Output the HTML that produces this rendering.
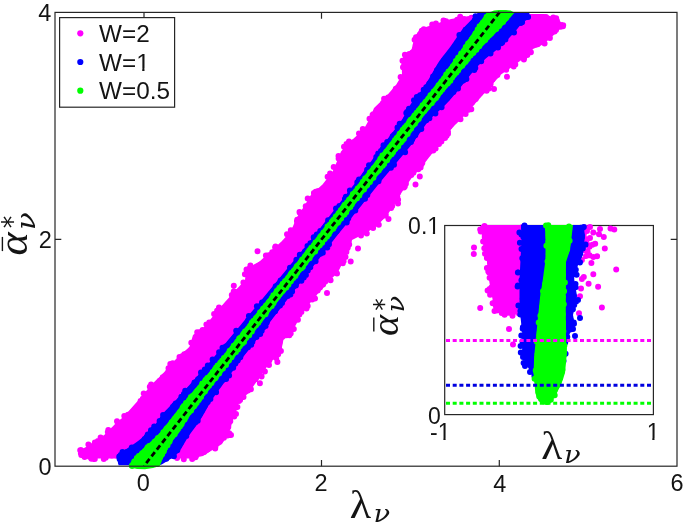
<!DOCTYPE html>
<html><head><meta charset="utf-8"><title>plot</title>
<style>html,body{margin:0;padding:0;background:#fff;width:685px;height:525px;overflow:hidden}svg{display:block}</style>
</head><body>
<svg width="685" height="525" viewBox="0 0 685 525">
<rect width="685" height="525" fill="#fff"/>
<path d="M144 466.2v-6.3M144 12.4v6.3M321.5 466.2v-6.3M321.5 12.4v6.3M499.3 466.2v-6.3M499.3 12.4v6.3M55 239.3h6.3M677 239.3h-6.3" stroke="#262626" stroke-width="1.2" fill="none"/>
<path fill="#ff00ff" d="M420 29 L435 24 L451 19 L470 16 L490 14 L520 14 L544 14 L556 18 L564 25 L559 30 L550 38.6 L543 44.4 L533 49 L527 56 L520 61 L511.5 67.3 L501 74.6 L488 89.2 L475 103.8 L469 111 L462 118 L455 125 L447 134 L439.4 144.2 L428 158.8 L420 169 L413 176 L402 192 L395 203.6 L388 214 L378 225 L364 234 L352 240 L350 249 L343.4 261.5 L337.5 273 L330 280 L324 287 L318.4 293 L311 302 L302.3 312 L296.5 323.8 L290.7 334 L283.4 340 L281 352 L268.6 364.2 L262.8 373 L255.5 383.2 L248.2 393.4 L240 400 L238 405 L234.5 414.6 L230 430 L222 444 L203 456 L191 458.5 L176 458.5 L84 458.5 L80 456 L80 450 L86 447 L97 440.5 L106 433.5 L115.5 423.6 L124.2 416.3 L134.5 404.6 L144 394 L150 386 L162 374.4 L176.5 358.4 L189.6 346.7 L193 335 L204.6 326.7 L216.3 312 L225 302 L239.6 286 L245 280 L246 269 L259.5 261.5 L271 251 L282 241 L288.5 233.8 L292 228.4 L296.5 218 L304 206.5 L311 194.8 L322.5 184.6 L333 171 L341 151.5 L347.5 144 L363.6 129.6 L370 118 L374 108 L386 96.5 L396 85 L402 75 L401.5 59 L411.7 49 L414.6 37Z"/><path fill="#ff00ff" d="M418.8 31.8a3 3 0 1 0 6 0a3 3 0 1 0 -6 0M422.1 30.6a3 3 0 1 0 6 0a3 3 0 1 0 -6 0M424.5 30.3a3 3 0 1 0 6 0a3 3 0 1 0 -6 0M425.9 30.1a3 3 0 1 0 6 0a3 3 0 1 0 -6 0M428.3 29.1a3 3 0 1 0 6 0a3 3 0 1 0 -6 0M430.7 27.8a3 3 0 1 0 6 0a3 3 0 1 0 -6 0M429.2 24.4a3 3 0 1 0 6 0a3 3 0 1 0 -6 0M420.8 29.2a3 3 0 1 0 6 0a3 3 0 1 0 -6 0M431.6 25.4a3 3 0 1 0 6 0a3 3 0 1 0 -6 0M434.4 28a3 3 0 1 0 6 0a3 3 0 1 0 -6 0M436.1 27.3a3 3 0 1 0 6 0a3 3 0 1 0 -6 0M439.1 25.2a3 3 0 1 0 6 0a3 3 0 1 0 -6 0M441.4 24.7a3 3 0 1 0 6 0a3 3 0 1 0 -6 0M445.8 23.1a3 3 0 1 0 6 0a3 3 0 1 0 -6 0M448.1 23.2a3 3 0 1 0 6 0a3 3 0 1 0 -6 0M440.5 20.5a3 3 0 1 0 6 0a3 3 0 1 0 -6 0M432.9 23.5a3 3 0 1 0 6 0a3 3 0 1 0 -6 0M443.1 21.2a3 3 0 1 0 6 0a3 3 0 1 0 -6 0M449.4 22.8a3 3 0 1 0 6 0a3 3 0 1 0 -6 0M452 21.9a3 3 0 1 0 6 0a3 3 0 1 0 -6 0M455.3 22a3 3 0 1 0 6 0a3 3 0 1 0 -6 0M456.3 21.7a3 3 0 1 0 6 0a3 3 0 1 0 -6 0M459.4 21.6a3 3 0 1 0 6 0a3 3 0 1 0 -6 0M462.1 20.3a3 3 0 1 0 6 0a3 3 0 1 0 -6 0M465.1 19.5a3 3 0 1 0 6 0a3 3 0 1 0 -6 0M466.3 20.4a3 3 0 1 0 6 0a3 3 0 1 0 -6 0M457.2 16.7a3 3 0 1 0 6 0a3 3 0 1 0 -6 0M461 18.9a3 3 0 1 0 6 0a3 3 0 1 0 -6 0M459.3 19.6a3 3 0 1 0 6 0a3 3 0 1 0 -6 0M454.2 19.7a3 3 0 1 0 6 0a3 3 0 1 0 -6 0M468.9 19.8a3 3 0 1 0 6 0a3 3 0 1 0 -6 0M471.1 20a3 3 0 1 0 6 0a3 3 0 1 0 -6 0M474.7 19a3 3 0 1 0 6 0a3 3 0 1 0 -6 0M476.5 18.2a3 3 0 1 0 6 0a3 3 0 1 0 -6 0M479.2 18.8a3 3 0 1 0 6 0a3 3 0 1 0 -6 0M482.4 18.8a3 3 0 1 0 6 0a3 3 0 1 0 -6 0M483.1 18a3 3 0 1 0 6 0a3 3 0 1 0 -6 0M486.5 17.1a3 3 0 1 0 6 0a3 3 0 1 0 -6 0M468.4 17.8a3 3 0 1 0 6 0a3 3 0 1 0 -6 0M475 17.5a3 3 0 1 0 6 0a3 3 0 1 0 -6 0M487.2 17.7a3 3 0 1 0 6 0a3 3 0 1 0 -6 0M490.9 18.4a3 3 0 1 0 6 0a3 3 0 1 0 -6 0M494 18.4a3 3 0 1 0 6 0a3 3 0 1 0 -6 0M495.2 17.7a3 3 0 1 0 6 0a3 3 0 1 0 -6 0M497.9 18.4a3 3 0 1 0 6 0a3 3 0 1 0 -6 0M501.9 17.2a3 3 0 1 0 6 0a3 3 0 1 0 -6 0M502.4 17.4a3 3 0 1 0 6 0a3 3 0 1 0 -6 0M505.1 17.8a3 3 0 1 0 6 0a3 3 0 1 0 -6 0M508.5 17.4a3 3 0 1 0 6 0a3 3 0 1 0 -6 0M509.5 17.7a3 3 0 1 0 6 0a3 3 0 1 0 -6 0M512.9 17.9a3 3 0 1 0 6 0a3 3 0 1 0 -6 0M516.9 18.1a3 3 0 1 0 6 0a3 3 0 1 0 -6 0M517.2 17.3a3 3 0 1 0 6 0a3 3 0 1 0 -6 0M519.8 17.5a3 3 0 1 0 6 0a3 3 0 1 0 -6 0M521.9 17a3 3 0 1 0 6 0a3 3 0 1 0 -6 0M524.6 17.2a3 3 0 1 0 6 0a3 3 0 1 0 -6 0M527.5 17a3 3 0 1 0 6 0a3 3 0 1 0 -6 0M531.1 18a3 3 0 1 0 6 0a3 3 0 1 0 -6 0M531.8 17.4a3 3 0 1 0 6 0a3 3 0 1 0 -6 0M534.6 17.6a3 3 0 1 0 6 0a3 3 0 1 0 -6 0M536.5 18.4a3 3 0 1 0 6 0a3 3 0 1 0 -6 0M541 17.7a3 3 0 1 0 6 0a3 3 0 1 0 -6 0M517.6 16.6a3 3 0 1 0 6 0a3 3 0 1 0 -6 0M541.3 17.3a3 3 0 1 0 6 0a3 3 0 1 0 -6 0M543.2 19.6a3 3 0 1 0 6 0a3 3 0 1 0 -6 0M546.6 20.2a3 3 0 1 0 6 0a3 3 0 1 0 -6 0M547.7 20a3 3 0 1 0 6 0a3 3 0 1 0 -6 0M549.7 21.4a3 3 0 1 0 6 0a3 3 0 1 0 -6 0M550.3 17.4a3 3 0 1 0 6 0a3 3 0 1 0 -6 0M543 16.9a3 3 0 1 0 6 0a3 3 0 1 0 -6 0M552.1 23a3 3 0 1 0 6 0a3 3 0 1 0 -6 0M553.8 24.4a3 3 0 1 0 6 0a3 3 0 1 0 -6 0M556.3 25.3a3 3 0 1 0 6 0a3 3 0 1 0 -6 0M557.7 26.8a3 3 0 1 0 6 0a3 3 0 1 0 -6 0M553.2 18.2a3 3 0 1 0 6 0a3 3 0 1 0 -6 0M554 21a3 3 0 1 0 6 0a3 3 0 1 0 -6 0M560.2 25.2a3 3 0 1 0 6 0a3 3 0 1 0 -6 0M555.4 24.1a3 3 0 1 0 6 0a3 3 0 1 0 -6 0M553.6 27.4a3 3 0 1 0 6 0a3 3 0 1 0 -6 0M560 26.3a3 3 0 1 0 6 0a3 3 0 1 0 -6 0M559 25.1a3 3 0 1 0 6 0a3 3 0 1 0 -6 0M551.4 28.4a3 3 0 1 0 6 0a3 3 0 1 0 -6 0M550.5 29.6a3 3 0 1 0 6 0a3 3 0 1 0 -6 0M548.8 32.5a3 3 0 1 0 6 0a3 3 0 1 0 -6 0M546.3 33.1a3 3 0 1 0 6 0a3 3 0 1 0 -6 0M544.5 35.2a3 3 0 1 0 6 0a3 3 0 1 0 -6 0M553 30.1a3 3 0 1 0 6 0a3 3 0 1 0 -6 0M551.6 31.4a3 3 0 1 0 6 0a3 3 0 1 0 -6 0M546.9 38a3 3 0 1 0 6 0a3 3 0 1 0 -6 0M543.2 35.9a3 3 0 1 0 6 0a3 3 0 1 0 -6 0M540.9 39.4a3 3 0 1 0 6 0a3 3 0 1 0 -6 0M540 40.2a3 3 0 1 0 6 0a3 3 0 1 0 -6 0M541.6 43.6a3 3 0 1 0 6 0a3 3 0 1 0 -6 0M536 41.2a3 3 0 1 0 6 0a3 3 0 1 0 -6 0M534.4 43.1a3 3 0 1 0 6 0a3 3 0 1 0 -6 0M532.3 44.4a3 3 0 1 0 6 0a3 3 0 1 0 -6 0M530.6 43.7a3 3 0 1 0 6 0a3 3 0 1 0 -6 0M533.7 44.5a3 3 0 1 0 6 0a3 3 0 1 0 -6 0M534.7 44.3a3 3 0 1 0 6 0a3 3 0 1 0 -6 0M525.8 48.8a3 3 0 1 0 6 0a3 3 0 1 0 -6 0M524.9 49.7a3 3 0 1 0 6 0a3 3 0 1 0 -6 0M522.5 51.7a3 3 0 1 0 6 0a3 3 0 1 0 -6 0M527.9 52.3a3 3 0 1 0 6 0a3 3 0 1 0 -6 0M524.3 55.1a3 3 0 1 0 6 0a3 3 0 1 0 -6 0M520.6 53.6a3 3 0 1 0 6 0a3 3 0 1 0 -6 0M517.4 56.2a3 3 0 1 0 6 0a3 3 0 1 0 -6 0M515 57.8a3 3 0 1 0 6 0a3 3 0 1 0 -6 0M520.9 59.4a3 3 0 1 0 6 0a3 3 0 1 0 -6 0M521.1 58.4a3 3 0 1 0 6 0a3 3 0 1 0 -6 0M514.4 57.6a3 3 0 1 0 6 0a3 3 0 1 0 -6 0M512.3 59.8a3 3 0 1 0 6 0a3 3 0 1 0 -6 0M508.9 62.2a3 3 0 1 0 6 0a3 3 0 1 0 -6 0M507.7 63.2a3 3 0 1 0 6 0a3 3 0 1 0 -6 0M510.7 66.4a3 3 0 1 0 6 0a3 3 0 1 0 -6 0M512.3 64.6a3 3 0 1 0 6 0a3 3 0 1 0 -6 0M505.5 64.2a3 3 0 1 0 6 0a3 3 0 1 0 -6 0M503.1 66.3a3 3 0 1 0 6 0a3 3 0 1 0 -6 0M500.2 67.7a3 3 0 1 0 6 0a3 3 0 1 0 -6 0M499 69.1a3 3 0 1 0 6 0a3 3 0 1 0 -6 0M496.9 70.7a3 3 0 1 0 6 0a3 3 0 1 0 -6 0M503.2 69.8a3 3 0 1 0 6 0a3 3 0 1 0 -6 0M502 68.7a3 3 0 1 0 6 0a3 3 0 1 0 -6 0M493.6 72.9a3 3 0 1 0 6 0a3 3 0 1 0 -6 0M492.3 75.9a3 3 0 1 0 6 0a3 3 0 1 0 -6 0M490.5 76.3a3 3 0 1 0 6 0a3 3 0 1 0 -6 0M489.4 79.5a3 3 0 1 0 6 0a3 3 0 1 0 -6 0M488.5 79.7a3 3 0 1 0 6 0a3 3 0 1 0 -6 0M487.2 81.6a3 3 0 1 0 6 0a3 3 0 1 0 -6 0M485.1 83a3 3 0 1 0 6 0a3 3 0 1 0 -6 0M482 85.9a3 3 0 1 0 6 0a3 3 0 1 0 -6 0M487.6 84.1a3 3 0 1 0 6 0a3 3 0 1 0 -6 0M494.4 75.1a3 3 0 1 0 6 0a3 3 0 1 0 -6 0M485.5 88.8a3 3 0 1 0 6 0a3 3 0 1 0 -6 0M485.2 88.2a3 3 0 1 0 6 0a3 3 0 1 0 -6 0M480.8 87a3 3 0 1 0 6 0a3 3 0 1 0 -6 0M479.6 90.4a3 3 0 1 0 6 0a3 3 0 1 0 -6 0M478.2 91.1a3 3 0 1 0 6 0a3 3 0 1 0 -6 0M477.1 93.1a3 3 0 1 0 6 0a3 3 0 1 0 -6 0M474.9 94.3a3 3 0 1 0 6 0a3 3 0 1 0 -6 0M473.9 95.8a3 3 0 1 0 6 0a3 3 0 1 0 -6 0M472.3 98.9a3 3 0 1 0 6 0a3 3 0 1 0 -6 0M470.1 99.9a3 3 0 1 0 6 0a3 3 0 1 0 -6 0M482.1 88.3a3 3 0 1 0 6 0a3 3 0 1 0 -6 0M472.7 98.9a3 3 0 1 0 6 0a3 3 0 1 0 -6 0M483.6 90.7a3 3 0 1 0 6 0a3 3 0 1 0 -6 0M483 88.5a3 3 0 1 0 6 0a3 3 0 1 0 -6 0M469 102.4a3 3 0 1 0 6 0a3 3 0 1 0 -6 0M465.7 104.4a3 3 0 1 0 6 0a3 3 0 1 0 -6 0M463.7 108.4a3 3 0 1 0 6 0a3 3 0 1 0 -6 0M465.6 109.7a3 3 0 1 0 6 0a3 3 0 1 0 -6 0M468.3 109.3a3 3 0 1 0 6 0a3 3 0 1 0 -6 0M463 108.2a3 3 0 1 0 6 0a3 3 0 1 0 -6 0M461.3 111.3a3 3 0 1 0 6 0a3 3 0 1 0 -6 0M458 113.3a3 3 0 1 0 6 0a3 3 0 1 0 -6 0M457.1 115.4a3 3 0 1 0 6 0a3 3 0 1 0 -6 0M463.9 109.9a3 3 0 1 0 6 0a3 3 0 1 0 -6 0M462.6 114a3 3 0 1 0 6 0a3 3 0 1 0 -6 0M454.9 115.8a3 3 0 1 0 6 0a3 3 0 1 0 -6 0M454.5 118a3 3 0 1 0 6 0a3 3 0 1 0 -6 0M452.2 120a3 3 0 1 0 6 0a3 3 0 1 0 -6 0M451.3 121.1a3 3 0 1 0 6 0a3 3 0 1 0 -6 0M457.5 119.3a3 3 0 1 0 6 0a3 3 0 1 0 -6 0M455.5 118.8a3 3 0 1 0 6 0a3 3 0 1 0 -6 0M448.7 123a3 3 0 1 0 6 0a3 3 0 1 0 -6 0M447.5 124.8a3 3 0 1 0 6 0a3 3 0 1 0 -6 0M446.2 126.4a3 3 0 1 0 6 0a3 3 0 1 0 -6 0M444.1 127.7a3 3 0 1 0 6 0a3 3 0 1 0 -6 0M442.2 131a3 3 0 1 0 6 0a3 3 0 1 0 -6 0M445 133.8a3 3 0 1 0 6 0a3 3 0 1 0 -6 0M445 131.9a3 3 0 1 0 6 0a3 3 0 1 0 -6 0M439.8 132.4a3 3 0 1 0 6 0a3 3 0 1 0 -6 0M438.8 134.6a3 3 0 1 0 6 0a3 3 0 1 0 -6 0M436.2 136.8a3 3 0 1 0 6 0a3 3 0 1 0 -6 0M435.4 138.2a3 3 0 1 0 6 0a3 3 0 1 0 -6 0M433.6 141.2a3 3 0 1 0 6 0a3 3 0 1 0 -6 0M442 138a3 3 0 1 0 6 0a3 3 0 1 0 -6 0M443.6 135.8a3 3 0 1 0 6 0a3 3 0 1 0 -6 0M438.4 141.6a3 3 0 1 0 6 0a3 3 0 1 0 -6 0M433.7 142.6a3 3 0 1 0 6 0a3 3 0 1 0 -6 0M429.9 145.3a3 3 0 1 0 6 0a3 3 0 1 0 -6 0M429.3 147.6a3 3 0 1 0 6 0a3 3 0 1 0 -6 0M428.4 148.8a3 3 0 1 0 6 0a3 3 0 1 0 -6 0M426.6 151.5a3 3 0 1 0 6 0a3 3 0 1 0 -6 0M424.8 153.5a3 3 0 1 0 6 0a3 3 0 1 0 -6 0M421.5 155.9a3 3 0 1 0 6 0a3 3 0 1 0 -6 0M431.5 146.1a3 3 0 1 0 6 0a3 3 0 1 0 -6 0M432.6 148.5a3 3 0 1 0 6 0a3 3 0 1 0 -6 0M436 143.9a3 3 0 1 0 6 0a3 3 0 1 0 -6 0M430.3 150.6a3 3 0 1 0 6 0a3 3 0 1 0 -6 0M421.7 156.9a3 3 0 1 0 6 0a3 3 0 1 0 -6 0M420.7 158.7a3 3 0 1 0 6 0a3 3 0 1 0 -6 0M418.8 160.8a3 3 0 1 0 6 0a3 3 0 1 0 -6 0M417.7 163.1a3 3 0 1 0 6 0a3 3 0 1 0 -6 0M415.5 165.5a3 3 0 1 0 6 0a3 3 0 1 0 -6 0M419.3 163.1a3 3 0 1 0 6 0a3 3 0 1 0 -6 0M418.4 164.4a3 3 0 1 0 6 0a3 3 0 1 0 -6 0M417.6 167.5a3 3 0 1 0 6 0a3 3 0 1 0 -6 0M413.2 166.3a3 3 0 1 0 6 0a3 3 0 1 0 -6 0M412 168.1a3 3 0 1 0 6 0a3 3 0 1 0 -6 0M410.2 171.5a3 3 0 1 0 6 0a3 3 0 1 0 -6 0M407.2 172.6a3 3 0 1 0 6 0a3 3 0 1 0 -6 0M410.4 172.7a3 3 0 1 0 6 0a3 3 0 1 0 -6 0M415.3 169.3a3 3 0 1 0 6 0a3 3 0 1 0 -6 0M405.7 174.6a3 3 0 1 0 6 0a3 3 0 1 0 -6 0M404 177.2a3 3 0 1 0 6 0a3 3 0 1 0 -6 0M402.8 178.7a3 3 0 1 0 6 0a3 3 0 1 0 -6 0M401.5 181a3 3 0 1 0 6 0a3 3 0 1 0 -6 0M401.7 182.7a3 3 0 1 0 6 0a3 3 0 1 0 -6 0M400 184.2a3 3 0 1 0 6 0a3 3 0 1 0 -6 0M398 185.8a3 3 0 1 0 6 0a3 3 0 1 0 -6 0M396.3 188.8a3 3 0 1 0 6 0a3 3 0 1 0 -6 0M401.8 186.4a3 3 0 1 0 6 0a3 3 0 1 0 -6 0M408.3 174.9a3 3 0 1 0 6 0a3 3 0 1 0 -6 0M401 187.5a3 3 0 1 0 6 0a3 3 0 1 0 -6 0M402.9 183.7a3 3 0 1 0 6 0a3 3 0 1 0 -6 0M395.3 190a3 3 0 1 0 6 0a3 3 0 1 0 -6 0M394.6 193.3a3 3 0 1 0 6 0a3 3 0 1 0 -6 0M392.3 195.1a3 3 0 1 0 6 0a3 3 0 1 0 -6 0M390.9 197.3a3 3 0 1 0 6 0a3 3 0 1 0 -6 0M388.8 201.6a3 3 0 1 0 6 0a3 3 0 1 0 -6 0M394.3 196.7a3 3 0 1 0 6 0a3 3 0 1 0 -6 0M392.5 200.2a3 3 0 1 0 6 0a3 3 0 1 0 -6 0M395.1 199.8a3 3 0 1 0 6 0a3 3 0 1 0 -6 0M389 202a3 3 0 1 0 6 0a3 3 0 1 0 -6 0M386.7 205.3a3 3 0 1 0 6 0a3 3 0 1 0 -6 0M385.9 207.3a3 3 0 1 0 6 0a3 3 0 1 0 -6 0M384.9 208.1a3 3 0 1 0 6 0a3 3 0 1 0 -6 0M382.1 211a3 3 0 1 0 6 0a3 3 0 1 0 -6 0M389.2 206.1a3 3 0 1 0 6 0a3 3 0 1 0 -6 0M388.1 208a3 3 0 1 0 6 0a3 3 0 1 0 -6 0M381.5 211.2a3 3 0 1 0 6 0a3 3 0 1 0 -6 0M379.6 213.1a3 3 0 1 0 6 0a3 3 0 1 0 -6 0M377.9 217.3a3 3 0 1 0 6 0a3 3 0 1 0 -6 0M376 217.4a3 3 0 1 0 6 0a3 3 0 1 0 -6 0M374 220.6a3 3 0 1 0 6 0a3 3 0 1 0 -6 0M373.8 221.4a3 3 0 1 0 6 0a3 3 0 1 0 -6 0M382 215.5a3 3 0 1 0 6 0a3 3 0 1 0 -6 0M382.8 214.9a3 3 0 1 0 6 0a3 3 0 1 0 -6 0M375.8 224.8a3 3 0 1 0 6 0a3 3 0 1 0 -6 0M371 223a3 3 0 1 0 6 0a3 3 0 1 0 -6 0M368.4 224.4a3 3 0 1 0 6 0a3 3 0 1 0 -6 0M367.4 224.6a3 3 0 1 0 6 0a3 3 0 1 0 -6 0M365.2 227.7a3 3 0 1 0 6 0a3 3 0 1 0 -6 0M363.6 227.8a3 3 0 1 0 6 0a3 3 0 1 0 -6 0M360.4 230.2a3 3 0 1 0 6 0a3 3 0 1 0 -6 0M370.1 227.9a3 3 0 1 0 6 0a3 3 0 1 0 -6 0M363.8 233.4a3 3 0 1 0 6 0a3 3 0 1 0 -6 0M363.3 229.9a3 3 0 1 0 6 0a3 3 0 1 0 -6 0M372 224a3 3 0 1 0 6 0a3 3 0 1 0 -6 0M357.3 230.9a3 3 0 1 0 6 0a3 3 0 1 0 -6 0M356.3 232.3a3 3 0 1 0 6 0a3 3 0 1 0 -6 0M353.2 232.8a3 3 0 1 0 6 0a3 3 0 1 0 -6 0M350.8 235.1a3 3 0 1 0 6 0a3 3 0 1 0 -6 0M348.8 236.2a3 3 0 1 0 6 0a3 3 0 1 0 -6 0M358.8 232.7a3 3 0 1 0 6 0a3 3 0 1 0 -6 0M356.4 233.4a3 3 0 1 0 6 0a3 3 0 1 0 -6 0M358 235.5a3 3 0 1 0 6 0a3 3 0 1 0 -6 0M345.4 240.8a3 3 0 1 0 6 0a3 3 0 1 0 -6 0M343.7 243.1a3 3 0 1 0 6 0a3 3 0 1 0 -6 0M342.9 247.7a3 3 0 1 0 6 0a3 3 0 1 0 -6 0M344.7 247.7a3 3 0 1 0 6 0a3 3 0 1 0 -6 0M346.2 244.6a3 3 0 1 0 6 0a3 3 0 1 0 -6 0M343.2 247.2a3 3 0 1 0 6 0a3 3 0 1 0 -6 0M341.4 250.7a3 3 0 1 0 6 0a3 3 0 1 0 -6 0M340.5 254a3 3 0 1 0 6 0a3 3 0 1 0 -6 0M339 254.5a3 3 0 1 0 6 0a3 3 0 1 0 -6 0M338.2 257.6a3 3 0 1 0 6 0a3 3 0 1 0 -6 0M343.4 251.9a3 3 0 1 0 6 0a3 3 0 1 0 -6 0M340.6 261.2a3 3 0 1 0 6 0a3 3 0 1 0 -6 0M342.5 257.1a3 3 0 1 0 6 0a3 3 0 1 0 -6 0M336.5 261.1a3 3 0 1 0 6 0a3 3 0 1 0 -6 0M336.1 262.7a3 3 0 1 0 6 0a3 3 0 1 0 -6 0M333.8 264.5a3 3 0 1 0 6 0a3 3 0 1 0 -6 0M333.3 268a3 3 0 1 0 6 0a3 3 0 1 0 -6 0M330.5 270.7a3 3 0 1 0 6 0a3 3 0 1 0 -6 0M339.8 263.2a3 3 0 1 0 6 0a3 3 0 1 0 -6 0M339.6 262.4a3 3 0 1 0 6 0a3 3 0 1 0 -6 0M339.9 262.6a3 3 0 1 0 6 0a3 3 0 1 0 -6 0M331.3 270.6a3 3 0 1 0 6 0a3 3 0 1 0 -6 0M328.1 273.2a3 3 0 1 0 6 0a3 3 0 1 0 -6 0M327.5 274.5a3 3 0 1 0 6 0a3 3 0 1 0 -6 0M325.4 276.5a3 3 0 1 0 6 0a3 3 0 1 0 -6 0M334 273.4a3 3 0 1 0 6 0a3 3 0 1 0 -6 0M327.6 280.2a3 3 0 1 0 6 0a3 3 0 1 0 -6 0M323 278.6a3 3 0 1 0 6 0a3 3 0 1 0 -6 0M320.7 282.2a3 3 0 1 0 6 0a3 3 0 1 0 -6 0M319.9 283.1a3 3 0 1 0 6 0a3 3 0 1 0 -6 0M322.3 281.4a3 3 0 1 0 6 0a3 3 0 1 0 -6 0M320.1 284.4a3 3 0 1 0 6 0a3 3 0 1 0 -6 0M318.7 285a3 3 0 1 0 6 0a3 3 0 1 0 -6 0M314.6 287.4a3 3 0 1 0 6 0a3 3 0 1 0 -6 0M313.5 289.3a3 3 0 1 0 6 0a3 3 0 1 0 -6 0M317 287.6a3 3 0 1 0 6 0a3 3 0 1 0 -6 0M314.7 290.4a3 3 0 1 0 6 0a3 3 0 1 0 -6 0M311 293a3 3 0 1 0 6 0a3 3 0 1 0 -6 0M310.8 293.4a3 3 0 1 0 6 0a3 3 0 1 0 -6 0M307.6 296.1a3 3 0 1 0 6 0a3 3 0 1 0 -6 0M304.9 299.2a3 3 0 1 0 6 0a3 3 0 1 0 -6 0M309.2 299.4a3 3 0 1 0 6 0a3 3 0 1 0 -6 0M312 298.5a3 3 0 1 0 6 0a3 3 0 1 0 -6 0M304.1 301.4a3 3 0 1 0 6 0a3 3 0 1 0 -6 0M301.6 303.2a3 3 0 1 0 6 0a3 3 0 1 0 -6 0M301.6 304.5a3 3 0 1 0 6 0a3 3 0 1 0 -6 0M299.3 305.9a3 3 0 1 0 6 0a3 3 0 1 0 -6 0M297.4 309.3a3 3 0 1 0 6 0a3 3 0 1 0 -6 0M302.5 306.4a3 3 0 1 0 6 0a3 3 0 1 0 -6 0M304.7 306a3 3 0 1 0 6 0a3 3 0 1 0 -6 0M303.5 308.6a3 3 0 1 0 6 0a3 3 0 1 0 -6 0M295.6 311.1a3 3 0 1 0 6 0a3 3 0 1 0 -6 0M293.4 314.8a3 3 0 1 0 6 0a3 3 0 1 0 -6 0M292.6 317.1a3 3 0 1 0 6 0a3 3 0 1 0 -6 0M292.5 318.1a3 3 0 1 0 6 0a3 3 0 1 0 -6 0M289.8 321.9a3 3 0 1 0 6 0a3 3 0 1 0 -6 0M298.4 311.9a3 3 0 1 0 6 0a3 3 0 1 0 -6 0M294.9 319.7a3 3 0 1 0 6 0a3 3 0 1 0 -6 0M296.4 314.4a3 3 0 1 0 6 0a3 3 0 1 0 -6 0M289.2 324.5a3 3 0 1 0 6 0a3 3 0 1 0 -6 0M288.9 324.7a3 3 0 1 0 6 0a3 3 0 1 0 -6 0M286.4 327.9a3 3 0 1 0 6 0a3 3 0 1 0 -6 0M285.1 329.8a3 3 0 1 0 6 0a3 3 0 1 0 -6 0M290.8 329.1a3 3 0 1 0 6 0a3 3 0 1 0 -6 0M287.7 333.6a3 3 0 1 0 6 0a3 3 0 1 0 -6 0M283.6 333a3 3 0 1 0 6 0a3 3 0 1 0 -6 0M282.1 333.2a3 3 0 1 0 6 0a3 3 0 1 0 -6 0M279.2 335.1a3 3 0 1 0 6 0a3 3 0 1 0 -6 0M286.4 335.2a3 3 0 1 0 6 0a3 3 0 1 0 -6 0M283.7 335.3a3 3 0 1 0 6 0a3 3 0 1 0 -6 0M276.8 341.6a3 3 0 1 0 6 0a3 3 0 1 0 -6 0M276.5 342.7a3 3 0 1 0 6 0a3 3 0 1 0 -6 0M275.8 346.5a3 3 0 1 0 6 0a3 3 0 1 0 -6 0M275.9 346.7a3 3 0 1 0 6 0a3 3 0 1 0 -6 0M273.9 349.7a3 3 0 1 0 6 0a3 3 0 1 0 -6 0M275.9 348.2a3 3 0 1 0 6 0a3 3 0 1 0 -6 0M277.9 351.1a3 3 0 1 0 6 0a3 3 0 1 0 -6 0M274.5 349.1a3 3 0 1 0 6 0a3 3 0 1 0 -6 0M272.8 352.9a3 3 0 1 0 6 0a3 3 0 1 0 -6 0M270.8 354.1a3 3 0 1 0 6 0a3 3 0 1 0 -6 0M269.5 355.4a3 3 0 1 0 6 0a3 3 0 1 0 -6 0M268.5 357.1a3 3 0 1 0 6 0a3 3 0 1 0 -6 0M266.1 358.7a3 3 0 1 0 6 0a3 3 0 1 0 -6 0M263.4 361.8a3 3 0 1 0 6 0a3 3 0 1 0 -6 0M275.2 354.3a3 3 0 1 0 6 0a3 3 0 1 0 -6 0M266.3 360.5a3 3 0 1 0 6 0a3 3 0 1 0 -6 0M273.2 357.9a3 3 0 1 0 6 0a3 3 0 1 0 -6 0M261.9 363.3a3 3 0 1 0 6 0a3 3 0 1 0 -6 0M260.1 366.6a3 3 0 1 0 6 0a3 3 0 1 0 -6 0M258.5 367a3 3 0 1 0 6 0a3 3 0 1 0 -6 0M258.2 368.9a3 3 0 1 0 6 0a3 3 0 1 0 -6 0M261.9 371.4a3 3 0 1 0 6 0a3 3 0 1 0 -6 0M266 364.9a3 3 0 1 0 6 0a3 3 0 1 0 -6 0M255.7 372.9a3 3 0 1 0 6 0a3 3 0 1 0 -6 0M253.6 374a3 3 0 1 0 6 0a3 3 0 1 0 -6 0M253.6 375.8a3 3 0 1 0 6 0a3 3 0 1 0 -6 0M250.8 378.8a3 3 0 1 0 6 0a3 3 0 1 0 -6 0M250.2 379.3a3 3 0 1 0 6 0a3 3 0 1 0 -6 0M258.6 376.4a3 3 0 1 0 6 0a3 3 0 1 0 -6 0M252.3 379.3a3 3 0 1 0 6 0a3 3 0 1 0 -6 0M253.1 378a3 3 0 1 0 6 0a3 3 0 1 0 -6 0M249.7 381.3a3 3 0 1 0 6 0a3 3 0 1 0 -6 0M246.7 383.6a3 3 0 1 0 6 0a3 3 0 1 0 -6 0M245.2 387.1a3 3 0 1 0 6 0a3 3 0 1 0 -6 0M244.8 387.7a3 3 0 1 0 6 0a3 3 0 1 0 -6 0M242.3 389.8a3 3 0 1 0 6 0a3 3 0 1 0 -6 0M245.2 390.3a3 3 0 1 0 6 0a3 3 0 1 0 -6 0M244.9 390.5a3 3 0 1 0 6 0a3 3 0 1 0 -6 0M247.9 389.3a3 3 0 1 0 6 0a3 3 0 1 0 -6 0M242.3 391.1a3 3 0 1 0 6 0a3 3 0 1 0 -6 0M239.6 393.9a3 3 0 1 0 6 0a3 3 0 1 0 -6 0M238.1 393.8a3 3 0 1 0 6 0a3 3 0 1 0 -6 0M236.6 396.3a3 3 0 1 0 6 0a3 3 0 1 0 -6 0M240.5 396.9a3 3 0 1 0 6 0a3 3 0 1 0 -6 0M235.7 398a3 3 0 1 0 6 0a3 3 0 1 0 -6 0M237.1 399.9a3 3 0 1 0 6 0a3 3 0 1 0 -6 0M234 399a3 3 0 1 0 6 0a3 3 0 1 0 -6 0M231.7 402.2a3 3 0 1 0 6 0a3 3 0 1 0 -6 0M236 401a3 3 0 1 0 6 0a3 3 0 1 0 -6 0M230.6 405.1a3 3 0 1 0 6 0a3 3 0 1 0 -6 0M229.4 407.7a3 3 0 1 0 6 0a3 3 0 1 0 -6 0M229.7 410.3a3 3 0 1 0 6 0a3 3 0 1 0 -6 0M228.4 413a3 3 0 1 0 6 0a3 3 0 1 0 -6 0M232 408a3 3 0 1 0 6 0a3 3 0 1 0 -6 0M234.4 406.9a3 3 0 1 0 6 0a3 3 0 1 0 -6 0M228.2 414.3a3 3 0 1 0 6 0a3 3 0 1 0 -6 0M226.3 418.3a3 3 0 1 0 6 0a3 3 0 1 0 -6 0M226.3 419.6a3 3 0 1 0 6 0a3 3 0 1 0 -6 0M224.8 423.8a3 3 0 1 0 6 0a3 3 0 1 0 -6 0M224.2 424.3a3 3 0 1 0 6 0a3 3 0 1 0 -6 0M222.9 427.8a3 3 0 1 0 6 0a3 3 0 1 0 -6 0M227.3 421.3a3 3 0 1 0 6 0a3 3 0 1 0 -6 0M225.3 426.9a3 3 0 1 0 6 0a3 3 0 1 0 -6 0M231.2 415.2a3 3 0 1 0 6 0a3 3 0 1 0 -6 0M231.2 416.5a3 3 0 1 0 6 0a3 3 0 1 0 -6 0M222.3 430.3a3 3 0 1 0 6 0a3 3 0 1 0 -6 0M221.3 432.7a3 3 0 1 0 6 0a3 3 0 1 0 -6 0M219.9 434.8a3 3 0 1 0 6 0a3 3 0 1 0 -6 0M219 435.5a3 3 0 1 0 6 0a3 3 0 1 0 -6 0M217.7 440a3 3 0 1 0 6 0a3 3 0 1 0 -6 0M216.1 441.1a3 3 0 1 0 6 0a3 3 0 1 0 -6 0M224.5 435.4a3 3 0 1 0 6 0a3 3 0 1 0 -6 0M225.4 432.9a3 3 0 1 0 6 0a3 3 0 1 0 -6 0M220.9 437.7a3 3 0 1 0 6 0a3 3 0 1 0 -6 0M226.2 433.3a3 3 0 1 0 6 0a3 3 0 1 0 -6 0M216.1 441a3 3 0 1 0 6 0a3 3 0 1 0 -6 0M214.6 442.6a3 3 0 1 0 6 0a3 3 0 1 0 -6 0M212.1 443.3a3 3 0 1 0 6 0a3 3 0 1 0 -6 0M209.9 446.1a3 3 0 1 0 6 0a3 3 0 1 0 -6 0M208.4 446.4a3 3 0 1 0 6 0a3 3 0 1 0 -6 0M205.1 448a3 3 0 1 0 6 0a3 3 0 1 0 -6 0M204.4 449.4a3 3 0 1 0 6 0a3 3 0 1 0 -6 0M200.8 451.2a3 3 0 1 0 6 0a3 3 0 1 0 -6 0M199.6 452.1a3 3 0 1 0 6 0a3 3 0 1 0 -6 0M212.4 446.8a3 3 0 1 0 6 0a3 3 0 1 0 -6 0M211.9 447.8a3 3 0 1 0 6 0a3 3 0 1 0 -6 0M201.1 452a3 3 0 1 0 6 0a3 3 0 1 0 -6 0M212.2 448.6a3 3 0 1 0 6 0a3 3 0 1 0 -6 0M197.6 453.1a3 3 0 1 0 6 0a3 3 0 1 0 -6 0M196.7 452.2a3 3 0 1 0 6 0a3 3 0 1 0 -6 0M193.3 453a3 3 0 1 0 6 0a3 3 0 1 0 -6 0M190.9 453.4a3 3 0 1 0 6 0a3 3 0 1 0 -6 0M188.6 455a3 3 0 1 0 6 0a3 3 0 1 0 -6 0M193.1 456a3 3 0 1 0 6 0a3 3 0 1 0 -6 0M189.2 458.9a3 3 0 1 0 6 0a3 3 0 1 0 -6 0M192.5 457.2a3 3 0 1 0 6 0a3 3 0 1 0 -6 0M186.7 455.3a3 3 0 1 0 6 0a3 3 0 1 0 -6 0M184.8 454.7a3 3 0 1 0 6 0a3 3 0 1 0 -6 0M180.7 455.3a3 3 0 1 0 6 0a3 3 0 1 0 -6 0M179.3 454.2a3 3 0 1 0 6 0a3 3 0 1 0 -6 0M175.6 455.2a3 3 0 1 0 6 0a3 3 0 1 0 -6 0M175.2 454a3 3 0 1 0 6 0a3 3 0 1 0 -6 0M180.8 459.3a3 3 0 1 0 6 0a3 3 0 1 0 -6 0M174.1 458a3 3 0 1 0 6 0a3 3 0 1 0 -6 0M174.4 457.1a3 3 0 1 0 6 0a3 3 0 1 0 -6 0M171 455.2a3 3 0 1 0 6 0a3 3 0 1 0 -6 0M168.7 455.1a3 3 0 1 0 6 0a3 3 0 1 0 -6 0M167.2 454.1a3 3 0 1 0 6 0a3 3 0 1 0 -6 0M163.7 455.2a3 3 0 1 0 6 0a3 3 0 1 0 -6 0M162.8 454.9a3 3 0 1 0 6 0a3 3 0 1 0 -6 0M159.6 454.9a3 3 0 1 0 6 0a3 3 0 1 0 -6 0M158.2 455.1a3 3 0 1 0 6 0a3 3 0 1 0 -6 0M154.3 454.1a3 3 0 1 0 6 0a3 3 0 1 0 -6 0M153.5 454.6a3 3 0 1 0 6 0a3 3 0 1 0 -6 0M149.4 455.4a3 3 0 1 0 6 0a3 3 0 1 0 -6 0M146.8 455.3a3 3 0 1 0 6 0a3 3 0 1 0 -6 0M144.9 454.6a3 3 0 1 0 6 0a3 3 0 1 0 -6 0M142.4 455a3 3 0 1 0 6 0a3 3 0 1 0 -6 0M140.5 454.6a3 3 0 1 0 6 0a3 3 0 1 0 -6 0M138.1 454.4a3 3 0 1 0 6 0a3 3 0 1 0 -6 0M135.6 454.8a3 3 0 1 0 6 0a3 3 0 1 0 -6 0M134.2 454.5a3 3 0 1 0 6 0a3 3 0 1 0 -6 0M130.7 455.1a3 3 0 1 0 6 0a3 3 0 1 0 -6 0M127.6 454.3a3 3 0 1 0 6 0a3 3 0 1 0 -6 0M125.9 455.2a3 3 0 1 0 6 0a3 3 0 1 0 -6 0M123.4 455.3a3 3 0 1 0 6 0a3 3 0 1 0 -6 0M121.8 454.8a3 3 0 1 0 6 0a3 3 0 1 0 -6 0M119.5 454.8a3 3 0 1 0 6 0a3 3 0 1 0 -6 0M116.1 455.4a3 3 0 1 0 6 0a3 3 0 1 0 -6 0M113.4 455.4a3 3 0 1 0 6 0a3 3 0 1 0 -6 0M110.7 454.3a3 3 0 1 0 6 0a3 3 0 1 0 -6 0M108.8 455.4a3 3 0 1 0 6 0a3 3 0 1 0 -6 0M106.4 454.9a3 3 0 1 0 6 0a3 3 0 1 0 -6 0M102.9 455.3a3 3 0 1 0 6 0a3 3 0 1 0 -6 0M100.7 453.9a3 3 0 1 0 6 0a3 3 0 1 0 -6 0M98.6 454.2a3 3 0 1 0 6 0a3 3 0 1 0 -6 0M97.5 453.9a3 3 0 1 0 6 0a3 3 0 1 0 -6 0M94.3 454a3 3 0 1 0 6 0a3 3 0 1 0 -6 0M90.9 455.2a3 3 0 1 0 6 0a3 3 0 1 0 -6 0M88.8 454a3 3 0 1 0 6 0a3 3 0 1 0 -6 0M88.1 454.9a3 3 0 1 0 6 0a3 3 0 1 0 -6 0M84 455.2a3 3 0 1 0 6 0a3 3 0 1 0 -6 0M81.3 455.1a3 3 0 1 0 6 0a3 3 0 1 0 -6 0M159.8 457.6a3 3 0 1 0 6 0a3 3 0 1 0 -6 0M88.4 458.7a3 3 0 1 0 6 0a3 3 0 1 0 -6 0M148.8 457.6a3 3 0 1 0 6 0a3 3 0 1 0 -6 0M143.6 459.4a3 3 0 1 0 6 0a3 3 0 1 0 -6 0M156.2 458.9a3 3 0 1 0 6 0a3 3 0 1 0 -6 0M86.9 456.9a3 3 0 1 0 6 0a3 3 0 1 0 -6 0M90.6 458.9a3 3 0 1 0 6 0a3 3 0 1 0 -6 0M100.8 459.1a3 3 0 1 0 6 0a3 3 0 1 0 -6 0M124.2 457.1a3 3 0 1 0 6 0a3 3 0 1 0 -6 0M139.9 456.2a3 3 0 1 0 6 0a3 3 0 1 0 -6 0M121.9 457.3a3 3 0 1 0 6 0a3 3 0 1 0 -6 0M91.8 459.1a3 3 0 1 0 6 0a3 3 0 1 0 -6 0M81.6 457.1a3 3 0 1 0 6 0a3 3 0 1 0 -6 0M136.7 456.5a3 3 0 1 0 6 0a3 3 0 1 0 -6 0M148.6 455.7a3 3 0 1 0 6 0a3 3 0 1 0 -6 0M119.9 458.1a3 3 0 1 0 6 0a3 3 0 1 0 -6 0M102.7 457.8a3 3 0 1 0 6 0a3 3 0 1 0 -6 0M156.7 456.7a3 3 0 1 0 6 0a3 3 0 1 0 -6 0M83.1 454.7a3 3 0 1 0 6 0a3 3 0 1 0 -6 0M79.9 454.6a3 3 0 1 0 6 0a3 3 0 1 0 -6 0M81.1 454.2a3 3 0 1 0 6 0a3 3 0 1 0 -6 0M80 452.1a3 3 0 1 0 6 0a3 3 0 1 0 -6 0M78.3 455.1a3 3 0 1 0 6 0a3 3 0 1 0 -6 0M77.9 453.4a3 3 0 1 0 6 0a3 3 0 1 0 -6 0M81.1 451.5a3 3 0 1 0 6 0a3 3 0 1 0 -6 0M82.5 451.8a3 3 0 1 0 6 0a3 3 0 1 0 -6 0M77.2 450.3a3 3 0 1 0 6 0a3 3 0 1 0 -6 0M77.8 450a3 3 0 1 0 6 0a3 3 0 1 0 -6 0M85.5 450.1a3 3 0 1 0 6 0a3 3 0 1 0 -6 0M88.2 447.8a3 3 0 1 0 6 0a3 3 0 1 0 -6 0M90.7 446.8a3 3 0 1 0 6 0a3 3 0 1 0 -6 0M92.2 446.8a3 3 0 1 0 6 0a3 3 0 1 0 -6 0M94 444.3a3 3 0 1 0 6 0a3 3 0 1 0 -6 0M91.2 444.8a3 3 0 1 0 6 0a3 3 0 1 0 -6 0M91.9 442.4a3 3 0 1 0 6 0a3 3 0 1 0 -6 0M85.4 444.5a3 3 0 1 0 6 0a3 3 0 1 0 -6 0M97.8 442.4a3 3 0 1 0 6 0a3 3 0 1 0 -6 0M99.5 441.3a3 3 0 1 0 6 0a3 3 0 1 0 -6 0M102.3 439.8a3 3 0 1 0 6 0a3 3 0 1 0 -6 0M104.5 436.6a3 3 0 1 0 6 0a3 3 0 1 0 -6 0M95 441a3 3 0 1 0 6 0a3 3 0 1 0 -6 0M97.6 437.6a3 3 0 1 0 6 0a3 3 0 1 0 -6 0M106.2 436.3a3 3 0 1 0 6 0a3 3 0 1 0 -6 0M107.7 434.2a3 3 0 1 0 6 0a3 3 0 1 0 -6 0M110.9 429.9a3 3 0 1 0 6 0a3 3 0 1 0 -6 0M111.9 429.9a3 3 0 1 0 6 0a3 3 0 1 0 -6 0M114.5 427.4a3 3 0 1 0 6 0a3 3 0 1 0 -6 0M104.8 431.9a3 3 0 1 0 6 0a3 3 0 1 0 -6 0M105.3 430a3 3 0 1 0 6 0a3 3 0 1 0 -6 0M117.2 425.2a3 3 0 1 0 6 0a3 3 0 1 0 -6 0M118.2 422.8a3 3 0 1 0 6 0a3 3 0 1 0 -6 0M121.4 421.6a3 3 0 1 0 6 0a3 3 0 1 0 -6 0M122.7 420.5a3 3 0 1 0 6 0a3 3 0 1 0 -6 0M114.1 421.5a3 3 0 1 0 6 0a3 3 0 1 0 -6 0M114 421.3a3 3 0 1 0 6 0a3 3 0 1 0 -6 0M124.9 418.4a3 3 0 1 0 6 0a3 3 0 1 0 -6 0M127.4 415.9a3 3 0 1 0 6 0a3 3 0 1 0 -6 0M128.4 413.3a3 3 0 1 0 6 0a3 3 0 1 0 -6 0M130.1 411.8a3 3 0 1 0 6 0a3 3 0 1 0 -6 0M132.3 409.5a3 3 0 1 0 6 0a3 3 0 1 0 -6 0M133.3 408.7a3 3 0 1 0 6 0a3 3 0 1 0 -6 0M125.2 415.3a3 3 0 1 0 6 0a3 3 0 1 0 -6 0M121.3 416.1a3 3 0 1 0 6 0a3 3 0 1 0 -6 0M125 414.7a3 3 0 1 0 6 0a3 3 0 1 0 -6 0M136.4 405.4a3 3 0 1 0 6 0a3 3 0 1 0 -6 0M137.3 404.7a3 3 0 1 0 6 0a3 3 0 1 0 -6 0M138.4 401.9a3 3 0 1 0 6 0a3 3 0 1 0 -6 0M141.9 399a3 3 0 1 0 6 0a3 3 0 1 0 -6 0M143.4 397.4a3 3 0 1 0 6 0a3 3 0 1 0 -6 0M137.6 401.1a3 3 0 1 0 6 0a3 3 0 1 0 -6 0M139.8 398.7a3 3 0 1 0 6 0a3 3 0 1 0 -6 0M145 395.6a3 3 0 1 0 6 0a3 3 0 1 0 -6 0M146.1 393a3 3 0 1 0 6 0a3 3 0 1 0 -6 0M147.5 392a3 3 0 1 0 6 0a3 3 0 1 0 -6 0M149.2 390.5a3 3 0 1 0 6 0a3 3 0 1 0 -6 0M140.7 393.4a3 3 0 1 0 6 0a3 3 0 1 0 -6 0M146.8 386.8a3 3 0 1 0 6 0a3 3 0 1 0 -6 0M149.4 387.9a3 3 0 1 0 6 0a3 3 0 1 0 -6 0M151.9 386.9a3 3 0 1 0 6 0a3 3 0 1 0 -6 0M155.1 383.9a3 3 0 1 0 6 0a3 3 0 1 0 -6 0M156.6 381a3 3 0 1 0 6 0a3 3 0 1 0 -6 0M158.7 379.7a3 3 0 1 0 6 0a3 3 0 1 0 -6 0M161.6 377.9a3 3 0 1 0 6 0a3 3 0 1 0 -6 0M149.4 386.9a3 3 0 1 0 6 0a3 3 0 1 0 -6 0M159.8 377.3a3 3 0 1 0 6 0a3 3 0 1 0 -6 0M148.1 384.6a3 3 0 1 0 6 0a3 3 0 1 0 -6 0M161.5 376.2a3 3 0 1 0 6 0a3 3 0 1 0 -6 0M165.5 373.6a3 3 0 1 0 6 0a3 3 0 1 0 -6 0M167 372a3 3 0 1 0 6 0a3 3 0 1 0 -6 0M168.1 369.5a3 3 0 1 0 6 0a3 3 0 1 0 -6 0M168.8 368.3a3 3 0 1 0 6 0a3 3 0 1 0 -6 0M171.9 365.1a3 3 0 1 0 6 0a3 3 0 1 0 -6 0M173.2 364.2a3 3 0 1 0 6 0a3 3 0 1 0 -6 0M174.3 362.6a3 3 0 1 0 6 0a3 3 0 1 0 -6 0M169.7 363.2a3 3 0 1 0 6 0a3 3 0 1 0 -6 0M165.6 371.1a3 3 0 1 0 6 0a3 3 0 1 0 -6 0M168 367.8a3 3 0 1 0 6 0a3 3 0 1 0 -6 0M167.3 363.9a3 3 0 1 0 6 0a3 3 0 1 0 -6 0M165.5 368.2a3 3 0 1 0 6 0a3 3 0 1 0 -6 0M177.3 359.8a3 3 0 1 0 6 0a3 3 0 1 0 -6 0M179.3 358.4a3 3 0 1 0 6 0a3 3 0 1 0 -6 0M180.6 358a3 3 0 1 0 6 0a3 3 0 1 0 -6 0M182.2 356.4a3 3 0 1 0 6 0a3 3 0 1 0 -6 0M183.3 353.7a3 3 0 1 0 6 0a3 3 0 1 0 -6 0M186 352.9a3 3 0 1 0 6 0a3 3 0 1 0 -6 0M188.6 349a3 3 0 1 0 6 0a3 3 0 1 0 -6 0M181.3 354.2a3 3 0 1 0 6 0a3 3 0 1 0 -6 0M176.5 356.9a3 3 0 1 0 6 0a3 3 0 1 0 -6 0M179.5 355.9a3 3 0 1 0 6 0a3 3 0 1 0 -6 0M178.6 357.3a3 3 0 1 0 6 0a3 3 0 1 0 -6 0M190 347a3 3 0 1 0 6 0a3 3 0 1 0 -6 0M191.4 343.8a3 3 0 1 0 6 0a3 3 0 1 0 -6 0M191.9 342.9a3 3 0 1 0 6 0a3 3 0 1 0 -6 0M192.8 340.7a3 3 0 1 0 6 0a3 3 0 1 0 -6 0M193.9 336.9a3 3 0 1 0 6 0a3 3 0 1 0 -6 0M188.3 342.7a3 3 0 1 0 6 0a3 3 0 1 0 -6 0M190.2 342.7a3 3 0 1 0 6 0a3 3 0 1 0 -6 0M192.8 338.5a3 3 0 1 0 6 0a3 3 0 1 0 -6 0M194.3 336a3 3 0 1 0 6 0a3 3 0 1 0 -6 0M197.8 334.9a3 3 0 1 0 6 0a3 3 0 1 0 -6 0M200.2 332.1a3 3 0 1 0 6 0a3 3 0 1 0 -6 0M203.3 329.6a3 3 0 1 0 6 0a3 3 0 1 0 -6 0M197.3 332.1a3 3 0 1 0 6 0a3 3 0 1 0 -6 0M199.6 329.9a3 3 0 1 0 6 0a3 3 0 1 0 -6 0M194.2 332.3a3 3 0 1 0 6 0a3 3 0 1 0 -6 0M205.3 329.1a3 3 0 1 0 6 0a3 3 0 1 0 -6 0M207.7 325.8a3 3 0 1 0 6 0a3 3 0 1 0 -6 0M208.1 324.4a3 3 0 1 0 6 0a3 3 0 1 0 -6 0M211 321.2a3 3 0 1 0 6 0a3 3 0 1 0 -6 0M211.4 320.4a3 3 0 1 0 6 0a3 3 0 1 0 -6 0M214.1 316.4a3 3 0 1 0 6 0a3 3 0 1 0 -6 0M214.7 315.9a3 3 0 1 0 6 0a3 3 0 1 0 -6 0M211.1 314a3 3 0 1 0 6 0a3 3 0 1 0 -6 0M203.4 324.4a3 3 0 1 0 6 0a3 3 0 1 0 -6 0M206.2 322.5a3 3 0 1 0 6 0a3 3 0 1 0 -6 0M203.7 324.5a3 3 0 1 0 6 0a3 3 0 1 0 -6 0M217.1 314.6a3 3 0 1 0 6 0a3 3 0 1 0 -6 0M218.7 310.6a3 3 0 1 0 6 0a3 3 0 1 0 -6 0M220.8 308.2a3 3 0 1 0 6 0a3 3 0 1 0 -6 0M222.6 308.2a3 3 0 1 0 6 0a3 3 0 1 0 -6 0M224.8 305.1a3 3 0 1 0 6 0a3 3 0 1 0 -6 0M216.1 311a3 3 0 1 0 6 0a3 3 0 1 0 -6 0M214.1 310.8a3 3 0 1 0 6 0a3 3 0 1 0 -6 0M216 307.5a3 3 0 1 0 6 0a3 3 0 1 0 -6 0M225.8 304.2a3 3 0 1 0 6 0a3 3 0 1 0 -6 0M227.6 301.6a3 3 0 1 0 6 0a3 3 0 1 0 -6 0M229 299.8a3 3 0 1 0 6 0a3 3 0 1 0 -6 0M230 299.1a3 3 0 1 0 6 0a3 3 0 1 0 -6 0M232.2 297a3 3 0 1 0 6 0a3 3 0 1 0 -6 0M234.3 294a3 3 0 1 0 6 0a3 3 0 1 0 -6 0M235.8 293.1a3 3 0 1 0 6 0a3 3 0 1 0 -6 0M236.5 291.1a3 3 0 1 0 6 0a3 3 0 1 0 -6 0M239.4 289.5a3 3 0 1 0 6 0a3 3 0 1 0 -6 0M233.9 292.3a3 3 0 1 0 6 0a3 3 0 1 0 -6 0M233 292.1a3 3 0 1 0 6 0a3 3 0 1 0 -6 0M228.8 294.9a3 3 0 1 0 6 0a3 3 0 1 0 -6 0M230.7 291.5a3 3 0 1 0 6 0a3 3 0 1 0 -6 0M240.5 288a3 3 0 1 0 6 0a3 3 0 1 0 -6 0M242.7 285.3a3 3 0 1 0 6 0a3 3 0 1 0 -6 0M243.4 284a3 3 0 1 0 6 0a3 3 0 1 0 -6 0M240.4 282.6a3 3 0 1 0 6 0a3 3 0 1 0 -6 0M242.1 283.6a3 3 0 1 0 6 0a3 3 0 1 0 -6 0M246.1 279.9a3 3 0 1 0 6 0a3 3 0 1 0 -6 0M246.1 275.4a3 3 0 1 0 6 0a3 3 0 1 0 -6 0M247.2 273.6a3 3 0 1 0 6 0a3 3 0 1 0 -6 0M246.6 272a3 3 0 1 0 6 0a3 3 0 1 0 -6 0M245.3 271.6a3 3 0 1 0 6 0a3 3 0 1 0 -6 0M241.9 274.2a3 3 0 1 0 6 0a3 3 0 1 0 -6 0M243.6 273.8a3 3 0 1 0 6 0a3 3 0 1 0 -6 0M246.5 271.4a3 3 0 1 0 6 0a3 3 0 1 0 -6 0M248.8 270.7a3 3 0 1 0 6 0a3 3 0 1 0 -6 0M250.4 269a3 3 0 1 0 6 0a3 3 0 1 0 -6 0M253.5 267a3 3 0 1 0 6 0a3 3 0 1 0 -6 0M255.3 266.3a3 3 0 1 0 6 0a3 3 0 1 0 -6 0M257.5 264.6a3 3 0 1 0 6 0a3 3 0 1 0 -6 0M247.4 265.6a3 3 0 1 0 6 0a3 3 0 1 0 -6 0M247 267.4a3 3 0 1 0 6 0a3 3 0 1 0 -6 0M243.5 269.4a3 3 0 1 0 6 0a3 3 0 1 0 -6 0M260.1 263.8a3 3 0 1 0 6 0a3 3 0 1 0 -6 0M261.4 261.7a3 3 0 1 0 6 0a3 3 0 1 0 -6 0M263.6 260.7a3 3 0 1 0 6 0a3 3 0 1 0 -6 0M266.6 257.4a3 3 0 1 0 6 0a3 3 0 1 0 -6 0M267.5 257.3a3 3 0 1 0 6 0a3 3 0 1 0 -6 0M269.1 254.5a3 3 0 1 0 6 0a3 3 0 1 0 -6 0M266.8 254.9a3 3 0 1 0 6 0a3 3 0 1 0 -6 0M264.3 255.4a3 3 0 1 0 6 0a3 3 0 1 0 -6 0M262.9 255.5a3 3 0 1 0 6 0a3 3 0 1 0 -6 0M272.2 252a3 3 0 1 0 6 0a3 3 0 1 0 -6 0M273.9 251.5a3 3 0 1 0 6 0a3 3 0 1 0 -6 0M275.7 249.1a3 3 0 1 0 6 0a3 3 0 1 0 -6 0M276.6 248.4a3 3 0 1 0 6 0a3 3 0 1 0 -6 0M278.5 247.3a3 3 0 1 0 6 0a3 3 0 1 0 -6 0M280.8 245.3a3 3 0 1 0 6 0a3 3 0 1 0 -6 0M272.1 247.2a3 3 0 1 0 6 0a3 3 0 1 0 -6 0M272.5 246.5a3 3 0 1 0 6 0a3 3 0 1 0 -6 0M269.2 252.3a3 3 0 1 0 6 0a3 3 0 1 0 -6 0M282 242.8a3 3 0 1 0 6 0a3 3 0 1 0 -6 0M283.9 241.2a3 3 0 1 0 6 0a3 3 0 1 0 -6 0M285.9 239.3a3 3 0 1 0 6 0a3 3 0 1 0 -6 0M287.6 236.8a3 3 0 1 0 6 0a3 3 0 1 0 -6 0M284 234.3a3 3 0 1 0 6 0a3 3 0 1 0 -6 0M286.2 236.7a3 3 0 1 0 6 0a3 3 0 1 0 -6 0M289.6 233.4a3 3 0 1 0 6 0a3 3 0 1 0 -6 0M292.1 231a3 3 0 1 0 6 0a3 3 0 1 0 -6 0M287.7 235.2a3 3 0 1 0 6 0a3 3 0 1 0 -6 0M287.8 230.2a3 3 0 1 0 6 0a3 3 0 1 0 -6 0M292.1 229.4a3 3 0 1 0 6 0a3 3 0 1 0 -6 0M294.3 226.9a3 3 0 1 0 6 0a3 3 0 1 0 -6 0M294.6 223.6a3 3 0 1 0 6 0a3 3 0 1 0 -6 0M297.3 219.9a3 3 0 1 0 6 0a3 3 0 1 0 -6 0M294.2 219.7a3 3 0 1 0 6 0a3 3 0 1 0 -6 0M293.9 220.9a3 3 0 1 0 6 0a3 3 0 1 0 -6 0M294.9 219.9a3 3 0 1 0 6 0a3 3 0 1 0 -6 0M297.5 217.9a3 3 0 1 0 6 0a3 3 0 1 0 -6 0M299.3 216.2a3 3 0 1 0 6 0a3 3 0 1 0 -6 0M300.7 213.7a3 3 0 1 0 6 0a3 3 0 1 0 -6 0M302.6 211.2a3 3 0 1 0 6 0a3 3 0 1 0 -6 0M302.7 210a3 3 0 1 0 6 0a3 3 0 1 0 -6 0M296.5 211.9a3 3 0 1 0 6 0a3 3 0 1 0 -6 0M296.6 212.4a3 3 0 1 0 6 0a3 3 0 1 0 -6 0M297.9 212.8a3 3 0 1 0 6 0a3 3 0 1 0 -6 0M305.5 207.5a3 3 0 1 0 6 0a3 3 0 1 0 -6 0M306.1 206.4a3 3 0 1 0 6 0a3 3 0 1 0 -6 0M307.8 202.7a3 3 0 1 0 6 0a3 3 0 1 0 -6 0M309.9 200.2a3 3 0 1 0 6 0a3 3 0 1 0 -6 0M310.3 198.1a3 3 0 1 0 6 0a3 3 0 1 0 -6 0M302.7 206.3a3 3 0 1 0 6 0a3 3 0 1 0 -6 0M304.7 198.6a3 3 0 1 0 6 0a3 3 0 1 0 -6 0M311.9 196.8a3 3 0 1 0 6 0a3 3 0 1 0 -6 0M314 194.2a3 3 0 1 0 6 0a3 3 0 1 0 -6 0M316.2 192.6a3 3 0 1 0 6 0a3 3 0 1 0 -6 0M317.6 192.2a3 3 0 1 0 6 0a3 3 0 1 0 -6 0M318.5 191a3 3 0 1 0 6 0a3 3 0 1 0 -6 0M321.1 187.9a3 3 0 1 0 6 0a3 3 0 1 0 -6 0M312.7 191.7a3 3 0 1 0 6 0a3 3 0 1 0 -6 0M315.3 190.9a3 3 0 1 0 6 0a3 3 0 1 0 -6 0M310.9 193.1a3 3 0 1 0 6 0a3 3 0 1 0 -6 0M323.2 186.2a3 3 0 1 0 6 0a3 3 0 1 0 -6 0M325 183.2a3 3 0 1 0 6 0a3 3 0 1 0 -6 0M326.6 181.3a3 3 0 1 0 6 0a3 3 0 1 0 -6 0M327.5 179.9a3 3 0 1 0 6 0a3 3 0 1 0 -6 0M329.9 178.6a3 3 0 1 0 6 0a3 3 0 1 0 -6 0M331.4 176.2a3 3 0 1 0 6 0a3 3 0 1 0 -6 0M331.8 174.4a3 3 0 1 0 6 0a3 3 0 1 0 -6 0M326.8 177.5a3 3 0 1 0 6 0a3 3 0 1 0 -6 0M327.1 173.4a3 3 0 1 0 6 0a3 3 0 1 0 -6 0M329 176.2a3 3 0 1 0 6 0a3 3 0 1 0 -6 0M324.6 176.7a3 3 0 1 0 6 0a3 3 0 1 0 -6 0M333.1 171.4a3 3 0 1 0 6 0a3 3 0 1 0 -6 0M335.3 169.8a3 3 0 1 0 6 0a3 3 0 1 0 -6 0M336.4 166.2a3 3 0 1 0 6 0a3 3 0 1 0 -6 0M337.9 163.5a3 3 0 1 0 6 0a3 3 0 1 0 -6 0M338.3 161.3a3 3 0 1 0 6 0a3 3 0 1 0 -6 0M339.4 158.8a3 3 0 1 0 6 0a3 3 0 1 0 -6 0M340.4 156.5a3 3 0 1 0 6 0a3 3 0 1 0 -6 0M341 155a3 3 0 1 0 6 0a3 3 0 1 0 -6 0M335.5 155.9a3 3 0 1 0 6 0a3 3 0 1 0 -6 0M330.7 167.1a3 3 0 1 0 6 0a3 3 0 1 0 -6 0M338.5 156.8a3 3 0 1 0 6 0a3 3 0 1 0 -6 0M335.6 158.4a3 3 0 1 0 6 0a3 3 0 1 0 -6 0M342.6 152.7a3 3 0 1 0 6 0a3 3 0 1 0 -6 0M343.1 150.8a3 3 0 1 0 6 0a3 3 0 1 0 -6 0M344.5 149.6a3 3 0 1 0 6 0a3 3 0 1 0 -6 0M346.2 147.7a3 3 0 1 0 6 0a3 3 0 1 0 -6 0M343.5 144a3 3 0 1 0 6 0a3 3 0 1 0 -6 0M341 146.7a3 3 0 1 0 6 0a3 3 0 1 0 -6 0M347.6 147a3 3 0 1 0 6 0a3 3 0 1 0 -6 0M350.3 144.8a3 3 0 1 0 6 0a3 3 0 1 0 -6 0M350.9 142.3a3 3 0 1 0 6 0a3 3 0 1 0 -6 0M353.2 141.5a3 3 0 1 0 6 0a3 3 0 1 0 -6 0M356.4 139.5a3 3 0 1 0 6 0a3 3 0 1 0 -6 0M356.7 138a3 3 0 1 0 6 0a3 3 0 1 0 -6 0M358.1 137.2a3 3 0 1 0 6 0a3 3 0 1 0 -6 0M359.6 134.9a3 3 0 1 0 6 0a3 3 0 1 0 -6 0M360.8 133.4a3 3 0 1 0 6 0a3 3 0 1 0 -6 0M348.2 144.2a3 3 0 1 0 6 0a3 3 0 1 0 -6 0M347.5 144.4a3 3 0 1 0 6 0a3 3 0 1 0 -6 0M346 141.4a3 3 0 1 0 6 0a3 3 0 1 0 -6 0M356 133.6a3 3 0 1 0 6 0a3 3 0 1 0 -6 0M364.4 129.5a3 3 0 1 0 6 0a3 3 0 1 0 -6 0M365.7 129.2a3 3 0 1 0 6 0a3 3 0 1 0 -6 0M367.9 125.4a3 3 0 1 0 6 0a3 3 0 1 0 -6 0M368.1 122.5a3 3 0 1 0 6 0a3 3 0 1 0 -6 0M370.1 120.9a3 3 0 1 0 6 0a3 3 0 1 0 -6 0M366.5 118.8a3 3 0 1 0 6 0a3 3 0 1 0 -6 0M368.3 119.2a3 3 0 1 0 6 0a3 3 0 1 0 -6 0M359.8 129a3 3 0 1 0 6 0a3 3 0 1 0 -6 0M371.7 118a3 3 0 1 0 6 0a3 3 0 1 0 -6 0M371.3 116.6a3 3 0 1 0 6 0a3 3 0 1 0 -6 0M372.8 112.4a3 3 0 1 0 6 0a3 3 0 1 0 -6 0M374.4 109.8a3 3 0 1 0 6 0a3 3 0 1 0 -6 0M369.6 114.8a3 3 0 1 0 6 0a3 3 0 1 0 -6 0M370.2 114.2a3 3 0 1 0 6 0a3 3 0 1 0 -6 0M369.5 117.3a3 3 0 1 0 6 0a3 3 0 1 0 -6 0M374.5 110.2a3 3 0 1 0 6 0a3 3 0 1 0 -6 0M376.8 107.5a3 3 0 1 0 6 0a3 3 0 1 0 -6 0M378.7 106.5a3 3 0 1 0 6 0a3 3 0 1 0 -6 0M381.8 103.5a3 3 0 1 0 6 0a3 3 0 1 0 -6 0M382.5 101.8a3 3 0 1 0 6 0a3 3 0 1 0 -6 0M384.3 101.6a3 3 0 1 0 6 0a3 3 0 1 0 -6 0M381.1 98.7a3 3 0 1 0 6 0a3 3 0 1 0 -6 0M380.1 103a3 3 0 1 0 6 0a3 3 0 1 0 -6 0M381.9 99.4a3 3 0 1 0 6 0a3 3 0 1 0 -6 0M386.3 98.3a3 3 0 1 0 6 0a3 3 0 1 0 -6 0M388.9 95.2a3 3 0 1 0 6 0a3 3 0 1 0 -6 0M390.5 94a3 3 0 1 0 6 0a3 3 0 1 0 -6 0M392.7 91.8a3 3 0 1 0 6 0a3 3 0 1 0 -6 0M392.4 90.3a3 3 0 1 0 6 0a3 3 0 1 0 -6 0M394.5 88.8a3 3 0 1 0 6 0a3 3 0 1 0 -6 0M392.9 88.7a3 3 0 1 0 6 0a3 3 0 1 0 -6 0M385.1 97.4a3 3 0 1 0 6 0a3 3 0 1 0 -6 0M392.8 88.7a3 3 0 1 0 6 0a3 3 0 1 0 -6 0M396.8 85.3a3 3 0 1 0 6 0a3 3 0 1 0 -6 0M399.5 82.6a3 3 0 1 0 6 0a3 3 0 1 0 -6 0M400.9 80.6a3 3 0 1 0 6 0a3 3 0 1 0 -6 0M400.7 78.2a3 3 0 1 0 6 0a3 3 0 1 0 -6 0M397.6 76.9a3 3 0 1 0 6 0a3 3 0 1 0 -6 0M399.7 78.8a3 3 0 1 0 6 0a3 3 0 1 0 -6 0M402.9 74.3a3 3 0 1 0 6 0a3 3 0 1 0 -6 0M402.6 70.4a3 3 0 1 0 6 0a3 3 0 1 0 -6 0M402.2 69a3 3 0 1 0 6 0a3 3 0 1 0 -6 0M403 64.9a3 3 0 1 0 6 0a3 3 0 1 0 -6 0M401.8 63a3 3 0 1 0 6 0a3 3 0 1 0 -6 0M402.7 59.4a3 3 0 1 0 6 0a3 3 0 1 0 -6 0M401.1 65.7a3 3 0 1 0 6 0a3 3 0 1 0 -6 0M399.5 60.8a3 3 0 1 0 6 0a3 3 0 1 0 -6 0M400 67.3a3 3 0 1 0 6 0a3 3 0 1 0 -6 0M401.2 61a3 3 0 1 0 6 0a3 3 0 1 0 -6 0M403.8 59.6a3 3 0 1 0 6 0a3 3 0 1 0 -6 0M406.1 57.1a3 3 0 1 0 6 0a3 3 0 1 0 -6 0M408.1 54.9a3 3 0 1 0 6 0a3 3 0 1 0 -6 0M409.1 52.9a3 3 0 1 0 6 0a3 3 0 1 0 -6 0M401.9 54.8a3 3 0 1 0 6 0a3 3 0 1 0 -6 0M406.3 54.1a3 3 0 1 0 6 0a3 3 0 1 0 -6 0M412.6 49.6a3 3 0 1 0 6 0a3 3 0 1 0 -6 0M413.2 46.7a3 3 0 1 0 6 0a3 3 0 1 0 -6 0M412.8 44.9a3 3 0 1 0 6 0a3 3 0 1 0 -6 0M415.3 40.5a3 3 0 1 0 6 0a3 3 0 1 0 -6 0M415.1 39.2a3 3 0 1 0 6 0a3 3 0 1 0 -6 0M411.6 39.8a3 3 0 1 0 6 0a3 3 0 1 0 -6 0M413.3 38.1a3 3 0 1 0 6 0a3 3 0 1 0 -6 0M413.7 39.8a3 3 0 1 0 6 0a3 3 0 1 0 -6 0M414.5 38.2a3 3 0 1 0 6 0a3 3 0 1 0 -6 0M415.9 36.4a3 3 0 1 0 6 0a3 3 0 1 0 -6 0M417 34.6a3 3 0 1 0 6 0a3 3 0 1 0 -6 0M420 32.3a3 3 0 1 0 6 0a3 3 0 1 0 -6 0M418.8 30.8a3 3 0 1 0 6 0a3 3 0 1 0 -6 0M413 37.2a3 3 0 1 0 6 0a3 3 0 1 0 -6 0M230.8 285.8a3 3 0 1 0 6 0a3 3 0 1 0 -6 0M324 293a3 3 0 1 0 6 0a3 3 0 1 0 -6 0M274.4 362a3 3 0 1 0 6 0a3 3 0 1 0 -6 0M256.9 383.2a3 3 0 1 0 6 0a3 3 0 1 0 -6 0M233 414a3 3 0 1 0 6 0a3 3 0 1 0 -6 0M228 435a3 3 0 1 0 6 0a3 3 0 1 0 -6 0M416.8 176.6a3 3 0 1 0 6 0a3 3 0 1 0 -6 0M412.5 184.6a3 3 0 1 0 6 0a3 3 0 1 0 -6 0M395 203.6a3 3 0 1 0 6 0a3 3 0 1 0 -6 0M385.5 219a3 3 0 1 0 6 0a3 3 0 1 0 -6 0M355 248.4a3 3 0 1 0 6 0a3 3 0 1 0 -6 0M347.7 261.5a3 3 0 1 0 6 0a3 3 0 1 0 -6 0M254.5 251.3a3 3 0 1 0 6 0a3 3 0 1 0 -6 0M504 76.8a3 3 0 1 0 6 0a3 3 0 1 0 -6 0M491 89a3 3 0 1 0 6 0a3 3 0 1 0 -6 0"/>
<path fill="#0000ff" d="M478.2 12.6 L530.2 12.6 L528.6 14.6 L527.1 16.6 L525.5 18.6 L523.9 20.6 L522.4 22.6 L520.8 24.6 L519.2 26.6 L517.6 28.6 L515.9 30.6 L514.1 32.6 L512.3 34.6 L510.5 36.6 L508.7 38.6 L506.8 40.6 L504.9 42.6 L502.8 44.6 L500.6 46.6 L498.3 48.6 L495.8 50.6 L493.3 52.6 L490.8 54.6 L488.3 56.6 L485.8 58.6 L483.5 60.6 L481.4 62.6 L479.4 64.6 L477.5 66.6 L475.8 68.6 L474.1 70.6 L472.4 72.6 L470.7 74.6 L469.1 76.6 L467.5 78.6 L465.9 80.6 L464.4 82.6 L462.8 84.6 L461.2 86.6 L459.6 88.6 L458 90.6 L456.3 92.6 L454.6 94.6 L452.9 96.6 L451.2 98.6 L449.5 100.6 L447.6 102.6 L445.7 104.6 L443.7 106.6 L441.5 108.6 L439.4 110.6 L437.2 112.6 L435 114.6 L432.8 116.6 L430.8 118.6 L429 120.6 L427.3 122.6 L425.8 124.6 L424.4 126.6 L423 128.6 L421.6 130.6 L420.2 132.6 L418.8 134.6 L417.4 136.6 L416 138.6 L414.6 140.6 L413.1 142.6 L411.6 144.6 L410 146.6 L408.4 148.6 L406.7 150.6 L405 152.6 L403.4 154.6 L401.7 156.6 L400 158.6 L398.3 160.6 L396.6 162.6 L395 164.6 L393.3 166.6 L391.6 168.6 L389.9 170.6 L388.2 172.6 L386.6 174.6 L384.9 176.6 L383.2 178.6 L381.6 180.6 L380 182.6 L378.3 184.6 L376.7 186.6 L375.1 188.6 L373.5 190.6 L371.9 192.6 L370.3 194.6 L368.7 196.6 L367 198.6 L365.4 200.6 L363.8 202.6 L362.2 204.6 L360.6 206.6 L359 208.6 L357.4 210.6 L355.8 212.6 L354.1 214.6 L352.5 216.6 L350.9 218.6 L349.3 220.6 L347.7 222.6 L346.1 224.6 L344.5 226.6 L342.9 228.6 L341.2 230.6 L339.6 232.6 L338 234.6 L336.4 236.6 L334.8 238.6 L333.3 240.6 L331.7 242.6 L330.2 244.6 L328.6 246.6 L327 248.6 L325.5 250.6 L323.9 252.6 L322.4 254.6 L320.8 256.6 L319.3 258.6 L317.7 260.6 L316.1 262.6 L314.6 264.6 L313 266.6 L311.5 268.6 L309.9 270.6 L308.4 272.6 L306.8 274.6 L305.2 276.6 L303.7 278.6 L302.1 280.6 L300.6 282.6 L299 284.6 L297.5 286.6 L295.9 288.6 L294.3 290.6 L292.8 292.6 L291.2 294.6 L289.7 296.6 L288.1 298.6 L286.6 300.6 L285 302.6 L283.5 304.6 L282 306.6 L280.4 308.6 L278.9 310.6 L277.4 312.6 L275.8 314.6 L274.3 316.6 L272.7 318.6 L271.2 320.6 L269.7 322.6 L268.1 324.6 L266.6 326.6 L265.1 328.6 L263.5 330.6 L262 332.6 L260.5 334.6 L258.9 336.6 L257.4 338.6 L255.9 340.6 L254.3 342.6 L252.8 344.6 L251.3 346.6 L249.7 348.6 L248.2 350.6 L246.7 352.6 L245.1 354.6 L243.6 356.6 L242.1 358.6 L240.5 360.6 L239 362.6 L237.6 364.6 L236.1 366.6 L234.6 368.6 L233.2 370.6 L231.7 372.6 L230.2 374.6 L228.8 376.6 L227.3 378.6 L225.8 380.6 L224.4 382.6 L222.9 384.6 L221.5 386.6 L220 388.6 L218.5 390.6 L217.1 392.6 L215.6 394.6 L214.2 396.6 L212.8 398.6 L211.5 400.6 L210.3 402.6 L209.1 404.6 L208 406.6 L206.9 408.6 L205.8 410.6 L204.7 412.6 L203.5 414.6 L202.3 416.6 L201.1 418.6 L199.8 420.6 L198.5 422.6 L197.1 424.6 L195.7 426.6 L194.2 428.6 L192.7 430.6 L191.2 432.6 L189.7 434.6 L188.4 436.6 L187.1 438.6 L186 440.6 L184.8 442.6 L183.7 444.6 L182.5 446.6 L181.3 448.6 L180 450.6 L178.4 452.6 L176.5 454.6 L174.2 456.6 L171.4 458.6 L168.1 460.6 L165 462.6 L161.7 464.6 L159.5 465.3 L118.5 465.3 L118.5 464.6 L117.9 462.6 L117.7 460.6 L117.6 458.6 L118.2 456.6 L119.5 454.6 L121.5 452.6 L124 450.6 L127.1 448.6 L130.1 446.6 L133.1 444.6 L136 442.6 L138.7 440.6 L141.2 438.6 L143.5 436.6 L145.8 434.6 L147.9 432.6 L149.9 430.6 L151.8 428.6 L153.6 426.6 L155.2 424.6 L156.7 422.6 L157.9 420.6 L159.2 418.6 L160.6 416.6 L162.1 414.6 L163.8 412.6 L165.7 410.6 L167.7 408.6 L169.6 406.6 L171.6 404.6 L173.6 402.6 L175.5 400.6 L177.3 398.6 L179.2 396.6 L181 394.6 L182.7 392.6 L184.5 390.6 L186.3 388.6 L188.1 386.6 L189.9 384.6 L191.6 382.6 L193.4 380.6 L195.2 378.6 L197 376.6 L198.7 374.6 L200.5 372.6 L202.3 370.6 L204.1 368.6 L205.9 366.6 L207.6 364.6 L209.4 362.6 L211.1 360.6 L212.8 358.6 L214.4 356.6 L216.1 354.6 L217.8 352.6 L219.4 350.6 L221.1 348.6 L222.8 346.6 L224.4 344.6 L226.1 342.6 L227.7 340.6 L229.4 338.6 L231.1 336.6 L232.7 334.6 L234.4 332.6 L236.1 330.6 L237.7 328.6 L239.4 326.6 L241.1 324.6 L242.7 322.6 L244.4 320.6 L246 318.6 L247.7 316.6 L249.4 314.6 L251 312.6 L252.7 310.6 L254.4 308.6 L256 306.6 L257.7 304.6 L259.4 302.6 L261 300.6 L262.7 298.6 L264.3 296.6 L266 294.6 L267.6 292.6 L269.3 290.6 L270.9 288.6 L272.6 286.6 L274.2 284.6 L275.8 282.6 L277.5 280.6 L279.1 278.6 L280.8 276.6 L282.4 274.6 L284.1 272.6 L285.7 270.6 L287.4 268.6 L289 266.6 L290.7 264.6 L292.3 262.6 L294 260.6 L295.6 258.6 L297.2 256.6 L298.9 254.6 L300.5 252.6 L302.2 250.6 L303.8 248.6 L305.5 246.6 L307.1 244.6 L308.8 242.6 L310.4 240.6 L312 238.6 L313.6 236.6 L315.2 234.6 L316.8 232.6 L318.3 230.6 L319.9 228.6 L321.4 226.6 L323 224.6 L324.5 222.6 L326.1 220.6 L327.6 218.6 L329.2 216.6 L330.7 214.6 L332.3 212.6 L333.8 210.6 L335.4 208.6 L336.9 206.6 L338.5 204.6 L340 202.6 L341.6 200.6 L343.1 198.6 L344.7 196.6 L346.2 194.6 L347.8 192.6 L349.3 190.6 L350.9 188.6 L352.4 186.6 L354 184.6 L355.5 182.6 L357 180.6 L358.5 178.6 L360 176.6 L361.5 174.6 L362.9 172.6 L364.4 170.6 L365.8 168.6 L367.3 166.6 L368.8 164.6 L370.2 162.6 L371.7 160.6 L373.1 158.6 L374.6 156.6 L376 154.6 L377.5 152.6 L378.9 150.6 L380.4 148.6 L381.9 146.6 L383.3 144.6 L384.8 142.6 L386.3 140.6 L387.9 138.6 L389.4 136.6 L390.9 134.6 L392.4 132.6 L394 130.6 L395.5 128.6 L397 126.6 L398.5 124.6 L400 122.6 L401.4 120.6 L402.7 118.6 L403.8 116.6 L404.9 114.6 L406 112.6 L407.1 110.6 L408.1 108.6 L409.3 106.6 L410.5 104.6 L411.9 102.6 L413.4 100.6 L415 98.6 L416.6 96.6 L418.3 94.6 L419.9 92.6 L421.4 90.6 L422.8 88.6 L424.1 86.6 L425.4 84.6 L426.6 82.6 L427.9 80.6 L429.1 78.6 L430.3 76.6 L431.5 74.6 L432.6 72.6 L433.7 70.6 L434.8 68.6 L436 66.6 L437.1 64.6 L438.4 62.6 L439.7 60.6 L441.2 58.6 L442.7 56.6 L444.3 54.6 L445.9 52.6 L447.4 50.6 L449 48.6 L450.5 46.6 L451.9 44.6 L453.3 42.6 L454.7 40.6 L456 38.6 L457.3 36.6 L458.6 34.6 L460 32.6 L461.5 30.6 L463.1 28.6 L464.9 26.6 L466.8 24.6 L468.8 22.6 L470.7 20.6 L472.6 18.6 L474.5 16.6 L476.4 14.6Z"/><path fill="#0000ff" d="M476.2 16a3 3 0 1 0 6 0a3 3 0 1 0 -6 0M480 16.2a3 3 0 1 0 6 0a3 3 0 1 0 -6 0M481.5 16.8a3 3 0 1 0 6 0a3 3 0 1 0 -6 0M485 16.9a3 3 0 1 0 6 0a3 3 0 1 0 -6 0M486.1 16.5a3 3 0 1 0 6 0a3 3 0 1 0 -6 0M488 17.3a3 3 0 1 0 6 0a3 3 0 1 0 -6 0M492.5 16.2a3 3 0 1 0 6 0a3 3 0 1 0 -6 0M492.6 16.2a3 3 0 1 0 6 0a3 3 0 1 0 -6 0M495.9 17.2a3 3 0 1 0 6 0a3 3 0 1 0 -6 0M499.7 17.1a3 3 0 1 0 6 0a3 3 0 1 0 -6 0M500.1 17.1a3 3 0 1 0 6 0a3 3 0 1 0 -6 0M504.2 16.8a3 3 0 1 0 6 0a3 3 0 1 0 -6 0M507.4 15.9a3 3 0 1 0 6 0a3 3 0 1 0 -6 0M507.7 17a3 3 0 1 0 6 0a3 3 0 1 0 -6 0M512.2 16.9a3 3 0 1 0 6 0a3 3 0 1 0 -6 0M513.1 16.7a3 3 0 1 0 6 0a3 3 0 1 0 -6 0M516.7 16a3 3 0 1 0 6 0a3 3 0 1 0 -6 0M518.1 16.2a3 3 0 1 0 6 0a3 3 0 1 0 -6 0M520.1 16.6a3 3 0 1 0 6 0a3 3 0 1 0 -6 0M522.7 16.2a3 3 0 1 0 6 0a3 3 0 1 0 -6 0M525.1 16.9a3 3 0 1 0 6 0a3 3 0 1 0 -6 0M522.9 17.1a3 3 0 1 0 6 0a3 3 0 1 0 -6 0M518.5 16.3a3 3 0 1 0 6 0a3 3 0 1 0 -6 0M521.1 18a3 3 0 1 0 6 0a3 3 0 1 0 -6 0M516.8 18.4a3 3 0 1 0 6 0a3 3 0 1 0 -6 0M519.1 22.3a3 3 0 1 0 6 0a3 3 0 1 0 -6 0M514.6 21.8a3 3 0 1 0 6 0a3 3 0 1 0 -6 0M517.9 23a3 3 0 1 0 6 0a3 3 0 1 0 -6 0M514.6 22.9a3 3 0 1 0 6 0a3 3 0 1 0 -6 0M510.9 25.5a3 3 0 1 0 6 0a3 3 0 1 0 -6 0M511.6 26.4a3 3 0 1 0 6 0a3 3 0 1 0 -6 0M509.5 27.8a3 3 0 1 0 6 0a3 3 0 1 0 -6 0M511 32.4a3 3 0 1 0 6 0a3 3 0 1 0 -6 0M506.9 31.7a3 3 0 1 0 6 0a3 3 0 1 0 -6 0M509.4 31a3 3 0 1 0 6 0a3 3 0 1 0 -6 0M505.8 33.3a3 3 0 1 0 6 0a3 3 0 1 0 -6 0M503.2 36a3 3 0 1 0 6 0a3 3 0 1 0 -6 0M502.9 36.5a3 3 0 1 0 6 0a3 3 0 1 0 -6 0M499.9 39.6a3 3 0 1 0 6 0a3 3 0 1 0 -6 0M502.4 39.5a3 3 0 1 0 6 0a3 3 0 1 0 -6 0M498.4 41a3 3 0 1 0 6 0a3 3 0 1 0 -6 0M499.2 42.4a3 3 0 1 0 6 0a3 3 0 1 0 -6 0M495.3 43.2a3 3 0 1 0 6 0a3 3 0 1 0 -6 0M498.3 43.2a3 3 0 1 0 6 0a3 3 0 1 0 -6 0M493.8 44.1a3 3 0 1 0 6 0a3 3 0 1 0 -6 0M495 47.4a3 3 0 1 0 6 0a3 3 0 1 0 -6 0M490.3 46.7a3 3 0 1 0 6 0a3 3 0 1 0 -6 0M489.8 47a3 3 0 1 0 6 0a3 3 0 1 0 -6 0M485.8 51.5a3 3 0 1 0 6 0a3 3 0 1 0 -6 0M487.5 53.4a3 3 0 1 0 6 0a3 3 0 1 0 -6 0M485 52a3 3 0 1 0 6 0a3 3 0 1 0 -6 0M482.7 53.5a3 3 0 1 0 6 0a3 3 0 1 0 -6 0M479.4 57.1a3 3 0 1 0 6 0a3 3 0 1 0 -6 0M475.6 58.9a3 3 0 1 0 6 0a3 3 0 1 0 -6 0M478.2 61.2a3 3 0 1 0 6 0a3 3 0 1 0 -6 0M474.5 61.8a3 3 0 1 0 6 0a3 3 0 1 0 -6 0M471.7 63.8a3 3 0 1 0 6 0a3 3 0 1 0 -6 0M470.5 65a3 3 0 1 0 6 0a3 3 0 1 0 -6 0M472.3 68a3 3 0 1 0 6 0a3 3 0 1 0 -6 0M470 66.8a3 3 0 1 0 6 0a3 3 0 1 0 -6 0M471.2 70.1a3 3 0 1 0 6 0a3 3 0 1 0 -6 0M467.6 68a3 3 0 1 0 6 0a3 3 0 1 0 -6 0M469.7 69.5a3 3 0 1 0 6 0a3 3 0 1 0 -6 0M465.3 71.2a3 3 0 1 0 6 0a3 3 0 1 0 -6 0M464 71.9a3 3 0 1 0 6 0a3 3 0 1 0 -6 0M463.4 74.6a3 3 0 1 0 6 0a3 3 0 1 0 -6 0M460.8 77.3a3 3 0 1 0 6 0a3 3 0 1 0 -6 0M463.4 79.1a3 3 0 1 0 6 0a3 3 0 1 0 -6 0M458.4 79a3 3 0 1 0 6 0a3 3 0 1 0 -6 0M460.3 80.4a3 3 0 1 0 6 0a3 3 0 1 0 -6 0M457.5 80.1a3 3 0 1 0 6 0a3 3 0 1 0 -6 0M456.1 83a3 3 0 1 0 6 0a3 3 0 1 0 -6 0M454.4 85.3a3 3 0 1 0 6 0a3 3 0 1 0 -6 0M452.4 87.8a3 3 0 1 0 6 0a3 3 0 1 0 -6 0M455 88.4a3 3 0 1 0 6 0a3 3 0 1 0 -6 0M449.9 89.7a3 3 0 1 0 6 0a3 3 0 1 0 -6 0M448.5 91.3a3 3 0 1 0 6 0a3 3 0 1 0 -6 0M450.4 91.9a3 3 0 1 0 6 0a3 3 0 1 0 -6 0M447.3 94.1a3 3 0 1 0 6 0a3 3 0 1 0 -6 0M446 95.4a3 3 0 1 0 6 0a3 3 0 1 0 -6 0M445.1 96.2a3 3 0 1 0 6 0a3 3 0 1 0 -6 0M443.9 98.3a3 3 0 1 0 6 0a3 3 0 1 0 -6 0M439.7 100.9a3 3 0 1 0 6 0a3 3 0 1 0 -6 0M437.8 102.9a3 3 0 1 0 6 0a3 3 0 1 0 -6 0M437.7 103.6a3 3 0 1 0 6 0a3 3 0 1 0 -6 0M438.6 107.3a3 3 0 1 0 6 0a3 3 0 1 0 -6 0M434.2 106.2a3 3 0 1 0 6 0a3 3 0 1 0 -6 0M433.1 108.1a3 3 0 1 0 6 0a3 3 0 1 0 -6 0M429.6 111.8a3 3 0 1 0 6 0a3 3 0 1 0 -6 0M432.4 113.5a3 3 0 1 0 6 0a3 3 0 1 0 -6 0M427.5 112.3a3 3 0 1 0 6 0a3 3 0 1 0 -6 0M426.5 114.4a3 3 0 1 0 6 0a3 3 0 1 0 -6 0M425.1 116.6a3 3 0 1 0 6 0a3 3 0 1 0 -6 0M426.4 118.3a3 3 0 1 0 6 0a3 3 0 1 0 -6 0M422.8 118.9a3 3 0 1 0 6 0a3 3 0 1 0 -6 0M423.3 120.2a3 3 0 1 0 6 0a3 3 0 1 0 -6 0M420.1 121.3a3 3 0 1 0 6 0a3 3 0 1 0 -6 0M419 122.5a3 3 0 1 0 6 0a3 3 0 1 0 -6 0M417.2 125.3a3 3 0 1 0 6 0a3 3 0 1 0 -6 0M416.7 127.2a3 3 0 1 0 6 0a3 3 0 1 0 -6 0M418.3 128.9a3 3 0 1 0 6 0a3 3 0 1 0 -6 0M415.2 129.9a3 3 0 1 0 6 0a3 3 0 1 0 -6 0M413.1 132.3a3 3 0 1 0 6 0a3 3 0 1 0 -6 0M412.1 133.5a3 3 0 1 0 6 0a3 3 0 1 0 -6 0M410.4 134.6a3 3 0 1 0 6 0a3 3 0 1 0 -6 0M412.3 135.3a3 3 0 1 0 6 0a3 3 0 1 0 -6 0M409.7 137.6a3 3 0 1 0 6 0a3 3 0 1 0 -6 0M407.4 138.9a3 3 0 1 0 6 0a3 3 0 1 0 -6 0M409.1 139.5a3 3 0 1 0 6 0a3 3 0 1 0 -6 0M406.3 142a3 3 0 1 0 6 0a3 3 0 1 0 -6 0M408 142.1a3 3 0 1 0 6 0a3 3 0 1 0 -6 0M404.1 143a3 3 0 1 0 6 0a3 3 0 1 0 -6 0M402.8 144.9a3 3 0 1 0 6 0a3 3 0 1 0 -6 0M401.1 147.6a3 3 0 1 0 6 0a3 3 0 1 0 -6 0M398.9 149a3 3 0 1 0 6 0a3 3 0 1 0 -6 0M402.1 152.2a3 3 0 1 0 6 0a3 3 0 1 0 -6 0M397.6 151.5a3 3 0 1 0 6 0a3 3 0 1 0 -6 0M395.6 153.9a3 3 0 1 0 6 0a3 3 0 1 0 -6 0M393.8 155.2a3 3 0 1 0 6 0a3 3 0 1 0 -6 0M393.4 156.8a3 3 0 1 0 6 0a3 3 0 1 0 -6 0M391.3 159.7a3 3 0 1 0 6 0a3 3 0 1 0 -6 0M389.8 161.3a3 3 0 1 0 6 0a3 3 0 1 0 -6 0M390.5 162.6a3 3 0 1 0 6 0a3 3 0 1 0 -6 0M388.1 163.1a3 3 0 1 0 6 0a3 3 0 1 0 -6 0M391 164.8a3 3 0 1 0 6 0a3 3 0 1 0 -6 0M386.2 165.1a3 3 0 1 0 6 0a3 3 0 1 0 -6 0M387.9 167.8a3 3 0 1 0 6 0a3 3 0 1 0 -6 0M383.7 167.4a3 3 0 1 0 6 0a3 3 0 1 0 -6 0M383.6 168.5a3 3 0 1 0 6 0a3 3 0 1 0 -6 0M382.7 170.5a3 3 0 1 0 6 0a3 3 0 1 0 -6 0M379.2 172.6a3 3 0 1 0 6 0a3 3 0 1 0 -6 0M377.3 174.6a3 3 0 1 0 6 0a3 3 0 1 0 -6 0M376.1 176.9a3 3 0 1 0 6 0a3 3 0 1 0 -6 0M374.8 178.7a3 3 0 1 0 6 0a3 3 0 1 0 -6 0M375.5 181.3a3 3 0 1 0 6 0a3 3 0 1 0 -6 0M373.5 181.5a3 3 0 1 0 6 0a3 3 0 1 0 -6 0M371.5 182.8a3 3 0 1 0 6 0a3 3 0 1 0 -6 0M368.6 185.4a3 3 0 1 0 6 0a3 3 0 1 0 -6 0M368.1 186.8a3 3 0 1 0 6 0a3 3 0 1 0 -6 0M366.8 188.7a3 3 0 1 0 6 0a3 3 0 1 0 -6 0M365.7 190.6a3 3 0 1 0 6 0a3 3 0 1 0 -6 0M362.8 193.7a3 3 0 1 0 6 0a3 3 0 1 0 -6 0M364.3 195.1a3 3 0 1 0 6 0a3 3 0 1 0 -6 0M360.6 195.2a3 3 0 1 0 6 0a3 3 0 1 0 -6 0M360.7 197.3a3 3 0 1 0 6 0a3 3 0 1 0 -6 0M362 198.7a3 3 0 1 0 6 0a3 3 0 1 0 -6 0M359.4 198.8a3 3 0 1 0 6 0a3 3 0 1 0 -6 0M356.9 201.4a3 3 0 1 0 6 0a3 3 0 1 0 -6 0M355.6 203.8a3 3 0 1 0 6 0a3 3 0 1 0 -6 0M353.4 205.9a3 3 0 1 0 6 0a3 3 0 1 0 -6 0M353.1 206.3a3 3 0 1 0 6 0a3 3 0 1 0 -6 0M350.1 209.1a3 3 0 1 0 6 0a3 3 0 1 0 -6 0M352.3 210.6a3 3 0 1 0 6 0a3 3 0 1 0 -6 0M349 210.5a3 3 0 1 0 6 0a3 3 0 1 0 -6 0M346.3 214a3 3 0 1 0 6 0a3 3 0 1 0 -6 0M346.6 214.7a3 3 0 1 0 6 0a3 3 0 1 0 -6 0M345.1 216.7a3 3 0 1 0 6 0a3 3 0 1 0 -6 0M345.3 218.2a3 3 0 1 0 6 0a3 3 0 1 0 -6 0M341.8 219a3 3 0 1 0 6 0a3 3 0 1 0 -6 0M344.6 219.2a3 3 0 1 0 6 0a3 3 0 1 0 -6 0M340.8 220.5a3 3 0 1 0 6 0a3 3 0 1 0 -6 0M343.7 222.4a3 3 0 1 0 6 0a3 3 0 1 0 -6 0M339.3 221.9a3 3 0 1 0 6 0a3 3 0 1 0 -6 0M337.9 224.8a3 3 0 1 0 6 0a3 3 0 1 0 -6 0M336.2 225.8a3 3 0 1 0 6 0a3 3 0 1 0 -6 0M333.7 230.1a3 3 0 1 0 6 0a3 3 0 1 0 -6 0M333.7 231.1a3 3 0 1 0 6 0a3 3 0 1 0 -6 0M330.8 234a3 3 0 1 0 6 0a3 3 0 1 0 -6 0M329.3 235.9a3 3 0 1 0 6 0a3 3 0 1 0 -6 0M327.2 238.1a3 3 0 1 0 6 0a3 3 0 1 0 -6 0M326.9 238.7a3 3 0 1 0 6 0a3 3 0 1 0 -6 0M325.5 240.8a3 3 0 1 0 6 0a3 3 0 1 0 -6 0M322.9 242.8a3 3 0 1 0 6 0a3 3 0 1 0 -6 0M326 244.3a3 3 0 1 0 6 0a3 3 0 1 0 -6 0M321.6 244.1a3 3 0 1 0 6 0a3 3 0 1 0 -6 0M324.3 247.4a3 3 0 1 0 6 0a3 3 0 1 0 -6 0M320.2 247.3a3 3 0 1 0 6 0a3 3 0 1 0 -6 0M319.7 248.6a3 3 0 1 0 6 0a3 3 0 1 0 -6 0M317.6 251.1a3 3 0 1 0 6 0a3 3 0 1 0 -6 0M319.8 252.7a3 3 0 1 0 6 0a3 3 0 1 0 -6 0M316 252.1a3 3 0 1 0 6 0a3 3 0 1 0 -6 0M317.5 253.7a3 3 0 1 0 6 0a3 3 0 1 0 -6 0M314.8 254.6a3 3 0 1 0 6 0a3 3 0 1 0 -6 0M313 256.5a3 3 0 1 0 6 0a3 3 0 1 0 -6 0M310.7 260.1a3 3 0 1 0 6 0a3 3 0 1 0 -6 0M312.6 261.3a3 3 0 1 0 6 0a3 3 0 1 0 -6 0M308.9 262.3a3 3 0 1 0 6 0a3 3 0 1 0 -6 0M308 263.4a3 3 0 1 0 6 0a3 3 0 1 0 -6 0M306.4 264.2a3 3 0 1 0 6 0a3 3 0 1 0 -6 0M307.3 267.3a3 3 0 1 0 6 0a3 3 0 1 0 -6 0M305.1 267.1a3 3 0 1 0 6 0a3 3 0 1 0 -6 0M303 268.2a3 3 0 1 0 6 0a3 3 0 1 0 -6 0M304.8 270.6a3 3 0 1 0 6 0a3 3 0 1 0 -6 0M301.4 270.4a3 3 0 1 0 6 0a3 3 0 1 0 -6 0M299.5 273.4a3 3 0 1 0 6 0a3 3 0 1 0 -6 0M302.9 275.1a3 3 0 1 0 6 0a3 3 0 1 0 -6 0M298.4 274.2a3 3 0 1 0 6 0a3 3 0 1 0 -6 0M300.8 277.6a3 3 0 1 0 6 0a3 3 0 1 0 -6 0M296.8 277.4a3 3 0 1 0 6 0a3 3 0 1 0 -6 0M296.1 279.2a3 3 0 1 0 6 0a3 3 0 1 0 -6 0M298.4 280.7a3 3 0 1 0 6 0a3 3 0 1 0 -6 0M293.6 281.8a3 3 0 1 0 6 0a3 3 0 1 0 -6 0M291.1 283.7a3 3 0 1 0 6 0a3 3 0 1 0 -6 0M290.4 286.2a3 3 0 1 0 6 0a3 3 0 1 0 -6 0M292.9 285.5a3 3 0 1 0 6 0a3 3 0 1 0 -6 0M288.9 287.6a3 3 0 1 0 6 0a3 3 0 1 0 -6 0M286.9 289.3a3 3 0 1 0 6 0a3 3 0 1 0 -6 0M289.1 291.6a3 3 0 1 0 6 0a3 3 0 1 0 -6 0M286 291.7a3 3 0 1 0 6 0a3 3 0 1 0 -6 0M286.7 293.1a3 3 0 1 0 6 0a3 3 0 1 0 -6 0M284.5 294a3 3 0 1 0 6 0a3 3 0 1 0 -6 0M287.4 294.5a3 3 0 1 0 6 0a3 3 0 1 0 -6 0M283.2 294.9a3 3 0 1 0 6 0a3 3 0 1 0 -6 0M284.7 296.1a3 3 0 1 0 6 0a3 3 0 1 0 -6 0M281.2 296.2a3 3 0 1 0 6 0a3 3 0 1 0 -6 0M279.6 299.8a3 3 0 1 0 6 0a3 3 0 1 0 -6 0M278 301.7a3 3 0 1 0 6 0a3 3 0 1 0 -6 0M279 302.9a3 3 0 1 0 6 0a3 3 0 1 0 -6 0M277.5 303.2a3 3 0 1 0 6 0a3 3 0 1 0 -6 0M275.4 305.8a3 3 0 1 0 6 0a3 3 0 1 0 -6 0M277 305.4a3 3 0 1 0 6 0a3 3 0 1 0 -6 0M273.4 306.2a3 3 0 1 0 6 0a3 3 0 1 0 -6 0M272.3 308.1a3 3 0 1 0 6 0a3 3 0 1 0 -6 0M269.6 311.3a3 3 0 1 0 6 0a3 3 0 1 0 -6 0M272.1 311.2a3 3 0 1 0 6 0a3 3 0 1 0 -6 0M268.4 312.6a3 3 0 1 0 6 0a3 3 0 1 0 -6 0M266.6 315.3a3 3 0 1 0 6 0a3 3 0 1 0 -6 0M266.4 317.5a3 3 0 1 0 6 0a3 3 0 1 0 -6 0M264.4 319a3 3 0 1 0 6 0a3 3 0 1 0 -6 0M263 320.2a3 3 0 1 0 6 0a3 3 0 1 0 -6 0M263.8 322.6a3 3 0 1 0 6 0a3 3 0 1 0 -6 0M261.5 322.6a3 3 0 1 0 6 0a3 3 0 1 0 -6 0M259.4 325.4a3 3 0 1 0 6 0a3 3 0 1 0 -6 0M262.6 326a3 3 0 1 0 6 0a3 3 0 1 0 -6 0M258.6 327.3a3 3 0 1 0 6 0a3 3 0 1 0 -6 0M260.2 327.6a3 3 0 1 0 6 0a3 3 0 1 0 -6 0M256.7 329.8a3 3 0 1 0 6 0a3 3 0 1 0 -6 0M258.7 330.8a3 3 0 1 0 6 0a3 3 0 1 0 -6 0M254.6 332.2a3 3 0 1 0 6 0a3 3 0 1 0 -6 0M257.2 334a3 3 0 1 0 6 0a3 3 0 1 0 -6 0M253.6 333.5a3 3 0 1 0 6 0a3 3 0 1 0 -6 0M251.6 335a3 3 0 1 0 6 0a3 3 0 1 0 -6 0M253.5 336.9a3 3 0 1 0 6 0a3 3 0 1 0 -6 0M250.2 336.8a3 3 0 1 0 6 0a3 3 0 1 0 -6 0M249.8 338.6a3 3 0 1 0 6 0a3 3 0 1 0 -6 0M248.4 341a3 3 0 1 0 6 0a3 3 0 1 0 -6 0M249.4 341.8a3 3 0 1 0 6 0a3 3 0 1 0 -6 0M246.4 343.4a3 3 0 1 0 6 0a3 3 0 1 0 -6 0M248.2 344.8a3 3 0 1 0 6 0a3 3 0 1 0 -6 0M245.4 344.9a3 3 0 1 0 6 0a3 3 0 1 0 -6 0M245 347.3a3 3 0 1 0 6 0a3 3 0 1 0 -6 0M243.1 346.1a3 3 0 1 0 6 0a3 3 0 1 0 -6 0M241.6 349.7a3 3 0 1 0 6 0a3 3 0 1 0 -6 0M240.2 351.3a3 3 0 1 0 6 0a3 3 0 1 0 -6 0M238.4 351.8a3 3 0 1 0 6 0a3 3 0 1 0 -6 0M235.9 355a3 3 0 1 0 6 0a3 3 0 1 0 -6 0M235.8 356.9a3 3 0 1 0 6 0a3 3 0 1 0 -6 0M237.3 357.3a3 3 0 1 0 6 0a3 3 0 1 0 -6 0M233.3 360.1a3 3 0 1 0 6 0a3 3 0 1 0 -6 0M234.7 360.4a3 3 0 1 0 6 0a3 3 0 1 0 -6 0M231.9 362.4a3 3 0 1 0 6 0a3 3 0 1 0 -6 0M229.8 363.7a3 3 0 1 0 6 0a3 3 0 1 0 -6 0M232.4 363.6a3 3 0 1 0 6 0a3 3 0 1 0 -6 0M229.6 365a3 3 0 1 0 6 0a3 3 0 1 0 -6 0M227.4 366.7a3 3 0 1 0 6 0a3 3 0 1 0 -6 0M230.2 367.7a3 3 0 1 0 6 0a3 3 0 1 0 -6 0M225.6 369.2a3 3 0 1 0 6 0a3 3 0 1 0 -6 0M223.6 371.6a3 3 0 1 0 6 0a3 3 0 1 0 -6 0M223.7 373.6a3 3 0 1 0 6 0a3 3 0 1 0 -6 0M226.1 375.5a3 3 0 1 0 6 0a3 3 0 1 0 -6 0M222 375.9a3 3 0 1 0 6 0a3 3 0 1 0 -6 0M220.2 378.6a3 3 0 1 0 6 0a3 3 0 1 0 -6 0M223.1 379.1a3 3 0 1 0 6 0a3 3 0 1 0 -6 0M219.2 380.2a3 3 0 1 0 6 0a3 3 0 1 0 -6 0M216.5 381.7a3 3 0 1 0 6 0a3 3 0 1 0 -6 0M216.1 382.7a3 3 0 1 0 6 0a3 3 0 1 0 -6 0M214.8 385.2a3 3 0 1 0 6 0a3 3 0 1 0 -6 0M212.4 387.3a3 3 0 1 0 6 0a3 3 0 1 0 -6 0M212.3 388.8a3 3 0 1 0 6 0a3 3 0 1 0 -6 0M210.2 391.5a3 3 0 1 0 6 0a3 3 0 1 0 -6 0M213.1 392.2a3 3 0 1 0 6 0a3 3 0 1 0 -6 0M208.1 392.7a3 3 0 1 0 6 0a3 3 0 1 0 -6 0M206.1 395.6a3 3 0 1 0 6 0a3 3 0 1 0 -6 0M205.2 397.4a3 3 0 1 0 6 0a3 3 0 1 0 -6 0M207.4 399a3 3 0 1 0 6 0a3 3 0 1 0 -6 0M204.6 399a3 3 0 1 0 6 0a3 3 0 1 0 -6 0M203.1 401.4a3 3 0 1 0 6 0a3 3 0 1 0 -6 0M204.7 402a3 3 0 1 0 6 0a3 3 0 1 0 -6 0M203 403a3 3 0 1 0 6 0a3 3 0 1 0 -6 0M201.6 405.9a3 3 0 1 0 6 0a3 3 0 1 0 -6 0M199.9 407.4a3 3 0 1 0 6 0a3 3 0 1 0 -6 0M198.7 409.6a3 3 0 1 0 6 0a3 3 0 1 0 -6 0M198.6 411.1a3 3 0 1 0 6 0a3 3 0 1 0 -6 0M197 414a3 3 0 1 0 6 0a3 3 0 1 0 -6 0M196.2 415.3a3 3 0 1 0 6 0a3 3 0 1 0 -6 0M194.4 417a3 3 0 1 0 6 0a3 3 0 1 0 -6 0M193.1 418.8a3 3 0 1 0 6 0a3 3 0 1 0 -6 0M194.7 420.7a3 3 0 1 0 6 0a3 3 0 1 0 -6 0M192.2 420.6a3 3 0 1 0 6 0a3 3 0 1 0 -6 0M192.9 422.1a3 3 0 1 0 6 0a3 3 0 1 0 -6 0M189.8 423.2a3 3 0 1 0 6 0a3 3 0 1 0 -6 0M188.7 424a3 3 0 1 0 6 0a3 3 0 1 0 -6 0M187.5 426a3 3 0 1 0 6 0a3 3 0 1 0 -6 0M185.7 428.1a3 3 0 1 0 6 0a3 3 0 1 0 -6 0M184.3 432.2a3 3 0 1 0 6 0a3 3 0 1 0 -6 0M183.7 432.7a3 3 0 1 0 6 0a3 3 0 1 0 -6 0M181.8 434.4a3 3 0 1 0 6 0a3 3 0 1 0 -6 0M183.3 436.1a3 3 0 1 0 6 0a3 3 0 1 0 -6 0M179.6 437.1a3 3 0 1 0 6 0a3 3 0 1 0 -6 0M178.4 440.3a3 3 0 1 0 6 0a3 3 0 1 0 -6 0M177.8 442.6a3 3 0 1 0 6 0a3 3 0 1 0 -6 0M176.5 443a3 3 0 1 0 6 0a3 3 0 1 0 -6 0M175.6 446.5a3 3 0 1 0 6 0a3 3 0 1 0 -6 0M173.3 447.5a3 3 0 1 0 6 0a3 3 0 1 0 -6 0M173.6 448.1a3 3 0 1 0 6 0a3 3 0 1 0 -6 0M174.3 450.3a3 3 0 1 0 6 0a3 3 0 1 0 -6 0M171.9 449.6a3 3 0 1 0 6 0a3 3 0 1 0 -6 0M170.6 452.5a3 3 0 1 0 6 0a3 3 0 1 0 -6 0M166.4 454.9a3 3 0 1 0 6 0a3 3 0 1 0 -6 0M170.9 456.2a3 3 0 1 0 6 0a3 3 0 1 0 -6 0M163.9 457.2a3 3 0 1 0 6 0a3 3 0 1 0 -6 0M161.8 457.6a3 3 0 1 0 6 0a3 3 0 1 0 -6 0M163.3 458.8a3 3 0 1 0 6 0a3 3 0 1 0 -6 0M158 460a3 3 0 1 0 6 0a3 3 0 1 0 -6 0M118 461.9a3 3 0 1 0 6 0a3 3 0 1 0 -6 0M118.9 461.9a3 3 0 1 0 6 0a3 3 0 1 0 -6 0M117.9 458.9a3 3 0 1 0 6 0a3 3 0 1 0 -6 0M116.6 458.9a3 3 0 1 0 6 0a3 3 0 1 0 -6 0M118.7 458.9a3 3 0 1 0 6 0a3 3 0 1 0 -6 0M116.3 457.2a3 3 0 1 0 6 0a3 3 0 1 0 -6 0M119.8 457.2a3 3 0 1 0 6 0a3 3 0 1 0 -6 0M116.3 456.4a3 3 0 1 0 6 0a3 3 0 1 0 -6 0M121.2 455.7a3 3 0 1 0 6 0a3 3 0 1 0 -6 0M117.7 455.1a3 3 0 1 0 6 0a3 3 0 1 0 -6 0M122.2 454.9a3 3 0 1 0 6 0a3 3 0 1 0 -6 0M119.5 452.1a3 3 0 1 0 6 0a3 3 0 1 0 -6 0M124.8 452.6a3 3 0 1 0 6 0a3 3 0 1 0 -6 0M123.9 452a3 3 0 1 0 6 0a3 3 0 1 0 -6 0M126.1 451.4a3 3 0 1 0 6 0a3 3 0 1 0 -6 0M129.9 449.1a3 3 0 1 0 6 0a3 3 0 1 0 -6 0M128.8 447.5a3 3 0 1 0 6 0a3 3 0 1 0 -6 0M134.4 447.4a3 3 0 1 0 6 0a3 3 0 1 0 -6 0M135.5 445.8a3 3 0 1 0 6 0a3 3 0 1 0 -6 0M140.7 442.3a3 3 0 1 0 6 0a3 3 0 1 0 -6 0M142.1 440.2a3 3 0 1 0 6 0a3 3 0 1 0 -6 0M141.7 438.9a3 3 0 1 0 6 0a3 3 0 1 0 -6 0M145.5 437.9a3 3 0 1 0 6 0a3 3 0 1 0 -6 0M143.7 436.7a3 3 0 1 0 6 0a3 3 0 1 0 -6 0M146.8 436.7a3 3 0 1 0 6 0a3 3 0 1 0 -6 0M144.8 434.4a3 3 0 1 0 6 0a3 3 0 1 0 -6 0M147.7 435.1a3 3 0 1 0 6 0a3 3 0 1 0 -6 0M147.9 431.7a3 3 0 1 0 6 0a3 3 0 1 0 -6 0M150.2 432.3a3 3 0 1 0 6 0a3 3 0 1 0 -6 0M148 430.3a3 3 0 1 0 6 0a3 3 0 1 0 -6 0M152.3 431.6a3 3 0 1 0 6 0a3 3 0 1 0 -6 0M154.5 428.3a3 3 0 1 0 6 0a3 3 0 1 0 -6 0M151.2 426.5a3 3 0 1 0 6 0a3 3 0 1 0 -6 0M155.6 426.2a3 3 0 1 0 6 0a3 3 0 1 0 -6 0M158.3 424a3 3 0 1 0 6 0a3 3 0 1 0 -6 0M159.6 420.9a3 3 0 1 0 6 0a3 3 0 1 0 -6 0M156.6 421.1a3 3 0 1 0 6 0a3 3 0 1 0 -6 0M160.6 418.8a3 3 0 1 0 6 0a3 3 0 1 0 -6 0M161.9 418.6a3 3 0 1 0 6 0a3 3 0 1 0 -6 0M160.3 417.2a3 3 0 1 0 6 0a3 3 0 1 0 -6 0M162.3 416.4a3 3 0 1 0 6 0a3 3 0 1 0 -6 0M160.1 414.9a3 3 0 1 0 6 0a3 3 0 1 0 -6 0M164.7 413.6a3 3 0 1 0 6 0a3 3 0 1 0 -6 0M166 413.1a3 3 0 1 0 6 0a3 3 0 1 0 -6 0M168.4 409.8a3 3 0 1 0 6 0a3 3 0 1 0 -6 0M171.5 407.6a3 3 0 1 0 6 0a3 3 0 1 0 -6 0M170 406.7a3 3 0 1 0 6 0a3 3 0 1 0 -6 0M171.7 406.3a3 3 0 1 0 6 0a3 3 0 1 0 -6 0M171.4 405.3a3 3 0 1 0 6 0a3 3 0 1 0 -6 0M175.2 404.6a3 3 0 1 0 6 0a3 3 0 1 0 -6 0M172.7 403.4a3 3 0 1 0 6 0a3 3 0 1 0 -6 0M176.5 401.9a3 3 0 1 0 6 0a3 3 0 1 0 -6 0M177.4 400.1a3 3 0 1 0 6 0a3 3 0 1 0 -6 0M179.4 399.3a3 3 0 1 0 6 0a3 3 0 1 0 -6 0M178.4 396.8a3 3 0 1 0 6 0a3 3 0 1 0 -6 0M181.4 396.7a3 3 0 1 0 6 0a3 3 0 1 0 -6 0M180.9 393.9a3 3 0 1 0 6 0a3 3 0 1 0 -6 0M184 392.8a3 3 0 1 0 6 0a3 3 0 1 0 -6 0M185.6 391.6a3 3 0 1 0 6 0a3 3 0 1 0 -6 0M182.2 390.7a3 3 0 1 0 6 0a3 3 0 1 0 -6 0M187.2 389.3a3 3 0 1 0 6 0a3 3 0 1 0 -6 0M188.9 388.5a3 3 0 1 0 6 0a3 3 0 1 0 -6 0M191 386.3a3 3 0 1 0 6 0a3 3 0 1 0 -6 0M192.5 384.9a3 3 0 1 0 6 0a3 3 0 1 0 -6 0M191.5 382.6a3 3 0 1 0 6 0a3 3 0 1 0 -6 0M194.6 381.5a3 3 0 1 0 6 0a3 3 0 1 0 -6 0M196.9 379.3a3 3 0 1 0 6 0a3 3 0 1 0 -6 0M195.1 379.3a3 3 0 1 0 6 0a3 3 0 1 0 -6 0M196.6 378.5a3 3 0 1 0 6 0a3 3 0 1 0 -6 0M200.2 376.2a3 3 0 1 0 6 0a3 3 0 1 0 -6 0M198.1 373.1a3 3 0 1 0 6 0a3 3 0 1 0 -6 0M201.4 373.3a3 3 0 1 0 6 0a3 3 0 1 0 -6 0M198 372.6a3 3 0 1 0 6 0a3 3 0 1 0 -6 0M203.2 372.3a3 3 0 1 0 6 0a3 3 0 1 0 -6 0M201.8 369.5a3 3 0 1 0 6 0a3 3 0 1 0 -6 0M203.9 370.6a3 3 0 1 0 6 0a3 3 0 1 0 -6 0M207.1 367a3 3 0 1 0 6 0a3 3 0 1 0 -6 0M204.8 365.6a3 3 0 1 0 6 0a3 3 0 1 0 -6 0M209.3 365.3a3 3 0 1 0 6 0a3 3 0 1 0 -6 0M210.3 364.8a3 3 0 1 0 6 0a3 3 0 1 0 -6 0M212.2 363a3 3 0 1 0 6 0a3 3 0 1 0 -6 0M209.6 359.4a3 3 0 1 0 6 0a3 3 0 1 0 -6 0M213.8 359.8a3 3 0 1 0 6 0a3 3 0 1 0 -6 0M214.7 359.1a3 3 0 1 0 6 0a3 3 0 1 0 -6 0M218.3 355.8a3 3 0 1 0 6 0a3 3 0 1 0 -6 0M217.9 354.5a3 3 0 1 0 6 0a3 3 0 1 0 -6 0M216.1 352.2a3 3 0 1 0 6 0a3 3 0 1 0 -6 0M220.2 353a3 3 0 1 0 6 0a3 3 0 1 0 -6 0M222.3 351.1a3 3 0 1 0 6 0a3 3 0 1 0 -6 0M219.5 347.8a3 3 0 1 0 6 0a3 3 0 1 0 -6 0M224.7 347.8a3 3 0 1 0 6 0a3 3 0 1 0 -6 0M222.8 346.6a3 3 0 1 0 6 0a3 3 0 1 0 -6 0M224.8 346.4a3 3 0 1 0 6 0a3 3 0 1 0 -6 0M227.2 343a3 3 0 1 0 6 0a3 3 0 1 0 -6 0M228.8 341.9a3 3 0 1 0 6 0a3 3 0 1 0 -6 0M230.6 339.1a3 3 0 1 0 6 0a3 3 0 1 0 -6 0M232.1 338.7a3 3 0 1 0 6 0a3 3 0 1 0 -6 0M233.6 337.2a3 3 0 1 0 6 0a3 3 0 1 0 -6 0M234.4 334.1a3 3 0 1 0 6 0a3 3 0 1 0 -6 0M233.2 330.8a3 3 0 1 0 6 0a3 3 0 1 0 -6 0M237.2 331a3 3 0 1 0 6 0a3 3 0 1 0 -6 0M237.6 330.6a3 3 0 1 0 6 0a3 3 0 1 0 -6 0M239.4 328.8a3 3 0 1 0 6 0a3 3 0 1 0 -6 0M242.8 326.1a3 3 0 1 0 6 0a3 3 0 1 0 -6 0M242.5 324.8a3 3 0 1 0 6 0a3 3 0 1 0 -6 0M245 321.3a3 3 0 1 0 6 0a3 3 0 1 0 -6 0M246.4 320.6a3 3 0 1 0 6 0a3 3 0 1 0 -6 0M245.2 320.3a3 3 0 1 0 6 0a3 3 0 1 0 -6 0M248.8 318.9a3 3 0 1 0 6 0a3 3 0 1 0 -6 0M245.9 316a3 3 0 1 0 6 0a3 3 0 1 0 -6 0M249.8 316a3 3 0 1 0 6 0a3 3 0 1 0 -6 0M251.7 315.1a3 3 0 1 0 6 0a3 3 0 1 0 -6 0M252.8 312.8a3 3 0 1 0 6 0a3 3 0 1 0 -6 0M255.8 309.2a3 3 0 1 0 6 0a3 3 0 1 0 -6 0M254.9 308.3a3 3 0 1 0 6 0a3 3 0 1 0 -6 0M257 307.5a3 3 0 1 0 6 0a3 3 0 1 0 -6 0M253.8 306.3a3 3 0 1 0 6 0a3 3 0 1 0 -6 0M257.9 307.1a3 3 0 1 0 6 0a3 3 0 1 0 -6 0M260.2 303.9a3 3 0 1 0 6 0a3 3 0 1 0 -6 0M259 302.4a3 3 0 1 0 6 0a3 3 0 1 0 -6 0M262.1 302.1a3 3 0 1 0 6 0a3 3 0 1 0 -6 0M264.8 299.6a3 3 0 1 0 6 0a3 3 0 1 0 -6 0M264.8 298.2a3 3 0 1 0 6 0a3 3 0 1 0 -6 0M267.5 295.1a3 3 0 1 0 6 0a3 3 0 1 0 -6 0M267.9 294a3 3 0 1 0 6 0a3 3 0 1 0 -6 0M269.5 293.2a3 3 0 1 0 6 0a3 3 0 1 0 -6 0M271.5 290.7a3 3 0 1 0 6 0a3 3 0 1 0 -6 0M272.7 288.4a3 3 0 1 0 6 0a3 3 0 1 0 -6 0M272.7 286.3a3 3 0 1 0 6 0a3 3 0 1 0 -6 0M275.2 284.9a3 3 0 1 0 6 0a3 3 0 1 0 -6 0M276.6 284.6a3 3 0 1 0 6 0a3 3 0 1 0 -6 0M278.7 283a3 3 0 1 0 6 0a3 3 0 1 0 -6 0M277.6 280.6a3 3 0 1 0 6 0a3 3 0 1 0 -6 0M280.2 280.2a3 3 0 1 0 6 0a3 3 0 1 0 -6 0M281.4 278.8a3 3 0 1 0 6 0a3 3 0 1 0 -6 0M283.4 276.6a3 3 0 1 0 6 0a3 3 0 1 0 -6 0M285.2 274.2a3 3 0 1 0 6 0a3 3 0 1 0 -6 0M286.5 272.6a3 3 0 1 0 6 0a3 3 0 1 0 -6 0M288 270.8a3 3 0 1 0 6 0a3 3 0 1 0 -6 0M287 267.7a3 3 0 1 0 6 0a3 3 0 1 0 -6 0M290.3 267.7a3 3 0 1 0 6 0a3 3 0 1 0 -6 0M290.7 266.3a3 3 0 1 0 6 0a3 3 0 1 0 -6 0M293.3 264.1a3 3 0 1 0 6 0a3 3 0 1 0 -6 0M295.1 261.2a3 3 0 1 0 6 0a3 3 0 1 0 -6 0M293.4 259.8a3 3 0 1 0 6 0a3 3 0 1 0 -6 0M297.1 260.2a3 3 0 1 0 6 0a3 3 0 1 0 -6 0M298.2 256.9a3 3 0 1 0 6 0a3 3 0 1 0 -6 0M300.7 255.8a3 3 0 1 0 6 0a3 3 0 1 0 -6 0M296.8 254.8a3 3 0 1 0 6 0a3 3 0 1 0 -6 0M300.6 254.8a3 3 0 1 0 6 0a3 3 0 1 0 -6 0M303.1 252.1a3 3 0 1 0 6 0a3 3 0 1 0 -6 0M302 251.6a3 3 0 1 0 6 0a3 3 0 1 0 -6 0M305 249.7a3 3 0 1 0 6 0a3 3 0 1 0 -6 0M307.2 247.8a3 3 0 1 0 6 0a3 3 0 1 0 -6 0M304.5 246a3 3 0 1 0 6 0a3 3 0 1 0 -6 0M307.7 245.8a3 3 0 1 0 6 0a3 3 0 1 0 -6 0M309.3 244.3a3 3 0 1 0 6 0a3 3 0 1 0 -6 0M307.4 243.3a3 3 0 1 0 6 0a3 3 0 1 0 -6 0M310.2 242.7a3 3 0 1 0 6 0a3 3 0 1 0 -6 0M312.4 240.4a3 3 0 1 0 6 0a3 3 0 1 0 -6 0M310.7 237.2a3 3 0 1 0 6 0a3 3 0 1 0 -6 0M315.2 238.2a3 3 0 1 0 6 0a3 3 0 1 0 -6 0M313.1 237.2a3 3 0 1 0 6 0a3 3 0 1 0 -6 0M316.2 235.7a3 3 0 1 0 6 0a3 3 0 1 0 -6 0M313.8 234.4a3 3 0 1 0 6 0a3 3 0 1 0 -6 0M317.8 233.4a3 3 0 1 0 6 0a3 3 0 1 0 -6 0M319.9 232.1a3 3 0 1 0 6 0a3 3 0 1 0 -6 0M317.3 230.9a3 3 0 1 0 6 0a3 3 0 1 0 -6 0M321.1 228.9a3 3 0 1 0 6 0a3 3 0 1 0 -6 0M322.5 227.5a3 3 0 1 0 6 0a3 3 0 1 0 -6 0M323.1 226a3 3 0 1 0 6 0a3 3 0 1 0 -6 0M325.3 224.3a3 3 0 1 0 6 0a3 3 0 1 0 -6 0M328 221.5a3 3 0 1 0 6 0a3 3 0 1 0 -6 0M325.1 220.3a3 3 0 1 0 6 0a3 3 0 1 0 -6 0M328.9 220.5a3 3 0 1 0 6 0a3 3 0 1 0 -6 0M330.6 218.5a3 3 0 1 0 6 0a3 3 0 1 0 -6 0M331.7 216.1a3 3 0 1 0 6 0a3 3 0 1 0 -6 0M333.8 213.9a3 3 0 1 0 6 0a3 3 0 1 0 -6 0M334.3 213.1a3 3 0 1 0 6 0a3 3 0 1 0 -6 0M337.1 209.8a3 3 0 1 0 6 0a3 3 0 1 0 -6 0M333 208.4a3 3 0 1 0 6 0a3 3 0 1 0 -6 0M337.9 207a3 3 0 1 0 6 0a3 3 0 1 0 -6 0M336.4 206.1a3 3 0 1 0 6 0a3 3 0 1 0 -6 0M339 207.1a3 3 0 1 0 6 0a3 3 0 1 0 -6 0M340.4 203.6a3 3 0 1 0 6 0a3 3 0 1 0 -6 0M342.5 202.3a3 3 0 1 0 6 0a3 3 0 1 0 -6 0M345 199.8a3 3 0 1 0 6 0a3 3 0 1 0 -6 0M341.9 198.9a3 3 0 1 0 6 0a3 3 0 1 0 -6 0M345.5 199.5a3 3 0 1 0 6 0a3 3 0 1 0 -6 0M342.9 196.7a3 3 0 1 0 6 0a3 3 0 1 0 -6 0M347.2 196.9a3 3 0 1 0 6 0a3 3 0 1 0 -6 0M348.6 193.9a3 3 0 1 0 6 0a3 3 0 1 0 -6 0M347.2 193.5a3 3 0 1 0 6 0a3 3 0 1 0 -6 0M351.2 191.8a3 3 0 1 0 6 0a3 3 0 1 0 -6 0M346.9 190.4a3 3 0 1 0 6 0a3 3 0 1 0 -6 0M351.7 189.9a3 3 0 1 0 6 0a3 3 0 1 0 -6 0M353.5 188.2a3 3 0 1 0 6 0a3 3 0 1 0 -6 0M355 185.1a3 3 0 1 0 6 0a3 3 0 1 0 -6 0M356 183.5a3 3 0 1 0 6 0a3 3 0 1 0 -6 0M354.3 182.3a3 3 0 1 0 6 0a3 3 0 1 0 -6 0M357.9 181.7a3 3 0 1 0 6 0a3 3 0 1 0 -6 0M356 179.6a3 3 0 1 0 6 0a3 3 0 1 0 -6 0M360.2 179.8a3 3 0 1 0 6 0a3 3 0 1 0 -6 0M361.5 178.5a3 3 0 1 0 6 0a3 3 0 1 0 -6 0M362.4 174.8a3 3 0 1 0 6 0a3 3 0 1 0 -6 0M363.5 173.3a3 3 0 1 0 6 0a3 3 0 1 0 -6 0M364.8 172.9a3 3 0 1 0 6 0a3 3 0 1 0 -6 0M364.1 169.7a3 3 0 1 0 6 0a3 3 0 1 0 -6 0M367.2 169.4a3 3 0 1 0 6 0a3 3 0 1 0 -6 0M368.2 167.4a3 3 0 1 0 6 0a3 3 0 1 0 -6 0M366 165.3a3 3 0 1 0 6 0a3 3 0 1 0 -6 0M369.9 164.8a3 3 0 1 0 6 0a3 3 0 1 0 -6 0M367.7 165.7a3 3 0 1 0 6 0a3 3 0 1 0 -6 0M371.7 163a3 3 0 1 0 6 0a3 3 0 1 0 -6 0M372.8 162.8a3 3 0 1 0 6 0a3 3 0 1 0 -6 0M373 160.2a3 3 0 1 0 6 0a3 3 0 1 0 -6 0M375.3 159.2a3 3 0 1 0 6 0a3 3 0 1 0 -6 0M373.3 157.1a3 3 0 1 0 6 0a3 3 0 1 0 -6 0M376.8 156.4a3 3 0 1 0 6 0a3 3 0 1 0 -6 0M375.2 153.4a3 3 0 1 0 6 0a3 3 0 1 0 -6 0M378.5 152.9a3 3 0 1 0 6 0a3 3 0 1 0 -6 0M380.5 150.9a3 3 0 1 0 6 0a3 3 0 1 0 -6 0M378 150.9a3 3 0 1 0 6 0a3 3 0 1 0 -6 0M381 150.6a3 3 0 1 0 6 0a3 3 0 1 0 -6 0M379.8 148.9a3 3 0 1 0 6 0a3 3 0 1 0 -6 0M382.9 148.3a3 3 0 1 0 6 0a3 3 0 1 0 -6 0M380.5 145.3a3 3 0 1 0 6 0a3 3 0 1 0 -6 0M385.6 145.6a3 3 0 1 0 6 0a3 3 0 1 0 -6 0M385.6 143.8a3 3 0 1 0 6 0a3 3 0 1 0 -6 0M384.2 142a3 3 0 1 0 6 0a3 3 0 1 0 -6 0M387.4 140.8a3 3 0 1 0 6 0a3 3 0 1 0 -6 0M389.5 139.4a3 3 0 1 0 6 0a3 3 0 1 0 -6 0M389.2 138.5a3 3 0 1 0 6 0a3 3 0 1 0 -6 0M389.7 136.3a3 3 0 1 0 6 0a3 3 0 1 0 -6 0M392 137a3 3 0 1 0 6 0a3 3 0 1 0 -6 0M391 135a3 3 0 1 0 6 0a3 3 0 1 0 -6 0M393.7 134.8a3 3 0 1 0 6 0a3 3 0 1 0 -6 0M394 132.8a3 3 0 1 0 6 0a3 3 0 1 0 -6 0M396.4 130.8a3 3 0 1 0 6 0a3 3 0 1 0 -6 0M394.5 127.6a3 3 0 1 0 6 0a3 3 0 1 0 -6 0M397.4 128.9a3 3 0 1 0 6 0a3 3 0 1 0 -6 0M396.6 126.9a3 3 0 1 0 6 0a3 3 0 1 0 -6 0M399.6 125.7a3 3 0 1 0 6 0a3 3 0 1 0 -6 0M396.7 123.8a3 3 0 1 0 6 0a3 3 0 1 0 -6 0M400.7 123.2a3 3 0 1 0 6 0a3 3 0 1 0 -6 0M402 121.9a3 3 0 1 0 6 0a3 3 0 1 0 -6 0M402.8 120a3 3 0 1 0 6 0a3 3 0 1 0 -6 0M405.2 118.1a3 3 0 1 0 6 0a3 3 0 1 0 -6 0M405.5 115.3a3 3 0 1 0 6 0a3 3 0 1 0 -6 0M403.3 113.1a3 3 0 1 0 6 0a3 3 0 1 0 -6 0M407.1 113.5a3 3 0 1 0 6 0a3 3 0 1 0 -6 0M404 112a3 3 0 1 0 6 0a3 3 0 1 0 -6 0M408.2 111.4a3 3 0 1 0 6 0a3 3 0 1 0 -6 0M408.7 110.1a3 3 0 1 0 6 0a3 3 0 1 0 -6 0M406 108.8a3 3 0 1 0 6 0a3 3 0 1 0 -6 0M410.8 107a3 3 0 1 0 6 0a3 3 0 1 0 -6 0M411.4 107.2a3 3 0 1 0 6 0a3 3 0 1 0 -6 0M413.4 103.5a3 3 0 1 0 6 0a3 3 0 1 0 -6 0M414.2 102.9a3 3 0 1 0 6 0a3 3 0 1 0 -6 0M411 100.2a3 3 0 1 0 6 0a3 3 0 1 0 -6 0M415.8 100.4a3 3 0 1 0 6 0a3 3 0 1 0 -6 0M413.8 97.1a3 3 0 1 0 6 0a3 3 0 1 0 -6 0M417.4 97.7a3 3 0 1 0 6 0a3 3 0 1 0 -6 0M419.9 95.7a3 3 0 1 0 6 0a3 3 0 1 0 -6 0M417.1 95.2a3 3 0 1 0 6 0a3 3 0 1 0 -6 0M421 92.6a3 3 0 1 0 6 0a3 3 0 1 0 -6 0M423 91.8a3 3 0 1 0 6 0a3 3 0 1 0 -6 0M420.7 89.8a3 3 0 1 0 6 0a3 3 0 1 0 -6 0M423.7 88.5a3 3 0 1 0 6 0a3 3 0 1 0 -6 0M424.9 87.8a3 3 0 1 0 6 0a3 3 0 1 0 -6 0M423.2 87.2a3 3 0 1 0 6 0a3 3 0 1 0 -6 0M426.2 85a3 3 0 1 0 6 0a3 3 0 1 0 -6 0M426.8 84.2a3 3 0 1 0 6 0a3 3 0 1 0 -6 0M426.4 83.4a3 3 0 1 0 6 0a3 3 0 1 0 -6 0M429.9 80.9a3 3 0 1 0 6 0a3 3 0 1 0 -6 0M430.5 79.9a3 3 0 1 0 6 0a3 3 0 1 0 -6 0M431.8 77.2a3 3 0 1 0 6 0a3 3 0 1 0 -6 0M430.1 76.6a3 3 0 1 0 6 0a3 3 0 1 0 -6 0M432.3 74.7a3 3 0 1 0 6 0a3 3 0 1 0 -6 0M433 73.6a3 3 0 1 0 6 0a3 3 0 1 0 -6 0M435.3 71.4a3 3 0 1 0 6 0a3 3 0 1 0 -6 0M434 70.2a3 3 0 1 0 6 0a3 3 0 1 0 -6 0M436.7 68.9a3 3 0 1 0 6 0a3 3 0 1 0 -6 0M437.5 67.1a3 3 0 1 0 6 0a3 3 0 1 0 -6 0M438.9 65.3a3 3 0 1 0 6 0a3 3 0 1 0 -6 0M439.7 64.7a3 3 0 1 0 6 0a3 3 0 1 0 -6 0M440.8 60.7a3 3 0 1 0 6 0a3 3 0 1 0 -6 0M442.3 59.2a3 3 0 1 0 6 0a3 3 0 1 0 -6 0M442.9 58.3a3 3 0 1 0 6 0a3 3 0 1 0 -6 0M444.8 56.6a3 3 0 1 0 6 0a3 3 0 1 0 -6 0M447.3 53.9a3 3 0 1 0 6 0a3 3 0 1 0 -6 0M449.2 51.8a3 3 0 1 0 6 0a3 3 0 1 0 -6 0M451 49.4a3 3 0 1 0 6 0a3 3 0 1 0 -6 0M451 48.9a3 3 0 1 0 6 0a3 3 0 1 0 -6 0M452.8 46.3a3 3 0 1 0 6 0a3 3 0 1 0 -6 0M454.1 42.8a3 3 0 1 0 6 0a3 3 0 1 0 -6 0M454.5 42.4a3 3 0 1 0 6 0a3 3 0 1 0 -6 0M457 40a3 3 0 1 0 6 0a3 3 0 1 0 -6 0M457.7 37.9a3 3 0 1 0 6 0a3 3 0 1 0 -6 0M460.2 35.3a3 3 0 1 0 6 0a3 3 0 1 0 -6 0M456.4 34.9a3 3 0 1 0 6 0a3 3 0 1 0 -6 0M461.1 33.6a3 3 0 1 0 6 0a3 3 0 1 0 -6 0M462.4 31.1a3 3 0 1 0 6 0a3 3 0 1 0 -6 0M463.6 31.5a3 3 0 1 0 6 0a3 3 0 1 0 -6 0M462.6 29.8a3 3 0 1 0 6 0a3 3 0 1 0 -6 0M465.2 28.3a3 3 0 1 0 6 0a3 3 0 1 0 -6 0M468.3 26.6a3 3 0 1 0 6 0a3 3 0 1 0 -6 0M470.1 24.9a3 3 0 1 0 6 0a3 3 0 1 0 -6 0M472.1 21.1a3 3 0 1 0 6 0a3 3 0 1 0 -6 0M472.9 21.1a3 3 0 1 0 6 0a3 3 0 1 0 -6 0M471.9 20.1a3 3 0 1 0 6 0a3 3 0 1 0 -6 0M475.6 18.8a3 3 0 1 0 6 0a3 3 0 1 0 -6 0M472.5 16.2a3 3 0 1 0 6 0a3 3 0 1 0 -6 0M477.8 16.5a3 3 0 1 0 6 0a3 3 0 1 0 -6 0"/>
<path fill="#00ff00" d="M486.7 12.6 L491 11.8 L494 10.6 L499 10 L506 10 L510.5 10.6 L513 11.8 L514.7 12.6 L512.9 14.6 L511.2 16.6 L509.4 18.6 L507.6 20.6 L505.7 22.6 L503.9 24.6 L502 26.6 L500 28.6 L498.1 30.6 L496.1 32.6 L494.1 34.6 L492.1 36.6 L490.1 38.6 L488.1 40.6 L486.2 42.6 L484.3 44.6 L482.4 46.6 L480.5 48.6 L478.6 50.6 L476.6 52.6 L474.8 54.6 L472.9 56.6 L471.1 58.6 L469.3 60.6 L467.6 62.6 L466 64.6 L464.4 66.6 L462.8 68.6 L461.2 70.6 L459.7 72.6 L458.1 74.6 L456.4 76.6 L454.8 78.6 L453.2 80.6 L451.5 82.6 L449.9 84.6 L448.3 86.6 L446.6 88.6 L445 90.6 L443.3 92.6 L441.7 94.6 L440 96.6 L438.3 98.6 L436.7 100.6 L435 102.6 L433.4 104.6 L431.7 106.6 L430 108.6 L428.4 110.6 L426.7 112.6 L425 114.6 L423.4 116.6 L421.8 118.6 L420.2 120.6 L418.7 122.6 L417.2 124.6 L415.7 126.6 L414.2 128.6 L412.7 130.6 L411.2 132.6 L409.7 134.6 L408.2 136.6 L406.7 138.6 L405.2 140.6 L403.7 142.6 L402.2 144.6 L400.7 146.6 L399.1 148.6 L397.5 150.6 L395.9 152.6 L394.4 154.6 L392.8 156.6 L391.2 158.6 L389.6 160.6 L388 162.6 L386.4 164.6 L384.9 166.6 L383.3 168.6 L381.7 170.6 L380.1 172.6 L378.5 174.6 L376.9 176.6 L375.4 178.6 L373.8 180.6 L372.2 182.6 L370.6 184.6 L369 186.6 L367.5 188.6 L365.9 190.6 L364.3 192.6 L362.7 194.6 L361.2 196.6 L359.6 198.6 L358 200.6 L356.5 202.6 L354.9 204.6 L353.3 206.6 L351.7 208.6 L350.2 210.6 L348.6 212.6 L347 214.6 L345.4 216.6 L343.9 218.6 L342.3 220.6 L340.7 222.6 L339.1 224.6 L337.6 226.6 L336 228.6 L334.4 230.6 L332.8 232.6 L331.3 234.6 L329.7 236.6 L328.1 238.6 L326.5 240.6 L324.9 242.6 L323.3 244.6 L321.7 246.6 L320.1 248.6 L318.5 250.6 L316.9 252.6 L315.3 254.6 L313.7 256.6 L312.1 258.6 L310.5 260.6 L308.9 262.6 L307.3 264.6 L305.7 266.6 L304.1 268.6 L302.5 270.6 L300.9 272.6 L299.3 274.6 L297.7 276.6 L296.1 278.6 L294.5 280.6 L292.9 282.6 L291.3 284.6 L289.7 286.6 L288.1 288.6 L286.5 290.6 L284.9 292.6 L283.3 294.6 L281.7 296.6 L280.2 298.6 L278.6 300.6 L277 302.6 L275.5 304.6 L273.9 306.6 L272.4 308.6 L270.8 310.6 L269.2 312.6 L267.7 314.6 L266.1 316.6 L264.6 318.6 L263 320.6 L261.5 322.6 L259.9 324.6 L258.4 326.6 L256.8 328.6 L255.3 330.6 L253.7 332.6 L252.2 334.6 L250.6 336.6 L249.1 338.6 L247.5 340.6 L246 342.6 L244.4 344.6 L242.9 346.6 L241.3 348.6 L239.8 350.6 L238.2 352.6 L236.7 354.6 L235.1 356.6 L233.6 358.6 L232 360.6 L230.5 362.6 L228.9 364.6 L227.3 366.6 L225.8 368.6 L224.2 370.6 L222.7 372.6 L221.1 374.6 L219.5 376.6 L218 378.6 L216.4 380.6 L214.9 382.6 L213.3 384.6 L211.7 386.6 L210.2 388.6 L208.6 390.6 L207 392.6 L205.5 394.6 L204 396.6 L202.4 398.6 L200.9 400.6 L199.4 402.6 L198 404.6 L196.5 406.6 L195 408.6 L193.6 410.6 L192.2 412.6 L190.7 414.6 L189.3 416.6 L188 418.6 L186.7 420.6 L185.4 422.6 L184.2 424.6 L182.9 426.6 L181.6 428.6 L180.2 430.6 L178.8 432.6 L177.4 434.6 L175.9 436.6 L174.4 438.6 L173 440.6 L171.6 442.6 L170.4 444.6 L169.2 446.6 L168.1 448.6 L167 450.6 L166 452.6 L165 454.6 L163.9 456.6 L162.9 458.6 L161.9 460.6 L160.8 462.6 L159.7 464.6 L159 466.2 L153 468 L145 469.2 L137 469 L131 467.5 L129.5 466.2 L129.6 464.6 L130.7 462.6 L132.2 460.6 L133.6 458.6 L135.2 456.6 L137.2 454.6 L139.2 452.6 L141.2 450.6 L143.3 448.6 L145.4 446.6 L147.6 444.6 L149.8 442.6 L151.9 440.6 L154 438.6 L156.1 436.6 L158.1 434.6 L160 432.6 L161.8 430.6 L163.5 428.6 L165.1 426.6 L166.6 424.6 L168.1 422.6 L169.6 420.6 L171.2 418.6 L172.7 416.6 L174.2 414.6 L175.8 412.6 L177.4 410.6 L178.9 408.6 L180.5 406.6 L182.1 404.6 L183.7 402.6 L185.3 400.6 L186.9 398.6 L188.6 396.6 L190.3 394.6 L192 392.6 L193.7 390.6 L195.4 388.6 L197.1 386.6 L198.7 384.6 L200.4 382.6 L202.1 380.6 L203.8 378.6 L205.5 376.6 L207.2 374.6 L208.9 372.6 L210.6 370.6 L212.3 368.6 L214 366.6 L215.7 364.6 L217.3 362.6 L219 360.6 L220.6 358.6 L222.2 356.6 L223.8 354.6 L225.4 352.6 L227 350.6 L228.5 348.6 L230.1 346.6 L231.7 344.6 L233.3 342.6 L234.9 340.6 L236.5 338.6 L238 336.6 L239.6 334.6 L241.2 332.6 L242.8 330.6 L244.4 328.6 L246 326.6 L247.5 324.6 L249.1 322.6 L250.7 320.6 L252.3 318.6 L253.9 316.6 L255.5 314.6 L257 312.6 L258.6 310.6 L260.2 308.6 L261.8 306.6 L263.4 304.6 L265 302.6 L266.5 300.6 L268.1 298.6 L269.7 296.6 L271.3 294.6 L272.9 292.6 L274.5 290.6 L276 288.6 L277.6 286.6 L279.2 284.6 L280.8 282.6 L282.4 280.6 L284 278.6 L285.5 276.6 L287.1 274.6 L288.7 272.6 L290.3 270.6 L291.9 268.6 L293.5 266.6 L295 264.6 L296.6 262.6 L298.2 260.6 L299.8 258.6 L301.4 256.6 L303 254.6 L304.5 252.6 L306.1 250.6 L307.7 248.6 L309.3 246.6 L310.9 244.6 L312.4 242.6 L314 240.6 L315.6 238.6 L317.2 236.6 L318.7 234.6 L320.3 232.6 L321.9 230.6 L323.4 228.6 L325 226.6 L326.5 224.6 L328.1 222.6 L329.6 220.6 L331.2 218.6 L332.8 216.6 L334.3 214.6 L335.9 212.6 L337.4 210.6 L339 208.6 L340.5 206.6 L342.1 204.6 L343.7 202.6 L345.2 200.6 L346.8 198.6 L348.3 196.6 L349.9 194.6 L351.4 192.6 L353 190.6 L354.5 188.6 L356.1 186.6 L357.7 184.6 L359.2 182.6 L360.8 180.6 L362.3 178.6 L363.8 176.6 L365.4 174.6 L366.9 172.6 L368.4 170.6 L370 168.6 L371.5 166.6 L373 164.6 L374.5 162.6 L376.1 160.6 L377.6 158.6 L379.1 156.6 L380.6 154.6 L382.2 152.6 L383.7 150.6 L385.2 148.6 L386.8 146.6 L388.3 144.6 L389.9 142.6 L391.4 140.6 L393 138.6 L394.5 136.6 L396.1 134.6 L397.7 132.6 L399.2 130.6 L400.8 128.6 L402.4 126.6 L404 124.6 L405.5 122.6 L407.1 120.6 L408.7 118.6 L410.3 116.6 L411.9 114.6 L413.6 112.6 L415.2 110.6 L416.8 108.6 L418.4 106.6 L420 104.6 L421.7 102.6 L423.3 100.6 L424.9 98.6 L426.5 96.6 L428.1 94.6 L429.7 92.6 L431.2 90.6 L432.8 88.6 L434.3 86.6 L435.9 84.6 L437.4 82.6 L439 80.6 L440.5 78.6 L442 76.6 L443.5 74.6 L445 72.6 L446.4 70.6 L447.9 68.6 L449.3 66.6 L450.8 64.6 L452.2 62.6 L453.6 60.6 L455 58.6 L456.4 56.6 L457.8 54.6 L459.2 52.6 L460.6 50.6 L462 48.6 L463.3 46.6 L464.6 44.6 L466 42.6 L467.4 40.6 L468.8 38.6 L470.2 36.6 L471.6 34.6 L472.9 32.6 L474.3 30.6 L475.7 28.6 L477 26.6 L478.4 24.6 L479.7 22.6 L481.1 20.6 L482.5 18.6 L483.9 16.6 L485.3 14.6Z"/><path fill="#00ff00" d="M504.9 15.3a3 3 0 1 0 6 0a3 3 0 1 0 -6 0M503.1 18a3 3 0 1 0 6 0a3 3 0 1 0 -6 0M501.5 19.6a3 3 0 1 0 6 0a3 3 0 1 0 -6 0M500 21.9a3 3 0 1 0 6 0a3 3 0 1 0 -6 0M498.5 22.5a3 3 0 1 0 6 0a3 3 0 1 0 -6 0M496 25.9a3 3 0 1 0 6 0a3 3 0 1 0 -6 0M493.1 28.3a3 3 0 1 0 6 0a3 3 0 1 0 -6 0M493.2 28.9a3 3 0 1 0 6 0a3 3 0 1 0 -6 0M488.9 32.2a3 3 0 1 0 6 0a3 3 0 1 0 -6 0M487.9 33.8a3 3 0 1 0 6 0a3 3 0 1 0 -6 0M486.1 35.2a3 3 0 1 0 6 0a3 3 0 1 0 -6 0M484.4 37a3 3 0 1 0 6 0a3 3 0 1 0 -6 0M482.2 39.9a3 3 0 1 0 6 0a3 3 0 1 0 -6 0M479.7 41.7a3 3 0 1 0 6 0a3 3 0 1 0 -6 0M478.1 43a3 3 0 1 0 6 0a3 3 0 1 0 -6 0M476.3 46.3a3 3 0 1 0 6 0a3 3 0 1 0 -6 0M474.1 47.6a3 3 0 1 0 6 0a3 3 0 1 0 -6 0M473.3 49.8a3 3 0 1 0 6 0a3 3 0 1 0 -6 0M470.4 52.8a3 3 0 1 0 6 0a3 3 0 1 0 -6 0M469.6 53.3a3 3 0 1 0 6 0a3 3 0 1 0 -6 0M467.5 55.5a3 3 0 1 0 6 0a3 3 0 1 0 -6 0M464.7 59a3 3 0 1 0 6 0a3 3 0 1 0 -6 0M463 61a3 3 0 1 0 6 0a3 3 0 1 0 -6 0M462.3 62.1a3 3 0 1 0 6 0a3 3 0 1 0 -6 0M460.4 63.8a3 3 0 1 0 6 0a3 3 0 1 0 -6 0M459.2 65.7a3 3 0 1 0 6 0a3 3 0 1 0 -6 0M456.6 67.5a3 3 0 1 0 6 0a3 3 0 1 0 -6 0M455.1 70.6a3 3 0 1 0 6 0a3 3 0 1 0 -6 0M453.4 72.5a3 3 0 1 0 6 0a3 3 0 1 0 -6 0M451.6 74a3 3 0 1 0 6 0a3 3 0 1 0 -6 0M450.3 75.3a3 3 0 1 0 6 0a3 3 0 1 0 -6 0M449.1 77.4a3 3 0 1 0 6 0a3 3 0 1 0 -6 0M447.3 80.8a3 3 0 1 0 6 0a3 3 0 1 0 -6 0M445.7 82.1a3 3 0 1 0 6 0a3 3 0 1 0 -6 0M444.7 83.6a3 3 0 1 0 6 0a3 3 0 1 0 -6 0M442 85.8a3 3 0 1 0 6 0a3 3 0 1 0 -6 0M440.5 87.4a3 3 0 1 0 6 0a3 3 0 1 0 -6 0M439.2 89.4a3 3 0 1 0 6 0a3 3 0 1 0 -6 0M437 92a3 3 0 1 0 6 0a3 3 0 1 0 -6 0M435.4 93.3a3 3 0 1 0 6 0a3 3 0 1 0 -6 0M434.5 95.7a3 3 0 1 0 6 0a3 3 0 1 0 -6 0M433 97.9a3 3 0 1 0 6 0a3 3 0 1 0 -6 0M430.7 99.9a3 3 0 1 0 6 0a3 3 0 1 0 -6 0M428.8 103a3 3 0 1 0 6 0a3 3 0 1 0 -6 0M428.3 103.1a3 3 0 1 0 6 0a3 3 0 1 0 -6 0M425 106.4a3 3 0 1 0 6 0a3 3 0 1 0 -6 0M424.2 107.6a3 3 0 1 0 6 0a3 3 0 1 0 -6 0M421.6 110.3a3 3 0 1 0 6 0a3 3 0 1 0 -6 0M421.2 111a3 3 0 1 0 6 0a3 3 0 1 0 -6 0M418.7 113.5a3 3 0 1 0 6 0a3 3 0 1 0 -6 0M416.8 116.1a3 3 0 1 0 6 0a3 3 0 1 0 -6 0M415.7 119a3 3 0 1 0 6 0a3 3 0 1 0 -6 0M413.9 120.3a3 3 0 1 0 6 0a3 3 0 1 0 -6 0M413.3 121a3 3 0 1 0 6 0a3 3 0 1 0 -6 0M411.9 123.8a3 3 0 1 0 6 0a3 3 0 1 0 -6 0M410.1 125a3 3 0 1 0 6 0a3 3 0 1 0 -6 0M408 128.7a3 3 0 1 0 6 0a3 3 0 1 0 -6 0M407 128.9a3 3 0 1 0 6 0a3 3 0 1 0 -6 0M405.9 130.9a3 3 0 1 0 6 0a3 3 0 1 0 -6 0M404.6 133.9a3 3 0 1 0 6 0a3 3 0 1 0 -6 0M401.9 135.8a3 3 0 1 0 6 0a3 3 0 1 0 -6 0M400.8 139a3 3 0 1 0 6 0a3 3 0 1 0 -6 0M399.3 140.4a3 3 0 1 0 6 0a3 3 0 1 0 -6 0M398 142.3a3 3 0 1 0 6 0a3 3 0 1 0 -6 0M396.4 143.1a3 3 0 1 0 6 0a3 3 0 1 0 -6 0M395.2 146.4a3 3 0 1 0 6 0a3 3 0 1 0 -6 0M393.9 147a3 3 0 1 0 6 0a3 3 0 1 0 -6 0M392.2 148.9a3 3 0 1 0 6 0a3 3 0 1 0 -6 0M390 152.2a3 3 0 1 0 6 0a3 3 0 1 0 -6 0M388.6 154.3a3 3 0 1 0 6 0a3 3 0 1 0 -6 0M385.7 156.7a3 3 0 1 0 6 0a3 3 0 1 0 -6 0M385 157.2a3 3 0 1 0 6 0a3 3 0 1 0 -6 0M384.1 160.2a3 3 0 1 0 6 0a3 3 0 1 0 -6 0M381.6 162.1a3 3 0 1 0 6 0a3 3 0 1 0 -6 0M381.1 163.9a3 3 0 1 0 6 0a3 3 0 1 0 -6 0M379.6 165.8a3 3 0 1 0 6 0a3 3 0 1 0 -6 0M377.4 168a3 3 0 1 0 6 0a3 3 0 1 0 -6 0M375.8 170.6a3 3 0 1 0 6 0a3 3 0 1 0 -6 0M373.9 171.9a3 3 0 1 0 6 0a3 3 0 1 0 -6 0M371.7 174a3 3 0 1 0 6 0a3 3 0 1 0 -6 0M370.4 176.2a3 3 0 1 0 6 0a3 3 0 1 0 -6 0M370.4 177.8a3 3 0 1 0 6 0a3 3 0 1 0 -6 0M367.4 180.3a3 3 0 1 0 6 0a3 3 0 1 0 -6 0M366.9 181.9a3 3 0 1 0 6 0a3 3 0 1 0 -6 0M364.2 185.1a3 3 0 1 0 6 0a3 3 0 1 0 -6 0M363.8 185.4a3 3 0 1 0 6 0a3 3 0 1 0 -6 0M361.1 188.6a3 3 0 1 0 6 0a3 3 0 1 0 -6 0M361 189.4a3 3 0 1 0 6 0a3 3 0 1 0 -6 0M357.9 191.4a3 3 0 1 0 6 0a3 3 0 1 0 -6 0M356.4 194.5a3 3 0 1 0 6 0a3 3 0 1 0 -6 0M356.3 195.5a3 3 0 1 0 6 0a3 3 0 1 0 -6 0M354 198.2a3 3 0 1 0 6 0a3 3 0 1 0 -6 0M352.4 198.6a3 3 0 1 0 6 0a3 3 0 1 0 -6 0M349.3 202.4a3 3 0 1 0 6 0a3 3 0 1 0 -6 0M348.7 204.5a3 3 0 1 0 6 0a3 3 0 1 0 -6 0M347.3 206.9a3 3 0 1 0 6 0a3 3 0 1 0 -6 0M346.2 207.3a3 3 0 1 0 6 0a3 3 0 1 0 -6 0M344.7 208.7a3 3 0 1 0 6 0a3 3 0 1 0 -6 0M343.2 212.3a3 3 0 1 0 6 0a3 3 0 1 0 -6 0M341.5 214.4a3 3 0 1 0 6 0a3 3 0 1 0 -6 0M338.9 215.8a3 3 0 1 0 6 0a3 3 0 1 0 -6 0M338.1 218.5a3 3 0 1 0 6 0a3 3 0 1 0 -6 0M335.9 220.8a3 3 0 1 0 6 0a3 3 0 1 0 -6 0M335.1 222.4a3 3 0 1 0 6 0a3 3 0 1 0 -6 0M333.2 223.8a3 3 0 1 0 6 0a3 3 0 1 0 -6 0M331.4 226.4a3 3 0 1 0 6 0a3 3 0 1 0 -6 0M330.2 228.8a3 3 0 1 0 6 0a3 3 0 1 0 -6 0M328.5 229.6a3 3 0 1 0 6 0a3 3 0 1 0 -6 0M327.2 231.3a3 3 0 1 0 6 0a3 3 0 1 0 -6 0M325.8 234.2a3 3 0 1 0 6 0a3 3 0 1 0 -6 0M324.1 236.5a3 3 0 1 0 6 0a3 3 0 1 0 -6 0M321.7 239.1a3 3 0 1 0 6 0a3 3 0 1 0 -6 0M319.8 240.2a3 3 0 1 0 6 0a3 3 0 1 0 -6 0M319.1 242.8a3 3 0 1 0 6 0a3 3 0 1 0 -6 0M316.3 244.6a3 3 0 1 0 6 0a3 3 0 1 0 -6 0M316.8 245.2a3 3 0 1 0 6 0a3 3 0 1 0 -6 0M314.5 247.2a3 3 0 1 0 6 0a3 3 0 1 0 -6 0M311.9 249.8a3 3 0 1 0 6 0a3 3 0 1 0 -6 0M312.1 251.6a3 3 0 1 0 6 0a3 3 0 1 0 -6 0M309.5 252.7a3 3 0 1 0 6 0a3 3 0 1 0 -6 0M308 255a3 3 0 1 0 6 0a3 3 0 1 0 -6 0M306.6 258.3a3 3 0 1 0 6 0a3 3 0 1 0 -6 0M303.5 260.3a3 3 0 1 0 6 0a3 3 0 1 0 -6 0M302.4 262.6a3 3 0 1 0 6 0a3 3 0 1 0 -6 0M301.3 263.8a3 3 0 1 0 6 0a3 3 0 1 0 -6 0M299.8 266.9a3 3 0 1 0 6 0a3 3 0 1 0 -6 0M298.4 268.2a3 3 0 1 0 6 0a3 3 0 1 0 -6 0M297.1 268.7a3 3 0 1 0 6 0a3 3 0 1 0 -6 0M294.1 272.3a3 3 0 1 0 6 0a3 3 0 1 0 -6 0M293.9 273a3 3 0 1 0 6 0a3 3 0 1 0 -6 0M292.4 276.1a3 3 0 1 0 6 0a3 3 0 1 0 -6 0M290.3 278.1a3 3 0 1 0 6 0a3 3 0 1 0 -6 0M287.9 280.1a3 3 0 1 0 6 0a3 3 0 1 0 -6 0M287.8 281.2a3 3 0 1 0 6 0a3 3 0 1 0 -6 0M285.4 284.7a3 3 0 1 0 6 0a3 3 0 1 0 -6 0M282.8 286.6a3 3 0 1 0 6 0a3 3 0 1 0 -6 0M283.3 287.4a3 3 0 1 0 6 0a3 3 0 1 0 -6 0M280.4 290.1a3 3 0 1 0 6 0a3 3 0 1 0 -6 0M279.1 291.6a3 3 0 1 0 6 0a3 3 0 1 0 -6 0M276.5 294.5a3 3 0 1 0 6 0a3 3 0 1 0 -6 0M274.8 296.5a3 3 0 1 0 6 0a3 3 0 1 0 -6 0M274.8 296.8a3 3 0 1 0 6 0a3 3 0 1 0 -6 0M272.4 299.5a3 3 0 1 0 6 0a3 3 0 1 0 -6 0M270.5 302.9a3 3 0 1 0 6 0a3 3 0 1 0 -6 0M270.2 303.6a3 3 0 1 0 6 0a3 3 0 1 0 -6 0M268.7 305.9a3 3 0 1 0 6 0a3 3 0 1 0 -6 0M265.5 308.8a3 3 0 1 0 6 0a3 3 0 1 0 -6 0M264.1 310.2a3 3 0 1 0 6 0a3 3 0 1 0 -6 0M263.2 312.6a3 3 0 1 0 6 0a3 3 0 1 0 -6 0M262.5 314.2a3 3 0 1 0 6 0a3 3 0 1 0 -6 0M259.2 316.4a3 3 0 1 0 6 0a3 3 0 1 0 -6 0M258 318.3a3 3 0 1 0 6 0a3 3 0 1 0 -6 0M256.6 320.5a3 3 0 1 0 6 0a3 3 0 1 0 -6 0M255.3 322.8a3 3 0 1 0 6 0a3 3 0 1 0 -6 0M254.2 323.6a3 3 0 1 0 6 0a3 3 0 1 0 -6 0M253 325.2a3 3 0 1 0 6 0a3 3 0 1 0 -6 0M250.4 327.6a3 3 0 1 0 6 0a3 3 0 1 0 -6 0M248.5 330.6a3 3 0 1 0 6 0a3 3 0 1 0 -6 0M248.8 331.4a3 3 0 1 0 6 0a3 3 0 1 0 -6 0M246.2 335.2a3 3 0 1 0 6 0a3 3 0 1 0 -6 0M243.9 336a3 3 0 1 0 6 0a3 3 0 1 0 -6 0M243.1 337.7a3 3 0 1 0 6 0a3 3 0 1 0 -6 0M241 340.2a3 3 0 1 0 6 0a3 3 0 1 0 -6 0M241 341.9a3 3 0 1 0 6 0a3 3 0 1 0 -6 0M239.2 343.6a3 3 0 1 0 6 0a3 3 0 1 0 -6 0M236.7 346.2a3 3 0 1 0 6 0a3 3 0 1 0 -6 0M235.1 348a3 3 0 1 0 6 0a3 3 0 1 0 -6 0M235 349.4a3 3 0 1 0 6 0a3 3 0 1 0 -6 0M232.9 352a3 3 0 1 0 6 0a3 3 0 1 0 -6 0M230.3 353.5a3 3 0 1 0 6 0a3 3 0 1 0 -6 0M229.3 355.3a3 3 0 1 0 6 0a3 3 0 1 0 -6 0M228.5 357.3a3 3 0 1 0 6 0a3 3 0 1 0 -6 0M225.9 360.4a3 3 0 1 0 6 0a3 3 0 1 0 -6 0M224.7 360.8a3 3 0 1 0 6 0a3 3 0 1 0 -6 0M223 365a3 3 0 1 0 6 0a3 3 0 1 0 -6 0M221.5 365.1a3 3 0 1 0 6 0a3 3 0 1 0 -6 0M219.9 368.5a3 3 0 1 0 6 0a3 3 0 1 0 -6 0M218.4 369a3 3 0 1 0 6 0a3 3 0 1 0 -6 0M216.4 372.2a3 3 0 1 0 6 0a3 3 0 1 0 -6 0M216.1 373.6a3 3 0 1 0 6 0a3 3 0 1 0 -6 0M213 377a3 3 0 1 0 6 0a3 3 0 1 0 -6 0M212.3 378.3a3 3 0 1 0 6 0a3 3 0 1 0 -6 0M210.9 378.7a3 3 0 1 0 6 0a3 3 0 1 0 -6 0M208.4 383a3 3 0 1 0 6 0a3 3 0 1 0 -6 0M207.6 383a3 3 0 1 0 6 0a3 3 0 1 0 -6 0M206 385.7a3 3 0 1 0 6 0a3 3 0 1 0 -6 0M204.3 387.2a3 3 0 1 0 6 0a3 3 0 1 0 -6 0M202.6 389.5a3 3 0 1 0 6 0a3 3 0 1 0 -6 0M201.9 391.6a3 3 0 1 0 6 0a3 3 0 1 0 -6 0M199.6 393.6a3 3 0 1 0 6 0a3 3 0 1 0 -6 0M198 397.1a3 3 0 1 0 6 0a3 3 0 1 0 -6 0M196.3 398.9a3 3 0 1 0 6 0a3 3 0 1 0 -6 0M195.5 400.2a3 3 0 1 0 6 0a3 3 0 1 0 -6 0M193.7 402.8a3 3 0 1 0 6 0a3 3 0 1 0 -6 0M192.4 404.2a3 3 0 1 0 6 0a3 3 0 1 0 -6 0M191.1 406.2a3 3 0 1 0 6 0a3 3 0 1 0 -6 0M189.4 407.8a3 3 0 1 0 6 0a3 3 0 1 0 -6 0M188.1 410.5a3 3 0 1 0 6 0a3 3 0 1 0 -6 0M185.8 412.5a3 3 0 1 0 6 0a3 3 0 1 0 -6 0M183.8 414.7a3 3 0 1 0 6 0a3 3 0 1 0 -6 0M182.8 417a3 3 0 1 0 6 0a3 3 0 1 0 -6 0M182.1 417.2a3 3 0 1 0 6 0a3 3 0 1 0 -6 0M181.6 419.5a3 3 0 1 0 6 0a3 3 0 1 0 -6 0M179.3 421.9a3 3 0 1 0 6 0a3 3 0 1 0 -6 0M178.5 424.2a3 3 0 1 0 6 0a3 3 0 1 0 -6 0M176.9 426.6a3 3 0 1 0 6 0a3 3 0 1 0 -6 0M175 429.1a3 3 0 1 0 6 0a3 3 0 1 0 -6 0M174.8 428.9a3 3 0 1 0 6 0a3 3 0 1 0 -6 0M173.6 431.1a3 3 0 1 0 6 0a3 3 0 1 0 -6 0M171.7 434.3a3 3 0 1 0 6 0a3 3 0 1 0 -6 0M169.6 436.1a3 3 0 1 0 6 0a3 3 0 1 0 -6 0M167.5 438.3a3 3 0 1 0 6 0a3 3 0 1 0 -6 0M166.7 440.9a3 3 0 1 0 6 0a3 3 0 1 0 -6 0M166.4 441.7a3 3 0 1 0 6 0a3 3 0 1 0 -6 0M164.5 445.3a3 3 0 1 0 6 0a3 3 0 1 0 -6 0M163.9 445.4a3 3 0 1 0 6 0a3 3 0 1 0 -6 0M162.2 447.6a3 3 0 1 0 6 0a3 3 0 1 0 -6 0M160.8 451.3a3 3 0 1 0 6 0a3 3 0 1 0 -6 0M160 451.1a3 3 0 1 0 6 0a3 3 0 1 0 -6 0M159.1 454.3a3 3 0 1 0 6 0a3 3 0 1 0 -6 0M157.4 456a3 3 0 1 0 6 0a3 3 0 1 0 -6 0M156.8 457.6a3 3 0 1 0 6 0a3 3 0 1 0 -6 0M155.5 461.3a3 3 0 1 0 6 0a3 3 0 1 0 -6 0M154.6 463.4a3 3 0 1 0 6 0a3 3 0 1 0 -6 0M153.8 464a3 3 0 1 0 6 0a3 3 0 1 0 -6 0M128.8 465.7a3 3 0 1 0 6 0a3 3 0 1 0 -6 0M129.1 466a3 3 0 1 0 6 0a3 3 0 1 0 -6 0M130.6 463.4a3 3 0 1 0 6 0a3 3 0 1 0 -6 0M131.3 461.6a3 3 0 1 0 6 0a3 3 0 1 0 -6 0M133.9 458.1a3 3 0 1 0 6 0a3 3 0 1 0 -6 0M135.3 457.5a3 3 0 1 0 6 0a3 3 0 1 0 -6 0M135.9 456.1a3 3 0 1 0 6 0a3 3 0 1 0 -6 0M139.2 453.3a3 3 0 1 0 6 0a3 3 0 1 0 -6 0M142.1 450.9a3 3 0 1 0 6 0a3 3 0 1 0 -6 0M144 448.4a3 3 0 1 0 6 0a3 3 0 1 0 -6 0M144.7 447.3a3 3 0 1 0 6 0a3 3 0 1 0 -6 0M146.2 445.9a3 3 0 1 0 6 0a3 3 0 1 0 -6 0M149.7 444.5a3 3 0 1 0 6 0a3 3 0 1 0 -6 0M151.7 441.8a3 3 0 1 0 6 0a3 3 0 1 0 -6 0M154.7 439.1a3 3 0 1 0 6 0a3 3 0 1 0 -6 0M155 438a3 3 0 1 0 6 0a3 3 0 1 0 -6 0M158.5 435.6a3 3 0 1 0 6 0a3 3 0 1 0 -6 0M160.4 432.2a3 3 0 1 0 6 0a3 3 0 1 0 -6 0M162.4 430.6a3 3 0 1 0 6 0a3 3 0 1 0 -6 0M163.4 428.7a3 3 0 1 0 6 0a3 3 0 1 0 -6 0M164.8 427.5a3 3 0 1 0 6 0a3 3 0 1 0 -6 0M166.2 426.3a3 3 0 1 0 6 0a3 3 0 1 0 -6 0M168.2 423.4a3 3 0 1 0 6 0a3 3 0 1 0 -6 0M168.8 422.2a3 3 0 1 0 6 0a3 3 0 1 0 -6 0M171.5 418.9a3 3 0 1 0 6 0a3 3 0 1 0 -6 0M173.6 416.6a3 3 0 1 0 6 0a3 3 0 1 0 -6 0M174.5 415.8a3 3 0 1 0 6 0a3 3 0 1 0 -6 0M176.1 413.8a3 3 0 1 0 6 0a3 3 0 1 0 -6 0M177.1 412a3 3 0 1 0 6 0a3 3 0 1 0 -6 0M179.4 409.2a3 3 0 1 0 6 0a3 3 0 1 0 -6 0M179.7 407.6a3 3 0 1 0 6 0a3 3 0 1 0 -6 0M180.8 405.9a3 3 0 1 0 6 0a3 3 0 1 0 -6 0M183 403.1a3 3 0 1 0 6 0a3 3 0 1 0 -6 0M186 400.5a3 3 0 1 0 6 0a3 3 0 1 0 -6 0M187.1 398.9a3 3 0 1 0 6 0a3 3 0 1 0 -6 0M187.9 396.9a3 3 0 1 0 6 0a3 3 0 1 0 -6 0M189.5 395.9a3 3 0 1 0 6 0a3 3 0 1 0 -6 0M192.7 393.1a3 3 0 1 0 6 0a3 3 0 1 0 -6 0M194 391.3a3 3 0 1 0 6 0a3 3 0 1 0 -6 0M195 390.2a3 3 0 1 0 6 0a3 3 0 1 0 -6 0M196.9 388.1a3 3 0 1 0 6 0a3 3 0 1 0 -6 0M199.7 385a3 3 0 1 0 6 0a3 3 0 1 0 -6 0M199.3 383.5a3 3 0 1 0 6 0a3 3 0 1 0 -6 0M202.2 380.7a3 3 0 1 0 6 0a3 3 0 1 0 -6 0M202.6 380a3 3 0 1 0 6 0a3 3 0 1 0 -6 0M204.3 378.1a3 3 0 1 0 6 0a3 3 0 1 0 -6 0M208 375.4a3 3 0 1 0 6 0a3 3 0 1 0 -6 0M208.7 374.5a3 3 0 1 0 6 0a3 3 0 1 0 -6 0M209.8 371.9a3 3 0 1 0 6 0a3 3 0 1 0 -6 0M211.9 369.6a3 3 0 1 0 6 0a3 3 0 1 0 -6 0M213.1 367.4a3 3 0 1 0 6 0a3 3 0 1 0 -6 0M214.6 365.6a3 3 0 1 0 6 0a3 3 0 1 0 -6 0M217.3 362.7a3 3 0 1 0 6 0a3 3 0 1 0 -6 0M219.1 360.7a3 3 0 1 0 6 0a3 3 0 1 0 -6 0M220.5 360.3a3 3 0 1 0 6 0a3 3 0 1 0 -6 0M221 357.9a3 3 0 1 0 6 0a3 3 0 1 0 -6 0M223.8 355.7a3 3 0 1 0 6 0a3 3 0 1 0 -6 0M226.1 352.9a3 3 0 1 0 6 0a3 3 0 1 0 -6 0M226.7 350.8a3 3 0 1 0 6 0a3 3 0 1 0 -6 0M229.3 348.9a3 3 0 1 0 6 0a3 3 0 1 0 -6 0M229.6 348.2a3 3 0 1 0 6 0a3 3 0 1 0 -6 0M230.7 345.7a3 3 0 1 0 6 0a3 3 0 1 0 -6 0M232.7 344.2a3 3 0 1 0 6 0a3 3 0 1 0 -6 0M234.3 341.7a3 3 0 1 0 6 0a3 3 0 1 0 -6 0M236.2 338.4a3 3 0 1 0 6 0a3 3 0 1 0 -6 0M237.3 337.7a3 3 0 1 0 6 0a3 3 0 1 0 -6 0M240 335a3 3 0 1 0 6 0a3 3 0 1 0 -6 0M240.4 333.7a3 3 0 1 0 6 0a3 3 0 1 0 -6 0M242 331.5a3 3 0 1 0 6 0a3 3 0 1 0 -6 0M245.1 329a3 3 0 1 0 6 0a3 3 0 1 0 -6 0M246.9 326.6a3 3 0 1 0 6 0a3 3 0 1 0 -6 0M247.4 325.8a3 3 0 1 0 6 0a3 3 0 1 0 -6 0M248.8 322.7a3 3 0 1 0 6 0a3 3 0 1 0 -6 0M250.3 320.9a3 3 0 1 0 6 0a3 3 0 1 0 -6 0M252.8 318.5a3 3 0 1 0 6 0a3 3 0 1 0 -6 0M253.2 318a3 3 0 1 0 6 0a3 3 0 1 0 -6 0M255.4 315.7a3 3 0 1 0 6 0a3 3 0 1 0 -6 0M257 312.4a3 3 0 1 0 6 0a3 3 0 1 0 -6 0M258.3 311.5a3 3 0 1 0 6 0a3 3 0 1 0 -6 0M260.1 308.7a3 3 0 1 0 6 0a3 3 0 1 0 -6 0M261.9 307.5a3 3 0 1 0 6 0a3 3 0 1 0 -6 0M263 305.5a3 3 0 1 0 6 0a3 3 0 1 0 -6 0M265.7 302.5a3 3 0 1 0 6 0a3 3 0 1 0 -6 0M266.5 301.5a3 3 0 1 0 6 0a3 3 0 1 0 -6 0M267.8 300.6a3 3 0 1 0 6 0a3 3 0 1 0 -6 0M269 298a3 3 0 1 0 6 0a3 3 0 1 0 -6 0M270.4 295.3a3 3 0 1 0 6 0a3 3 0 1 0 -6 0M273.1 292.7a3 3 0 1 0 6 0a3 3 0 1 0 -6 0M273.8 291.1a3 3 0 1 0 6 0a3 3 0 1 0 -6 0M275 290a3 3 0 1 0 6 0a3 3 0 1 0 -6 0M276.5 287.7a3 3 0 1 0 6 0a3 3 0 1 0 -6 0M278.6 286a3 3 0 1 0 6 0a3 3 0 1 0 -6 0M279.8 283.7a3 3 0 1 0 6 0a3 3 0 1 0 -6 0M282 281.3a3 3 0 1 0 6 0a3 3 0 1 0 -6 0M284 280.2a3 3 0 1 0 6 0a3 3 0 1 0 -6 0M285.3 278a3 3 0 1 0 6 0a3 3 0 1 0 -6 0M287.6 274.4a3 3 0 1 0 6 0a3 3 0 1 0 -6 0M288.5 272.9a3 3 0 1 0 6 0a3 3 0 1 0 -6 0M290.8 271a3 3 0 1 0 6 0a3 3 0 1 0 -6 0M291.8 270.3a3 3 0 1 0 6 0a3 3 0 1 0 -6 0M293.7 266.5a3 3 0 1 0 6 0a3 3 0 1 0 -6 0M294.5 265.7a3 3 0 1 0 6 0a3 3 0 1 0 -6 0M296.4 264.3a3 3 0 1 0 6 0a3 3 0 1 0 -6 0M297.9 262.1a3 3 0 1 0 6 0a3 3 0 1 0 -6 0M299.1 259.8a3 3 0 1 0 6 0a3 3 0 1 0 -6 0M301.9 256.6a3 3 0 1 0 6 0a3 3 0 1 0 -6 0M303.4 254.8a3 3 0 1 0 6 0a3 3 0 1 0 -6 0M305 252.2a3 3 0 1 0 6 0a3 3 0 1 0 -6 0M306.3 250.4a3 3 0 1 0 6 0a3 3 0 1 0 -6 0M307.2 249.4a3 3 0 1 0 6 0a3 3 0 1 0 -6 0M308.3 247.8a3 3 0 1 0 6 0a3 3 0 1 0 -6 0M310.8 245.6a3 3 0 1 0 6 0a3 3 0 1 0 -6 0M312.5 242.5a3 3 0 1 0 6 0a3 3 0 1 0 -6 0M315 241.1a3 3 0 1 0 6 0a3 3 0 1 0 -6 0M316.3 239a3 3 0 1 0 6 0a3 3 0 1 0 -6 0M317.2 236.9a3 3 0 1 0 6 0a3 3 0 1 0 -6 0M318.1 236a3 3 0 1 0 6 0a3 3 0 1 0 -6 0M320.5 232.5a3 3 0 1 0 6 0a3 3 0 1 0 -6 0M322.7 230.9a3 3 0 1 0 6 0a3 3 0 1 0 -6 0M324.3 228.6a3 3 0 1 0 6 0a3 3 0 1 0 -6 0M324.6 226.6a3 3 0 1 0 6 0a3 3 0 1 0 -6 0M326.5 225.1a3 3 0 1 0 6 0a3 3 0 1 0 -6 0M328.7 222.9a3 3 0 1 0 6 0a3 3 0 1 0 -6 0M328.9 221.7a3 3 0 1 0 6 0a3 3 0 1 0 -6 0M330.3 219.9a3 3 0 1 0 6 0a3 3 0 1 0 -6 0M332.8 216.4a3 3 0 1 0 6 0a3 3 0 1 0 -6 0M333.8 216.3a3 3 0 1 0 6 0a3 3 0 1 0 -6 0M335.6 213.2a3 3 0 1 0 6 0a3 3 0 1 0 -6 0M337.8 210.2a3 3 0 1 0 6 0a3 3 0 1 0 -6 0M339.5 208.4a3 3 0 1 0 6 0a3 3 0 1 0 -6 0M340.6 206.6a3 3 0 1 0 6 0a3 3 0 1 0 -6 0M341.7 204.8a3 3 0 1 0 6 0a3 3 0 1 0 -6 0M344.1 202.6a3 3 0 1 0 6 0a3 3 0 1 0 -6 0M345.4 201.8a3 3 0 1 0 6 0a3 3 0 1 0 -6 0M346.1 199.7a3 3 0 1 0 6 0a3 3 0 1 0 -6 0M349.2 196.5a3 3 0 1 0 6 0a3 3 0 1 0 -6 0M349.9 194a3 3 0 1 0 6 0a3 3 0 1 0 -6 0M351.5 193.6a3 3 0 1 0 6 0a3 3 0 1 0 -6 0M352.3 192.1a3 3 0 1 0 6 0a3 3 0 1 0 -6 0M354.7 188.6a3 3 0 1 0 6 0a3 3 0 1 0 -6 0M356.7 187a3 3 0 1 0 6 0a3 3 0 1 0 -6 0M358.7 184.9a3 3 0 1 0 6 0a3 3 0 1 0 -6 0M359.2 183.7a3 3 0 1 0 6 0a3 3 0 1 0 -6 0M360 181.7a3 3 0 1 0 6 0a3 3 0 1 0 -6 0M362.2 178.5a3 3 0 1 0 6 0a3 3 0 1 0 -6 0M363.9 177.4a3 3 0 1 0 6 0a3 3 0 1 0 -6 0M366.5 174.8a3 3 0 1 0 6 0a3 3 0 1 0 -6 0M366.9 172.4a3 3 0 1 0 6 0a3 3 0 1 0 -6 0M368.7 171.4a3 3 0 1 0 6 0a3 3 0 1 0 -6 0M370.1 169.9a3 3 0 1 0 6 0a3 3 0 1 0 -6 0M370.7 168.2a3 3 0 1 0 6 0a3 3 0 1 0 -6 0M374 164.8a3 3 0 1 0 6 0a3 3 0 1 0 -6 0M375.2 162.4a3 3 0 1 0 6 0a3 3 0 1 0 -6 0M376.5 161.2a3 3 0 1 0 6 0a3 3 0 1 0 -6 0M377.4 158.8a3 3 0 1 0 6 0a3 3 0 1 0 -6 0M378.9 157.4a3 3 0 1 0 6 0a3 3 0 1 0 -6 0M379.4 155.6a3 3 0 1 0 6 0a3 3 0 1 0 -6 0M382.7 153a3 3 0 1 0 6 0a3 3 0 1 0 -6 0M383.3 151.7a3 3 0 1 0 6 0a3 3 0 1 0 -6 0M385.8 149.4a3 3 0 1 0 6 0a3 3 0 1 0 -6 0M387.1 147.3a3 3 0 1 0 6 0a3 3 0 1 0 -6 0M388.8 145a3 3 0 1 0 6 0a3 3 0 1 0 -6 0M390.8 142.9a3 3 0 1 0 6 0a3 3 0 1 0 -6 0M392 140.3a3 3 0 1 0 6 0a3 3 0 1 0 -6 0M392.5 140.4a3 3 0 1 0 6 0a3 3 0 1 0 -6 0M393.8 137.9a3 3 0 1 0 6 0a3 3 0 1 0 -6 0M396.6 134.1a3 3 0 1 0 6 0a3 3 0 1 0 -6 0M396.9 133.5a3 3 0 1 0 6 0a3 3 0 1 0 -6 0M399.1 131.5a3 3 0 1 0 6 0a3 3 0 1 0 -6 0M399.9 129.7a3 3 0 1 0 6 0a3 3 0 1 0 -6 0M401.6 127.7a3 3 0 1 0 6 0a3 3 0 1 0 -6 0M403.3 125.9a3 3 0 1 0 6 0a3 3 0 1 0 -6 0M406.2 122.3a3 3 0 1 0 6 0a3 3 0 1 0 -6 0M406.7 121.1a3 3 0 1 0 6 0a3 3 0 1 0 -6 0M407.7 119.7a3 3 0 1 0 6 0a3 3 0 1 0 -6 0M411.1 117.3a3 3 0 1 0 6 0a3 3 0 1 0 -6 0M411.5 115.5a3 3 0 1 0 6 0a3 3 0 1 0 -6 0M413.7 112.8a3 3 0 1 0 6 0a3 3 0 1 0 -6 0M415.8 110.6a3 3 0 1 0 6 0a3 3 0 1 0 -6 0M417.5 108.8a3 3 0 1 0 6 0a3 3 0 1 0 -6 0M419 107.4a3 3 0 1 0 6 0a3 3 0 1 0 -6 0M419.6 105.3a3 3 0 1 0 6 0a3 3 0 1 0 -6 0M422.1 103.2a3 3 0 1 0 6 0a3 3 0 1 0 -6 0M422.5 101.9a3 3 0 1 0 6 0a3 3 0 1 0 -6 0M425.4 98.8a3 3 0 1 0 6 0a3 3 0 1 0 -6 0M426.6 98a3 3 0 1 0 6 0a3 3 0 1 0 -6 0M427.5 95.2a3 3 0 1 0 6 0a3 3 0 1 0 -6 0M430.5 92.7a3 3 0 1 0 6 0a3 3 0 1 0 -6 0M430.8 91.6a3 3 0 1 0 6 0a3 3 0 1 0 -6 0M432.9 89.9a3 3 0 1 0 6 0a3 3 0 1 0 -6 0M434.8 87.6a3 3 0 1 0 6 0a3 3 0 1 0 -6 0M435.6 85.2a3 3 0 1 0 6 0a3 3 0 1 0 -6 0M437.8 83.3a3 3 0 1 0 6 0a3 3 0 1 0 -6 0M438.6 81.4a3 3 0 1 0 6 0a3 3 0 1 0 -6 0M441.1 78.4a3 3 0 1 0 6 0a3 3 0 1 0 -6 0M442 77.8a3 3 0 1 0 6 0a3 3 0 1 0 -6 0M443.2 74.4a3 3 0 1 0 6 0a3 3 0 1 0 -6 0M444.6 74.3a3 3 0 1 0 6 0a3 3 0 1 0 -6 0M445.5 71.4a3 3 0 1 0 6 0a3 3 0 1 0 -6 0M448.4 68.9a3 3 0 1 0 6 0a3 3 0 1 0 -6 0M449.9 66.3a3 3 0 1 0 6 0a3 3 0 1 0 -6 0M450.6 66.3a3 3 0 1 0 6 0a3 3 0 1 0 -6 0M451.9 64a3 3 0 1 0 6 0a3 3 0 1 0 -6 0M452.9 61.1a3 3 0 1 0 6 0a3 3 0 1 0 -6 0M455.4 58.7a3 3 0 1 0 6 0a3 3 0 1 0 -6 0M455.2 57.7a3 3 0 1 0 6 0a3 3 0 1 0 -6 0M457.3 56.3a3 3 0 1 0 6 0a3 3 0 1 0 -6 0M458.2 53.6a3 3 0 1 0 6 0a3 3 0 1 0 -6 0M460.9 51a3 3 0 1 0 6 0a3 3 0 1 0 -6 0M462.2 49.8a3 3 0 1 0 6 0a3 3 0 1 0 -6 0M462.8 47.1a3 3 0 1 0 6 0a3 3 0 1 0 -6 0M465.8 44.6a3 3 0 1 0 6 0a3 3 0 1 0 -6 0M465.1 43.5a3 3 0 1 0 6 0a3 3 0 1 0 -6 0M467.4 41.6a3 3 0 1 0 6 0a3 3 0 1 0 -6 0M468.9 39.2a3 3 0 1 0 6 0a3 3 0 1 0 -6 0M470.3 37.5a3 3 0 1 0 6 0a3 3 0 1 0 -6 0M471.8 35.5a3 3 0 1 0 6 0a3 3 0 1 0 -6 0M472.5 33.4a3 3 0 1 0 6 0a3 3 0 1 0 -6 0M475.2 30.7a3 3 0 1 0 6 0a3 3 0 1 0 -6 0M474.7 29.6a3 3 0 1 0 6 0a3 3 0 1 0 -6 0M476.6 26.3a3 3 0 1 0 6 0a3 3 0 1 0 -6 0M478.7 24.6a3 3 0 1 0 6 0a3 3 0 1 0 -6 0M479.9 22.5a3 3 0 1 0 6 0a3 3 0 1 0 -6 0M481.4 21.2a3 3 0 1 0 6 0a3 3 0 1 0 -6 0M483.5 18.6a3 3 0 1 0 6 0a3 3 0 1 0 -6 0M483.7 16.8a3 3 0 1 0 6 0a3 3 0 1 0 -6 0M485.3 15.9a3 3 0 1 0 6 0a3 3 0 1 0 -6 0"/>
<line x1="499.6" y1="12.2" x2="144" y2="466" stroke="#000" stroke-width="2.8" stroke-dasharray="5.3 3.3"/>
<rect x="55" y="12.4" width="622" height="453.8" fill="none" stroke="#262626" stroke-width="1.2"/>
<text x="136.8" y="491.1" font-family="Liberation Sans, Arial, sans-serif" font-size="23.5" fill="#141414">0</text>
<text x="314.6" y="491.3" font-family="Liberation Sans, Arial, sans-serif" font-size="23.5" fill="#141414">2</text>
<text x="493.3" y="491.5" font-family="Liberation Sans, Arial, sans-serif" font-size="23.5" fill="#141414">4</text>
<text x="670.6" y="491.1" font-family="Liberation Sans, Arial, sans-serif" font-size="23.5" fill="#141414">6</text>
<text x="38.5" y="474.6" font-family="Liberation Sans, Arial, sans-serif" font-size="23.5" fill="#141414">0</text>
<text x="38.7" y="247.7" font-family="Liberation Sans, Arial, sans-serif" font-size="23.5" fill="#141414">2</text>
<text x="38.2" y="20.8" font-family="Liberation Sans, Arial, sans-serif" font-size="23.5" fill="#141414">4</text>
<text transform="translate(349.8 518) scale(1.075 1)" font-family="Liberation Serif, Times New Roman, serif" font-size="41.1" fill="#141414">λ</text>
<text transform="translate(373.6 522.3) scale(1.155 1)" font-family="DejaVu Serif, serif" font-style="italic" font-size="23.7" fill="#141414">ν</text>
<g transform="rotate(-90)"><text transform="translate(-255.5 27.3) scale(1.097 1)" font-family="Liberation Serif, Times New Roman, serif" font-style="italic" font-size="40.2" fill="#141414">α</text><text transform="translate(-230 34.6) scale(1.137 1)" font-family="DejaVu Serif, serif" font-style="italic" font-size="25.7" fill="#141414">ν</text><text transform="translate(-228.2 22.2) scale(0.900 1)" font-family="DejaVu Sans, sans-serif" font-size="27.8" fill="#141414">*</text></g>
<line x1="2.4" y1="236.9" x2="2.4" y2="251.1" stroke="#141414" stroke-width="1.4"/>
<rect x="59.6" y="17.6" width="115" height="89.6" fill="#fff" stroke="#262626" stroke-width="1.2"/>
<circle cx="80.3" cy="33.3" r="3.1" fill="#ff00ff"/>
<text x="99.1" y="42.3" font-family="Liberation Sans, Arial, sans-serif" font-size="24.3" fill="#141414">W=2</text>
<circle cx="80.3" cy="62" r="3.1" fill="#0000ff"/>
<text clip-path="url(#c0)" x="99.1" y="70.9" font-family="Liberation Sans, Arial, sans-serif" font-size="24.3" fill="#141414">W=1</text>
<circle cx="80.3" cy="90.7" r="3.1" fill="#00ff00"/>
<text x="99.1" y="99.3" font-family="Liberation Sans, Arial, sans-serif" font-size="24.3" fill="#141414">W=0.5</text>
<rect x="444.7" y="225.5" width="208.7" height="189.10000000000002" fill="#fff" stroke="#262626" stroke-width="1.2"/>
<path fill="#ff00ff" d="M481 225 L527 225 L527 310 L512 316 L501 314 L494 306 L491 292 L489 280 L487.5 265 L485 250 L482 238Z"/><path fill="#ff00ff" d="M519.7 226.9a3 3 0 1 0 6 0a3 3 0 1 0 -6 0M520 229.8a3 3 0 1 0 6 0a3 3 0 1 0 -6 0M519.8 230.6a3 3 0 1 0 6 0a3 3 0 1 0 -6 0M520.1 232.9a3 3 0 1 0 6 0a3 3 0 1 0 -6 0M519.7 235.1a3 3 0 1 0 6 0a3 3 0 1 0 -6 0M520.7 238.3a3 3 0 1 0 6 0a3 3 0 1 0 -6 0M521.1 241.8a3 3 0 1 0 6 0a3 3 0 1 0 -6 0M519.8 244.3a3 3 0 1 0 6 0a3 3 0 1 0 -6 0M519.8 244.8a3 3 0 1 0 6 0a3 3 0 1 0 -6 0M519.6 248.2a3 3 0 1 0 6 0a3 3 0 1 0 -6 0M520.4 250.7a3 3 0 1 0 6 0a3 3 0 1 0 -6 0M521 254a3 3 0 1 0 6 0a3 3 0 1 0 -6 0M521 256a3 3 0 1 0 6 0a3 3 0 1 0 -6 0M521 257.2a3 3 0 1 0 6 0a3 3 0 1 0 -6 0M520.4 261.1a3 3 0 1 0 6 0a3 3 0 1 0 -6 0M520.7 263.2a3 3 0 1 0 6 0a3 3 0 1 0 -6 0M520 265.6a3 3 0 1 0 6 0a3 3 0 1 0 -6 0M520.3 266.5a3 3 0 1 0 6 0a3 3 0 1 0 -6 0M520.8 270.5a3 3 0 1 0 6 0a3 3 0 1 0 -6 0M520.7 272.7a3 3 0 1 0 6 0a3 3 0 1 0 -6 0M519.5 274.5a3 3 0 1 0 6 0a3 3 0 1 0 -6 0M519.4 278.3a3 3 0 1 0 6 0a3 3 0 1 0 -6 0M520.2 279.5a3 3 0 1 0 6 0a3 3 0 1 0 -6 0M519.8 282.8a3 3 0 1 0 6 0a3 3 0 1 0 -6 0M519.6 284.4a3 3 0 1 0 6 0a3 3 0 1 0 -6 0M519.5 286.7a3 3 0 1 0 6 0a3 3 0 1 0 -6 0M521 289.3a3 3 0 1 0 6 0a3 3 0 1 0 -6 0M520.9 292.4a3 3 0 1 0 6 0a3 3 0 1 0 -6 0M521.1 294.7a3 3 0 1 0 6 0a3 3 0 1 0 -6 0M520.2 297.8a3 3 0 1 0 6 0a3 3 0 1 0 -6 0M521 299.7a3 3 0 1 0 6 0a3 3 0 1 0 -6 0M520.5 301.8a3 3 0 1 0 6 0a3 3 0 1 0 -6 0M519.7 303.3a3 3 0 1 0 6 0a3 3 0 1 0 -6 0M520.3 305.2a3 3 0 1 0 6 0a3 3 0 1 0 -6 0M519.7 307.8a3 3 0 1 0 6 0a3 3 0 1 0 -6 0M523.6 227.9a3 3 0 1 0 6 0a3 3 0 1 0 -6 0M522.6 264.9a3 3 0 1 0 6 0a3 3 0 1 0 -6 0M524.1 287a3 3 0 1 0 6 0a3 3 0 1 0 -6 0M524.8 304.3a3 3 0 1 0 6 0a3 3 0 1 0 -6 0M522.2 236.6a3 3 0 1 0 6 0a3 3 0 1 0 -6 0M524.8 235.2a3 3 0 1 0 6 0a3 3 0 1 0 -6 0M524.2 267.5a3 3 0 1 0 6 0a3 3 0 1 0 -6 0M521.8 238.9a3 3 0 1 0 6 0a3 3 0 1 0 -6 0M522.4 265.3a3 3 0 1 0 6 0a3 3 0 1 0 -6 0M521.8 246.3a3 3 0 1 0 6 0a3 3 0 1 0 -6 0M521.9 243.8a3 3 0 1 0 6 0a3 3 0 1 0 -6 0M521.6 277.1a3 3 0 1 0 6 0a3 3 0 1 0 -6 0M523 290.5a3 3 0 1 0 6 0a3 3 0 1 0 -6 0M522.1 270.3a3 3 0 1 0 6 0a3 3 0 1 0 -6 0M525.1 262.7a3 3 0 1 0 6 0a3 3 0 1 0 -6 0M522.3 302.7a3 3 0 1 0 6 0a3 3 0 1 0 -6 0M522.5 283a3 3 0 1 0 6 0a3 3 0 1 0 -6 0M523.6 244.7a3 3 0 1 0 6 0a3 3 0 1 0 -6 0M521.7 294.9a3 3 0 1 0 6 0a3 3 0 1 0 -6 0M524.9 303.5a3 3 0 1 0 6 0a3 3 0 1 0 -6 0M523.3 283.1a3 3 0 1 0 6 0a3 3 0 1 0 -6 0M521.8 307.5a3 3 0 1 0 6 0a3 3 0 1 0 -6 0M519.8 307.8a3 3 0 1 0 6 0a3 3 0 1 0 -6 0M516.5 309.4a3 3 0 1 0 6 0a3 3 0 1 0 -6 0M514.2 309.8a3 3 0 1 0 6 0a3 3 0 1 0 -6 0M510.7 311.2a3 3 0 1 0 6 0a3 3 0 1 0 -6 0M509.5 311.1a3 3 0 1 0 6 0a3 3 0 1 0 -6 0M508.7 313.5a3 3 0 1 0 6 0a3 3 0 1 0 -6 0M521.6 310.1a3 3 0 1 0 6 0a3 3 0 1 0 -6 0M509.5 315.8a3 3 0 1 0 6 0a3 3 0 1 0 -6 0M515.9 313.5a3 3 0 1 0 6 0a3 3 0 1 0 -6 0M509.5 312.9a3 3 0 1 0 6 0a3 3 0 1 0 -6 0M506.5 312.2a3 3 0 1 0 6 0a3 3 0 1 0 -6 0M502.5 310.9a3 3 0 1 0 6 0a3 3 0 1 0 -6 0M498.9 310.1a3 3 0 1 0 6 0a3 3 0 1 0 -6 0M498.7 313.1a3 3 0 1 0 6 0a3 3 0 1 0 -6 0M503.4 313a3 3 0 1 0 6 0a3 3 0 1 0 -6 0M501.6 314.7a3 3 0 1 0 6 0a3 3 0 1 0 -6 0M499.5 310.6a3 3 0 1 0 6 0a3 3 0 1 0 -6 0M497 307.9a3 3 0 1 0 6 0a3 3 0 1 0 -6 0M495 306.1a3 3 0 1 0 6 0a3 3 0 1 0 -6 0M495.6 305.5a3 3 0 1 0 6 0a3 3 0 1 0 -6 0M493.7 310.6a3 3 0 1 0 6 0a3 3 0 1 0 -6 0M493 306.5a3 3 0 1 0 6 0a3 3 0 1 0 -6 0M494.9 307.1a3 3 0 1 0 6 0a3 3 0 1 0 -6 0M494.3 302.4a3 3 0 1 0 6 0a3 3 0 1 0 -6 0M492.7 300.6a3 3 0 1 0 6 0a3 3 0 1 0 -6 0M493.3 299.5a3 3 0 1 0 6 0a3 3 0 1 0 -6 0M491.9 294.2a3 3 0 1 0 6 0a3 3 0 1 0 -6 0M491 292.6a3 3 0 1 0 6 0a3 3 0 1 0 -6 0M489.1 293.2a3 3 0 1 0 6 0a3 3 0 1 0 -6 0M487.1 294.8a3 3 0 1 0 6 0a3 3 0 1 0 -6 0M489.6 303.3a3 3 0 1 0 6 0a3 3 0 1 0 -6 0M487.4 294.6a3 3 0 1 0 6 0a3 3 0 1 0 -6 0M490.9 289.2a3 3 0 1 0 6 0a3 3 0 1 0 -6 0M490.9 286.9a3 3 0 1 0 6 0a3 3 0 1 0 -6 0M491.5 285.7a3 3 0 1 0 6 0a3 3 0 1 0 -6 0M490.6 283.2a3 3 0 1 0 6 0a3 3 0 1 0 -6 0M490.6 281.5a3 3 0 1 0 6 0a3 3 0 1 0 -6 0M489.2 290.4a3 3 0 1 0 6 0a3 3 0 1 0 -6 0M486.6 288.9a3 3 0 1 0 6 0a3 3 0 1 0 -6 0M488.4 287.4a3 3 0 1 0 6 0a3 3 0 1 0 -6 0M490.3 277.2a3 3 0 1 0 6 0a3 3 0 1 0 -6 0M489.4 274.6a3 3 0 1 0 6 0a3 3 0 1 0 -6 0M488.4 273.1a3 3 0 1 0 6 0a3 3 0 1 0 -6 0M488.8 270.3a3 3 0 1 0 6 0a3 3 0 1 0 -6 0M489.3 268.7a3 3 0 1 0 6 0a3 3 0 1 0 -6 0M487.7 266.6a3 3 0 1 0 6 0a3 3 0 1 0 -6 0M486.6 277.7a3 3 0 1 0 6 0a3 3 0 1 0 -6 0M483.9 268.1a3 3 0 1 0 6 0a3 3 0 1 0 -6 0M486 272.4a3 3 0 1 0 6 0a3 3 0 1 0 -6 0M485.3 271.6a3 3 0 1 0 6 0a3 3 0 1 0 -6 0M487.1 263.2a3 3 0 1 0 6 0a3 3 0 1 0 -6 0M487.6 261.8a3 3 0 1 0 6 0a3 3 0 1 0 -6 0M487.7 258.7a3 3 0 1 0 6 0a3 3 0 1 0 -6 0M487.4 256.2a3 3 0 1 0 6 0a3 3 0 1 0 -6 0M485.7 253.9a3 3 0 1 0 6 0a3 3 0 1 0 -6 0M485.7 250.7a3 3 0 1 0 6 0a3 3 0 1 0 -6 0M482 253.6a3 3 0 1 0 6 0a3 3 0 1 0 -6 0M484.6 254.6a3 3 0 1 0 6 0a3 3 0 1 0 -6 0M483.9 258.1a3 3 0 1 0 6 0a3 3 0 1 0 -6 0M483.1 251a3 3 0 1 0 6 0a3 3 0 1 0 -6 0M484.7 248.9a3 3 0 1 0 6 0a3 3 0 1 0 -6 0M484.6 246.6a3 3 0 1 0 6 0a3 3 0 1 0 -6 0M484.6 244a3 3 0 1 0 6 0a3 3 0 1 0 -6 0M483.2 241a3 3 0 1 0 6 0a3 3 0 1 0 -6 0M483.6 238.1a3 3 0 1 0 6 0a3 3 0 1 0 -6 0M481.3 248.2a3 3 0 1 0 6 0a3 3 0 1 0 -6 0M483.1 245.6a3 3 0 1 0 6 0a3 3 0 1 0 -6 0M480.1 241.5a3 3 0 1 0 6 0a3 3 0 1 0 -6 0M481.8 237.3a3 3 0 1 0 6 0a3 3 0 1 0 -6 0M483.1 234.7a3 3 0 1 0 6 0a3 3 0 1 0 -6 0M481.5 230.9a3 3 0 1 0 6 0a3 3 0 1 0 -6 0M481.2 228.4a3 3 0 1 0 6 0a3 3 0 1 0 -6 0M481.5 226a3 3 0 1 0 6 0a3 3 0 1 0 -6 0M479.6 228.2a3 3 0 1 0 6 0a3 3 0 1 0 -6 0M477.7 231.4a3 3 0 1 0 6 0a3 3 0 1 0 -6 0M478.6 229.3a3 3 0 1 0 6 0a3 3 0 1 0 -6 0M477.2 229.5a3 3 0 1 0 6 0a3 3 0 1 0 -6 0M471 247.6a3 3 0 1 0 6 0a3 3 0 1 0 -6 0M470.8 253.9a3 3 0 1 0 6 0a3 3 0 1 0 -6 0M477.2 308a3 3 0 1 0 6 0a3 3 0 1 0 -6 0M484.6 290.5a3 3 0 1 0 6 0a3 3 0 1 0 -6 0M493.6 287a3 3 0 1 0 6 0a3 3 0 1 0 -6 0M506 329a3 3 0 1 0 6 0a3 3 0 1 0 -6 0M510 344.6a3 3 0 1 0 6 0a3 3 0 1 0 -6 0M491.5 311a3 3 0 1 0 6 0a3 3 0 1 0 -6 0M504 312a3 3 0 1 0 6 0a3 3 0 1 0 -6 0M509 313a3 3 0 1 0 6 0a3 3 0 1 0 -6 0M581.8 227.6a3 3 0 1 0 6 0a3 3 0 1 0 -6 0M590.3 232.4a3 3 0 1 0 6 0a3 3 0 1 0 -6 0M596 234.3a3 3 0 1 0 6 0a3 3 0 1 0 -6 0M600.8 237.1a3 3 0 1 0 6 0a3 3 0 1 0 -6 0M607.5 228.6a3 3 0 1 0 6 0a3 3 0 1 0 -6 0M611.3 229.5a3 3 0 1 0 6 0a3 3 0 1 0 -6 0M583.7 242.9a3 3 0 1 0 6 0a3 3 0 1 0 -6 0M589.4 244.8a3 3 0 1 0 6 0a3 3 0 1 0 -6 0M592.2 243.8a3 3 0 1 0 6 0a3 3 0 1 0 -6 0M601.8 248.6a3 3 0 1 0 6 0a3 3 0 1 0 -6 0M584.6 251.4a3 3 0 1 0 6 0a3 3 0 1 0 -6 0M586.5 255.2a3 3 0 1 0 6 0a3 3 0 1 0 -6 0M590.3 257.1a3 3 0 1 0 6 0a3 3 0 1 0 -6 0M594.1 256.2a3 3 0 1 0 6 0a3 3 0 1 0 -6 0M588.4 262.9a3 3 0 1 0 6 0a3 3 0 1 0 -6 0M613.2 269.5a3 3 0 1 0 6 0a3 3 0 1 0 -6 0M590.3 274.3a3 3 0 1 0 6 0a3 3 0 1 0 -6 0M580.8 277.1a3 3 0 1 0 6 0a3 3 0 1 0 -6 0M578.9 279a3 3 0 1 0 6 0a3 3 0 1 0 -6 0M585.6 283.8a3 3 0 1 0 6 0a3 3 0 1 0 -6 0M595.1 286.7a3 3 0 1 0 6 0a3 3 0 1 0 -6 0M578 288.6a3 3 0 1 0 6 0a3 3 0 1 0 -6 0M577 296.2a3 3 0 1 0 6 0a3 3 0 1 0 -6 0M598.9 307.6a3 3 0 1 0 6 0a3 3 0 1 0 -6 0M576 313.3a3 3 0 1 0 6 0a3 3 0 1 0 -6 0M580.8 234.3a3 3 0 1 0 6 0a3 3 0 1 0 -6 0M582.7 239a3 3 0 1 0 6 0a3 3 0 1 0 -6 0M586.5 246.7a3 3 0 1 0 6 0a3 3 0 1 0 -6 0M578.9 260a3 3 0 1 0 6 0a3 3 0 1 0 -6 0M584 231a3 3 0 1 0 6 0a3 3 0 1 0 -6 0M587 238a3 3 0 1 0 6 0a3 3 0 1 0 -6 0M581 250a3 3 0 1 0 6 0a3 3 0 1 0 -6 0M583 256a3 3 0 1 0 6 0a3 3 0 1 0 -6 0M597 229a3 3 0 1 0 6 0a3 3 0 1 0 -6 0M587 227a3 3 0 1 0 6 0a3 3 0 1 0 -6 0"/>
<path fill="#0000ff" d="M521 225 L583 225 L585 235 L583 255 L578 265 L574 278 L577 296 L573 315 L575 326 L570 333 L566 342 L560 372 L535 376 L530 371 L525 362 L522 352 L522.5 336 L520.5 317 L519.5 298 L519.5 279 L520.5 260 L521.5 240Z"/><path fill="#0000ff" d="M577.7 227.8a3 3 0 1 0 6 0a3 3 0 1 0 -6 0M577.2 228.7a3 3 0 1 0 6 0a3 3 0 1 0 -6 0M578.2 231.1a3 3 0 1 0 6 0a3 3 0 1 0 -6 0M577.3 235.1a3 3 0 1 0 6 0a3 3 0 1 0 -6 0M579.9 227.8a3 3 0 1 0 6 0a3 3 0 1 0 -6 0M580.8 227.1a3 3 0 1 0 6 0a3 3 0 1 0 -6 0M578.3 236.4a3 3 0 1 0 6 0a3 3 0 1 0 -6 0M578.8 237.6a3 3 0 1 0 6 0a3 3 0 1 0 -6 0M576.8 240.9a3 3 0 1 0 6 0a3 3 0 1 0 -6 0M578.1 244.5a3 3 0 1 0 6 0a3 3 0 1 0 -6 0M577.2 245.9a3 3 0 1 0 6 0a3 3 0 1 0 -6 0M576.7 247.6a3 3 0 1 0 6 0a3 3 0 1 0 -6 0M576.1 250.8a3 3 0 1 0 6 0a3 3 0 1 0 -6 0M575.7 252.8a3 3 0 1 0 6 0a3 3 0 1 0 -6 0M582.5 244.6a3 3 0 1 0 6 0a3 3 0 1 0 -6 0M582.5 244.8a3 3 0 1 0 6 0a3 3 0 1 0 -6 0M579.8 248.6a3 3 0 1 0 6 0a3 3 0 1 0 -6 0M575.2 254.4a3 3 0 1 0 6 0a3 3 0 1 0 -6 0M575 255.8a3 3 0 1 0 6 0a3 3 0 1 0 -6 0M573.8 260.7a3 3 0 1 0 6 0a3 3 0 1 0 -6 0M573.3 262a3 3 0 1 0 6 0a3 3 0 1 0 -6 0M576.9 262.5a3 3 0 1 0 6 0a3 3 0 1 0 -6 0M577 262.2a3 3 0 1 0 6 0a3 3 0 1 0 -6 0M571.3 265.9a3 3 0 1 0 6 0a3 3 0 1 0 -6 0M570 269.1a3 3 0 1 0 6 0a3 3 0 1 0 -6 0M570.6 269.3a3 3 0 1 0 6 0a3 3 0 1 0 -6 0M567.9 273.4a3 3 0 1 0 6 0a3 3 0 1 0 -6 0M568.3 276.1a3 3 0 1 0 6 0a3 3 0 1 0 -6 0M573.6 274.8a3 3 0 1 0 6 0a3 3 0 1 0 -6 0M572.8 269.7a3 3 0 1 0 6 0a3 3 0 1 0 -6 0M568.2 278.5a3 3 0 1 0 6 0a3 3 0 1 0 -6 0M567.3 282.2a3 3 0 1 0 6 0a3 3 0 1 0 -6 0M569 286.3a3 3 0 1 0 6 0a3 3 0 1 0 -6 0M568.5 288.7a3 3 0 1 0 6 0a3 3 0 1 0 -6 0M569.3 291.1a3 3 0 1 0 6 0a3 3 0 1 0 -6 0M569.7 294a3 3 0 1 0 6 0a3 3 0 1 0 -6 0M570.2 296.5a3 3 0 1 0 6 0a3 3 0 1 0 -6 0M572.6 287.3a3 3 0 1 0 6 0a3 3 0 1 0 -6 0M572.5 284a3 3 0 1 0 6 0a3 3 0 1 0 -6 0M572.2 287.2a3 3 0 1 0 6 0a3 3 0 1 0 -6 0M570.7 295.8a3 3 0 1 0 6 0a3 3 0 1 0 -6 0M569.6 298.8a3 3 0 1 0 6 0a3 3 0 1 0 -6 0M568.9 300.9a3 3 0 1 0 6 0a3 3 0 1 0 -6 0M568.7 302.8a3 3 0 1 0 6 0a3 3 0 1 0 -6 0M567.8 305.3a3 3 0 1 0 6 0a3 3 0 1 0 -6 0M567 308.7a3 3 0 1 0 6 0a3 3 0 1 0 -6 0M567.6 310.8a3 3 0 1 0 6 0a3 3 0 1 0 -6 0M566.4 314.1a3 3 0 1 0 6 0a3 3 0 1 0 -6 0M573.2 301.6a3 3 0 1 0 6 0a3 3 0 1 0 -6 0M569.9 309.2a3 3 0 1 0 6 0a3 3 0 1 0 -6 0M571.2 305a3 3 0 1 0 6 0a3 3 0 1 0 -6 0M566.6 316.2a3 3 0 1 0 6 0a3 3 0 1 0 -6 0M567.4 319.3a3 3 0 1 0 6 0a3 3 0 1 0 -6 0M567.1 322.2a3 3 0 1 0 6 0a3 3 0 1 0 -6 0M568.7 325.8a3 3 0 1 0 6 0a3 3 0 1 0 -6 0M571 323.7a3 3 0 1 0 6 0a3 3 0 1 0 -6 0M570.8 322.5a3 3 0 1 0 6 0a3 3 0 1 0 -6 0M568.2 325.7a3 3 0 1 0 6 0a3 3 0 1 0 -6 0M567.4 326.5a3 3 0 1 0 6 0a3 3 0 1 0 -6 0M564.9 328.1a3 3 0 1 0 6 0a3 3 0 1 0 -6 0M567.1 329.6a3 3 0 1 0 6 0a3 3 0 1 0 -6 0M563.3 333.5a3 3 0 1 0 6 0a3 3 0 1 0 -6 0M562.9 334.8a3 3 0 1 0 6 0a3 3 0 1 0 -6 0M560.4 337.6a3 3 0 1 0 6 0a3 3 0 1 0 -6 0M560.3 339.4a3 3 0 1 0 6 0a3 3 0 1 0 -6 0M564.3 337a3 3 0 1 0 6 0a3 3 0 1 0 -6 0M562.1 340.5a3 3 0 1 0 6 0a3 3 0 1 0 -6 0M559 343.5a3 3 0 1 0 6 0a3 3 0 1 0 -6 0M559 344.9a3 3 0 1 0 6 0a3 3 0 1 0 -6 0M558.4 348.8a3 3 0 1 0 6 0a3 3 0 1 0 -6 0M558.2 349.2a3 3 0 1 0 6 0a3 3 0 1 0 -6 0M556.3 353.5a3 3 0 1 0 6 0a3 3 0 1 0 -6 0M556.1 354.5a3 3 0 1 0 6 0a3 3 0 1 0 -6 0M556.1 358.5a3 3 0 1 0 6 0a3 3 0 1 0 -6 0M555.3 359.2a3 3 0 1 0 6 0a3 3 0 1 0 -6 0M555.9 362.3a3 3 0 1 0 6 0a3 3 0 1 0 -6 0M554.5 366.1a3 3 0 1 0 6 0a3 3 0 1 0 -6 0M554 367.2a3 3 0 1 0 6 0a3 3 0 1 0 -6 0M554.6 369.6a3 3 0 1 0 6 0a3 3 0 1 0 -6 0M562.6 353.8a3 3 0 1 0 6 0a3 3 0 1 0 -6 0M559.7 352.9a3 3 0 1 0 6 0a3 3 0 1 0 -6 0M560.3 351.8a3 3 0 1 0 6 0a3 3 0 1 0 -6 0M560.5 361a3 3 0 1 0 6 0a3 3 0 1 0 -6 0M562.2 342.5a3 3 0 1 0 6 0a3 3 0 1 0 -6 0M554.9 369a3 3 0 1 0 6 0a3 3 0 1 0 -6 0M553.3 368.2a3 3 0 1 0 6 0a3 3 0 1 0 -6 0M549.2 370a3 3 0 1 0 6 0a3 3 0 1 0 -6 0M547.4 369.6a3 3 0 1 0 6 0a3 3 0 1 0 -6 0M545.7 370.9a3 3 0 1 0 6 0a3 3 0 1 0 -6 0M543.1 370.2a3 3 0 1 0 6 0a3 3 0 1 0 -6 0M539.9 371a3 3 0 1 0 6 0a3 3 0 1 0 -6 0M538.7 371.7a3 3 0 1 0 6 0a3 3 0 1 0 -6 0M535.7 371.8a3 3 0 1 0 6 0a3 3 0 1 0 -6 0M532.9 371.4a3 3 0 1 0 6 0a3 3 0 1 0 -6 0M532.5 377a3 3 0 1 0 6 0a3 3 0 1 0 -6 0M535.7 376.4a3 3 0 1 0 6 0a3 3 0 1 0 -6 0M542.4 374.8a3 3 0 1 0 6 0a3 3 0 1 0 -6 0M555.9 371a3 3 0 1 0 6 0a3 3 0 1 0 -6 0M532.3 371.7a3 3 0 1 0 6 0a3 3 0 1 0 -6 0M530.1 369a3 3 0 1 0 6 0a3 3 0 1 0 -6 0M531.4 376.1a3 3 0 1 0 6 0a3 3 0 1 0 -6 0M530.1 368.6a3 3 0 1 0 6 0a3 3 0 1 0 -6 0M528.6 364.9a3 3 0 1 0 6 0a3 3 0 1 0 -6 0M526.9 363.6a3 3 0 1 0 6 0a3 3 0 1 0 -6 0M524.9 361a3 3 0 1 0 6 0a3 3 0 1 0 -6 0M523 364.3a3 3 0 1 0 6 0a3 3 0 1 0 -6 0M520.6 362.9a3 3 0 1 0 6 0a3 3 0 1 0 -6 0M524.7 359.9a3 3 0 1 0 6 0a3 3 0 1 0 -6 0M524.1 358.6a3 3 0 1 0 6 0a3 3 0 1 0 -6 0M523.7 355.8a3 3 0 1 0 6 0a3 3 0 1 0 -6 0M523 352.4a3 3 0 1 0 6 0a3 3 0 1 0 -6 0M520 355a3 3 0 1 0 6 0a3 3 0 1 0 -6 0M517.8 352.6a3 3 0 1 0 6 0a3 3 0 1 0 -6 0M522.7 350.8a3 3 0 1 0 6 0a3 3 0 1 0 -6 0M523.5 348.5a3 3 0 1 0 6 0a3 3 0 1 0 -6 0M523.6 346.2a3 3 0 1 0 6 0a3 3 0 1 0 -6 0M522.7 343.2a3 3 0 1 0 6 0a3 3 0 1 0 -6 0M523.2 339.8a3 3 0 1 0 6 0a3 3 0 1 0 -6 0M522.4 338a3 3 0 1 0 6 0a3 3 0 1 0 -6 0M517.6 346a3 3 0 1 0 6 0a3 3 0 1 0 -6 0M519.5 341.5a3 3 0 1 0 6 0a3 3 0 1 0 -6 0M522.8 334.8a3 3 0 1 0 6 0a3 3 0 1 0 -6 0M522.4 330.6a3 3 0 1 0 6 0a3 3 0 1 0 -6 0M523.3 329a3 3 0 1 0 6 0a3 3 0 1 0 -6 0M522 326.5a3 3 0 1 0 6 0a3 3 0 1 0 -6 0M522.3 324.3a3 3 0 1 0 6 0a3 3 0 1 0 -6 0M521.5 320.2a3 3 0 1 0 6 0a3 3 0 1 0 -6 0M520.9 318.3a3 3 0 1 0 6 0a3 3 0 1 0 -6 0M519.9 327.2a3 3 0 1 0 6 0a3 3 0 1 0 -6 0M519.7 328.8a3 3 0 1 0 6 0a3 3 0 1 0 -6 0M518.3 335.6a3 3 0 1 0 6 0a3 3 0 1 0 -6 0M521.4 314.2a3 3 0 1 0 6 0a3 3 0 1 0 -6 0M521 312.3a3 3 0 1 0 6 0a3 3 0 1 0 -6 0M520.3 310.1a3 3 0 1 0 6 0a3 3 0 1 0 -6 0M521 308.2a3 3 0 1 0 6 0a3 3 0 1 0 -6 0M520.1 304.1a3 3 0 1 0 6 0a3 3 0 1 0 -6 0M519.7 301.5a3 3 0 1 0 6 0a3 3 0 1 0 -6 0M519.7 298.9a3 3 0 1 0 6 0a3 3 0 1 0 -6 0M517.4 311a3 3 0 1 0 6 0a3 3 0 1 0 -6 0M517.3 314.5a3 3 0 1 0 6 0a3 3 0 1 0 -6 0M515.4 305.4a3 3 0 1 0 6 0a3 3 0 1 0 -6 0M520.5 297.2a3 3 0 1 0 6 0a3 3 0 1 0 -6 0M520.4 293.8a3 3 0 1 0 6 0a3 3 0 1 0 -6 0M520.3 290.5a3 3 0 1 0 6 0a3 3 0 1 0 -6 0M520.1 289.3a3 3 0 1 0 6 0a3 3 0 1 0 -6 0M520.3 284.9a3 3 0 1 0 6 0a3 3 0 1 0 -6 0M520 282.4a3 3 0 1 0 6 0a3 3 0 1 0 -6 0M521 280.5a3 3 0 1 0 6 0a3 3 0 1 0 -6 0M514.9 285.6a3 3 0 1 0 6 0a3 3 0 1 0 -6 0M514.6 286.4a3 3 0 1 0 6 0a3 3 0 1 0 -6 0M518.4 280.3a3 3 0 1 0 6 0a3 3 0 1 0 -6 0M519.9 277.2a3 3 0 1 0 6 0a3 3 0 1 0 -6 0M519.9 274.2a3 3 0 1 0 6 0a3 3 0 1 0 -6 0M520.6 271.5a3 3 0 1 0 6 0a3 3 0 1 0 -6 0M521.3 271a3 3 0 1 0 6 0a3 3 0 1 0 -6 0M521.4 267.2a3 3 0 1 0 6 0a3 3 0 1 0 -6 0M521.1 263.8a3 3 0 1 0 6 0a3 3 0 1 0 -6 0M520.6 260.5a3 3 0 1 0 6 0a3 3 0 1 0 -6 0M514.9 272.5a3 3 0 1 0 6 0a3 3 0 1 0 -6 0M515.1 272.5a3 3 0 1 0 6 0a3 3 0 1 0 -6 0M521.4 260a3 3 0 1 0 6 0a3 3 0 1 0 -6 0M520.7 257.4a3 3 0 1 0 6 0a3 3 0 1 0 -6 0M521.1 254.4a3 3 0 1 0 6 0a3 3 0 1 0 -6 0M522.4 250.4a3 3 0 1 0 6 0a3 3 0 1 0 -6 0M522.7 248.1a3 3 0 1 0 6 0a3 3 0 1 0 -6 0M522.4 246.6a3 3 0 1 0 6 0a3 3 0 1 0 -6 0M522.7 244.5a3 3 0 1 0 6 0a3 3 0 1 0 -6 0M522.6 240.7a3 3 0 1 0 6 0a3 3 0 1 0 -6 0M519.3 258.3a3 3 0 1 0 6 0a3 3 0 1 0 -6 0M518.5 249a3 3 0 1 0 6 0a3 3 0 1 0 -6 0M516.9 242.7a3 3 0 1 0 6 0a3 3 0 1 0 -6 0M522.1 238.1a3 3 0 1 0 6 0a3 3 0 1 0 -6 0M522 235.4a3 3 0 1 0 6 0a3 3 0 1 0 -6 0M522.8 234.4a3 3 0 1 0 6 0a3 3 0 1 0 -6 0M522.4 231.7a3 3 0 1 0 6 0a3 3 0 1 0 -6 0M521.3 227.8a3 3 0 1 0 6 0a3 3 0 1 0 -6 0M521.5 225.6a3 3 0 1 0 6 0a3 3 0 1 0 -6 0M520.2 236.7a3 3 0 1 0 6 0a3 3 0 1 0 -6 0M518.4 234.5a3 3 0 1 0 6 0a3 3 0 1 0 -6 0M516.4 232.5a3 3 0 1 0 6 0a3 3 0 1 0 -6 0M575 300a3 3 0 1 0 6 0a3 3 0 1 0 -6 0M577 318a3 3 0 1 0 6 0a3 3 0 1 0 -6 0M570 329a3 3 0 1 0 6 0a3 3 0 1 0 -6 0M572 336a3 3 0 1 0 6 0a3 3 0 1 0 -6 0M520 357a3 3 0 1 0 6 0a3 3 0 1 0 -6 0M522 366a3 3 0 1 0 6 0a3 3 0 1 0 -6 0M527 372a3 3 0 1 0 6 0a3 3 0 1 0 -6 0"/>
<path fill="#00ff00" d="M545 225 L573 225 L570 250 L566 262 L565.7 300 L566 340 L567 352 L565 373 L561 385 L554 398 L549 404.5 L543 404.5 L538.5 401 L535.3 393 L533.5 373 L534.3 355 L536.2 336 L538 317 L540 298 L542.9 279 L545.5 260 L545.5 240Z"/><path fill="#00ff00" d="M566 226.4a3 3 0 1 0 6 0a3 3 0 1 0 -6 0M566.2 229.3a3 3 0 1 0 6 0a3 3 0 1 0 -6 0M566.1 230.1a3 3 0 1 0 6 0a3 3 0 1 0 -6 0M565.2 233.9a3 3 0 1 0 6 0a3 3 0 1 0 -6 0M565.2 235.6a3 3 0 1 0 6 0a3 3 0 1 0 -6 0M564.4 237.4a3 3 0 1 0 6 0a3 3 0 1 0 -6 0M564.6 240.8a3 3 0 1 0 6 0a3 3 0 1 0 -6 0M564.6 244.1a3 3 0 1 0 6 0a3 3 0 1 0 -6 0M564.1 246.4a3 3 0 1 0 6 0a3 3 0 1 0 -6 0M564.1 249.2a3 3 0 1 0 6 0a3 3 0 1 0 -6 0M566.6 240.7a3 3 0 1 0 6 0a3 3 0 1 0 -6 0M563.3 249.8a3 3 0 1 0 6 0a3 3 0 1 0 -6 0M562.8 251.8a3 3 0 1 0 6 0a3 3 0 1 0 -6 0M561.7 253.6a3 3 0 1 0 6 0a3 3 0 1 0 -6 0M560.6 256.6a3 3 0 1 0 6 0a3 3 0 1 0 -6 0M559.9 259.8a3 3 0 1 0 6 0a3 3 0 1 0 -6 0M559.1 262.3a3 3 0 1 0 6 0a3 3 0 1 0 -6 0M559 265.2a3 3 0 1 0 6 0a3 3 0 1 0 -6 0M559.2 269a3 3 0 1 0 6 0a3 3 0 1 0 -6 0M559.5 271.6a3 3 0 1 0 6 0a3 3 0 1 0 -6 0M558.8 273.8a3 3 0 1 0 6 0a3 3 0 1 0 -6 0M560 275.1a3 3 0 1 0 6 0a3 3 0 1 0 -6 0M559.4 278.2a3 3 0 1 0 6 0a3 3 0 1 0 -6 0M559.7 280.1a3 3 0 1 0 6 0a3 3 0 1 0 -6 0M559.5 284.4a3 3 0 1 0 6 0a3 3 0 1 0 -6 0M559.8 285.2a3 3 0 1 0 6 0a3 3 0 1 0 -6 0M559.7 288.8a3 3 0 1 0 6 0a3 3 0 1 0 -6 0M559.2 291a3 3 0 1 0 6 0a3 3 0 1 0 -6 0M559.2 293.5a3 3 0 1 0 6 0a3 3 0 1 0 -6 0M559.9 297a3 3 0 1 0 6 0a3 3 0 1 0 -6 0M559.6 299.8a3 3 0 1 0 6 0a3 3 0 1 0 -6 0M561.1 291.2a3 3 0 1 0 6 0a3 3 0 1 0 -6 0M561.9 282.4a3 3 0 1 0 6 0a3 3 0 1 0 -6 0M559.5 302a3 3 0 1 0 6 0a3 3 0 1 0 -6 0M559.6 304.3a3 3 0 1 0 6 0a3 3 0 1 0 -6 0M559 306.5a3 3 0 1 0 6 0a3 3 0 1 0 -6 0M559.3 308.5a3 3 0 1 0 6 0a3 3 0 1 0 -6 0M559.1 310.2a3 3 0 1 0 6 0a3 3 0 1 0 -6 0M559.8 314.3a3 3 0 1 0 6 0a3 3 0 1 0 -6 0M559 316.4a3 3 0 1 0 6 0a3 3 0 1 0 -6 0M558.9 317.8a3 3 0 1 0 6 0a3 3 0 1 0 -6 0M560 322.2a3 3 0 1 0 6 0a3 3 0 1 0 -6 0M560 323.1a3 3 0 1 0 6 0a3 3 0 1 0 -6 0M560 325.7a3 3 0 1 0 6 0a3 3 0 1 0 -6 0M559.8 328.7a3 3 0 1 0 6 0a3 3 0 1 0 -6 0M559.5 330.8a3 3 0 1 0 6 0a3 3 0 1 0 -6 0M559 333.5a3 3 0 1 0 6 0a3 3 0 1 0 -6 0M560 336.8a3 3 0 1 0 6 0a3 3 0 1 0 -6 0M560.2 338.1a3 3 0 1 0 6 0a3 3 0 1 0 -6 0M560.8 304.3a3 3 0 1 0 6 0a3 3 0 1 0 -6 0M560.4 331.2a3 3 0 1 0 6 0a3 3 0 1 0 -6 0M560.2 340.7a3 3 0 1 0 6 0a3 3 0 1 0 -6 0M560 344.5a3 3 0 1 0 6 0a3 3 0 1 0 -6 0M560.2 347.3a3 3 0 1 0 6 0a3 3 0 1 0 -6 0M560.8 348.2a3 3 0 1 0 6 0a3 3 0 1 0 -6 0M560.5 352.2a3 3 0 1 0 6 0a3 3 0 1 0 -6 0M561.4 345.4a3 3 0 1 0 6 0a3 3 0 1 0 -6 0M560.3 353.9a3 3 0 1 0 6 0a3 3 0 1 0 -6 0M560.4 354.8a3 3 0 1 0 6 0a3 3 0 1 0 -6 0M559.9 359.3a3 3 0 1 0 6 0a3 3 0 1 0 -6 0M559.5 361.3a3 3 0 1 0 6 0a3 3 0 1 0 -6 0M559.3 363.4a3 3 0 1 0 6 0a3 3 0 1 0 -6 0M559.1 365.4a3 3 0 1 0 6 0a3 3 0 1 0 -6 0M559.4 369.7a3 3 0 1 0 6 0a3 3 0 1 0 -6 0M558.1 371a3 3 0 1 0 6 0a3 3 0 1 0 -6 0M558.5 371.9a3 3 0 1 0 6 0a3 3 0 1 0 -6 0M556.9 375.7a3 3 0 1 0 6 0a3 3 0 1 0 -6 0M557.2 378a3 3 0 1 0 6 0a3 3 0 1 0 -6 0M555.8 379.7a3 3 0 1 0 6 0a3 3 0 1 0 -6 0M555.3 383.4a3 3 0 1 0 6 0a3 3 0 1 0 -6 0M554 384.7a3 3 0 1 0 6 0a3 3 0 1 0 -6 0M553.8 385.6a3 3 0 1 0 6 0a3 3 0 1 0 -6 0M552.1 388.3a3 3 0 1 0 6 0a3 3 0 1 0 -6 0M551.5 390.8a3 3 0 1 0 6 0a3 3 0 1 0 -6 0M549.7 393.6a3 3 0 1 0 6 0a3 3 0 1 0 -6 0M548.4 396a3 3 0 1 0 6 0a3 3 0 1 0 -6 0M551.7 395.2a3 3 0 1 0 6 0a3 3 0 1 0 -6 0M547.5 397.8a3 3 0 1 0 6 0a3 3 0 1 0 -6 0M545.5 400.5a3 3 0 1 0 6 0a3 3 0 1 0 -6 0M543.8 401.9a3 3 0 1 0 6 0a3 3 0 1 0 -6 0M547.8 399.7a3 3 0 1 0 6 0a3 3 0 1 0 -6 0M544.8 401.5a3 3 0 1 0 6 0a3 3 0 1 0 -6 0M541.4 401.3a3 3 0 1 0 6 0a3 3 0 1 0 -6 0M541.2 401.1a3 3 0 1 0 6 0a3 3 0 1 0 -6 0M539.8 399.1a3 3 0 1 0 6 0a3 3 0 1 0 -6 0M538.5 397.8a3 3 0 1 0 6 0a3 3 0 1 0 -6 0M537.6 395.9a3 3 0 1 0 6 0a3 3 0 1 0 -6 0M535.8 393.8a3 3 0 1 0 6 0a3 3 0 1 0 -6 0M536.2 396.6a3 3 0 1 0 6 0a3 3 0 1 0 -6 0M535.7 392.2a3 3 0 1 0 6 0a3 3 0 1 0 -6 0M535.1 388.3a3 3 0 1 0 6 0a3 3 0 1 0 -6 0M535.3 387.3a3 3 0 1 0 6 0a3 3 0 1 0 -6 0M535.6 384.1a3 3 0 1 0 6 0a3 3 0 1 0 -6 0M534.3 380.5a3 3 0 1 0 6 0a3 3 0 1 0 -6 0M534.4 378.8a3 3 0 1 0 6 0a3 3 0 1 0 -6 0M534.4 377.6a3 3 0 1 0 6 0a3 3 0 1 0 -6 0M533.7 372.9a3 3 0 1 0 6 0a3 3 0 1 0 -6 0M531.6 378.7a3 3 0 1 0 6 0a3 3 0 1 0 -6 0M533.6 370.8a3 3 0 1 0 6 0a3 3 0 1 0 -6 0M534.4 369.8a3 3 0 1 0 6 0a3 3 0 1 0 -6 0M534.1 368a3 3 0 1 0 6 0a3 3 0 1 0 -6 0M534.3 365.1a3 3 0 1 0 6 0a3 3 0 1 0 -6 0M534 362.8a3 3 0 1 0 6 0a3 3 0 1 0 -6 0M534 359.7a3 3 0 1 0 6 0a3 3 0 1 0 -6 0M534.3 357.5a3 3 0 1 0 6 0a3 3 0 1 0 -6 0M532.7 370.6a3 3 0 1 0 6 0a3 3 0 1 0 -6 0M534.6 354.2a3 3 0 1 0 6 0a3 3 0 1 0 -6 0M535.6 352a3 3 0 1 0 6 0a3 3 0 1 0 -6 0M535.7 349.8a3 3 0 1 0 6 0a3 3 0 1 0 -6 0M536.2 347a3 3 0 1 0 6 0a3 3 0 1 0 -6 0M536.1 343.4a3 3 0 1 0 6 0a3 3 0 1 0 -6 0M535.8 339.4a3 3 0 1 0 6 0a3 3 0 1 0 -6 0M536.7 338.9a3 3 0 1 0 6 0a3 3 0 1 0 -6 0M533.7 341.4a3 3 0 1 0 6 0a3 3 0 1 0 -6 0M536.4 334.9a3 3 0 1 0 6 0a3 3 0 1 0 -6 0M536.7 332.4a3 3 0 1 0 6 0a3 3 0 1 0 -6 0M537.1 329.3a3 3 0 1 0 6 0a3 3 0 1 0 -6 0M537.7 327.5a3 3 0 1 0 6 0a3 3 0 1 0 -6 0M538.2 325.3a3 3 0 1 0 6 0a3 3 0 1 0 -6 0M537.7 321.4a3 3 0 1 0 6 0a3 3 0 1 0 -6 0M538.3 319.7a3 3 0 1 0 6 0a3 3 0 1 0 -6 0M535.7 322.4a3 3 0 1 0 6 0a3 3 0 1 0 -6 0M539.1 316.3a3 3 0 1 0 6 0a3 3 0 1 0 -6 0M539.5 314a3 3 0 1 0 6 0a3 3 0 1 0 -6 0M540 309.6a3 3 0 1 0 6 0a3 3 0 1 0 -6 0M539.3 306.6a3 3 0 1 0 6 0a3 3 0 1 0 -6 0M540 304.3a3 3 0 1 0 6 0a3 3 0 1 0 -6 0M540.7 303.3a3 3 0 1 0 6 0a3 3 0 1 0 -6 0M540.8 299.4a3 3 0 1 0 6 0a3 3 0 1 0 -6 0M537.4 315.7a3 3 0 1 0 6 0a3 3 0 1 0 -6 0M540.2 298.1a3 3 0 1 0 6 0a3 3 0 1 0 -6 0M540.6 294.6a3 3 0 1 0 6 0a3 3 0 1 0 -6 0M541.6 292.7a3 3 0 1 0 6 0a3 3 0 1 0 -6 0M541.8 291.2a3 3 0 1 0 6 0a3 3 0 1 0 -6 0M541.9 288.8a3 3 0 1 0 6 0a3 3 0 1 0 -6 0M542.8 285.2a3 3 0 1 0 6 0a3 3 0 1 0 -6 0M542.2 284.1a3 3 0 1 0 6 0a3 3 0 1 0 -6 0M543.2 279.6a3 3 0 1 0 6 0a3 3 0 1 0 -6 0M540 291.2a3 3 0 1 0 6 0a3 3 0 1 0 -6 0M543.9 277.5a3 3 0 1 0 6 0a3 3 0 1 0 -6 0M544 275.7a3 3 0 1 0 6 0a3 3 0 1 0 -6 0M543.9 272.6a3 3 0 1 0 6 0a3 3 0 1 0 -6 0M545.5 268.8a3 3 0 1 0 6 0a3 3 0 1 0 -6 0M545.8 266.6a3 3 0 1 0 6 0a3 3 0 1 0 -6 0M545.9 264.7a3 3 0 1 0 6 0a3 3 0 1 0 -6 0M546 262.6a3 3 0 1 0 6 0a3 3 0 1 0 -6 0M544.5 261.5a3 3 0 1 0 6 0a3 3 0 1 0 -6 0M545.7 257.8a3 3 0 1 0 6 0a3 3 0 1 0 -6 0M546 255.5a3 3 0 1 0 6 0a3 3 0 1 0 -6 0M545.8 254.2a3 3 0 1 0 6 0a3 3 0 1 0 -6 0M546.5 250.5a3 3 0 1 0 6 0a3 3 0 1 0 -6 0M546.2 247.9a3 3 0 1 0 6 0a3 3 0 1 0 -6 0M545.5 247.1a3 3 0 1 0 6 0a3 3 0 1 0 -6 0M545.6 243.6a3 3 0 1 0 6 0a3 3 0 1 0 -6 0M545.4 241.7a3 3 0 1 0 6 0a3 3 0 1 0 -6 0M543.4 245.7a3 3 0 1 0 6 0a3 3 0 1 0 -6 0M545.7 237.8a3 3 0 1 0 6 0a3 3 0 1 0 -6 0M545.6 235.3a3 3 0 1 0 6 0a3 3 0 1 0 -6 0M545.7 234.2a3 3 0 1 0 6 0a3 3 0 1 0 -6 0M545.7 232.4a3 3 0 1 0 6 0a3 3 0 1 0 -6 0M545 229a3 3 0 1 0 6 0a3 3 0 1 0 -6 0M545.3 225.2a3 3 0 1 0 6 0a3 3 0 1 0 -6 0M543 225.6a3 3 0 1 0 6 0a3 3 0 1 0 -6 0"/>
<line x1="446" y1="340.4" x2="652.5" y2="340.4" stroke="#ff00ff" stroke-width="3" stroke-dasharray="4 2.7"/>
<line x1="446" y1="385.2" x2="652.5" y2="385.2" stroke="#0000e0" stroke-width="3" stroke-dasharray="4 2.7"/>
<line x1="446" y1="403.3" x2="652.5" y2="403.3" stroke="#00ff00" stroke-width="3" stroke-dasharray="4 2.7"/>
<text clip-path="url(#c1)" x="408.1" y="234.1" font-family="Liberation Sans, Arial, sans-serif" font-size="23" fill="#141414">0.1</text>
<text x="428.1" y="423.7" font-family="Liberation Sans, Arial, sans-serif" font-size="23" fill="#141414">0</text>
<text clip-path="url(#c2)" x="430.1" y="440.2" font-family="Liberation Sans, Arial, sans-serif" font-size="23" fill="#141414">-1</text>
<text clip-path="url(#c3)" x="646.7" y="440.3" font-family="Liberation Sans, Arial, sans-serif" font-size="23" fill="#141414">1</text>
<text transform="translate(541.3 458.5) scale(1.091 1)" font-family="Liberation Serif, Times New Roman, serif" font-size="39.7" fill="#141414">λ</text>
<text transform="translate(564 462.7) scale(1.118 1)" font-family="DejaVu Serif, serif" font-style="italic" font-size="24.5" fill="#141414">ν</text>
<g transform="rotate(-90)"><text transform="translate(-336 397.5) scale(1.037 1)" font-family="Liberation Serif, Times New Roman, serif" font-style="italic" font-size="38.7" fill="#141414">α</text><text transform="translate(-312.4 404.1) scale(1.183 1)" font-family="DejaVu Serif, serif" font-style="italic" font-size="23.3" fill="#141414">ν</text><text transform="translate(-310.8 392.7) scale(0.945 1)" font-family="DejaVu Sans, sans-serif" font-size="26.4" fill="#141414">*</text></g>
<line x1="373.8" y1="317.6" x2="373.8" y2="331.5" stroke="#141414" stroke-width="1.4"/>
<defs><clipPath id="c0" clipPathUnits="userSpaceOnUse"><rect x="0" y="0" width="685" height="68.5"/><rect x="0" y="0" width="137" height="525"/><rect x="142.2" y="0" width="2.3" height="525"/></clipPath><clipPath id="c1" clipPathUnits="userSpaceOnUse"><rect x="0" y="0" width="685" height="231.8"/><rect x="0" y="0" width="428" height="525"/><rect x="432.9" y="0" width="2.2" height="525"/></clipPath><clipPath id="c2" clipPathUnits="userSpaceOnUse"><rect x="0" y="0" width="685" height="437.9"/><rect x="0" y="0" width="438.4" height="525"/><rect x="443.4" y="0" width="2.2" height="525"/></clipPath><clipPath id="c3" clipPathUnits="userSpaceOnUse"><rect x="0" y="0" width="685" height="438"/><rect x="0" y="0" width="647.4" height="525"/><rect x="652.3" y="0" width="2.2" height="525"/></clipPath></defs>
</svg>
</body></html>
